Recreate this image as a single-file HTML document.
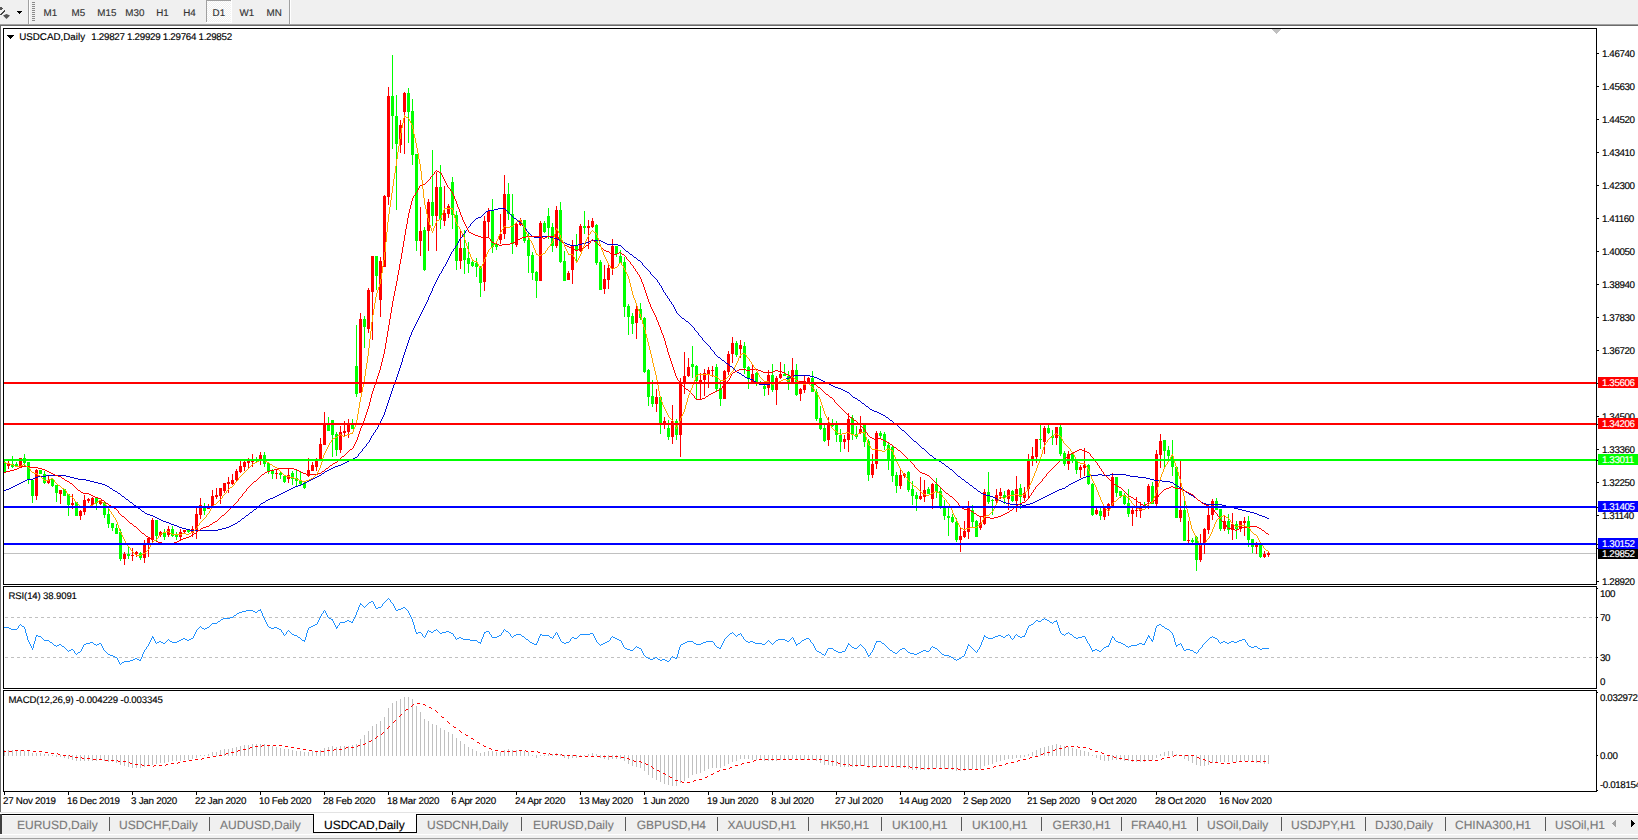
<!DOCTYPE html><html><head><meta charset="utf-8"><title>USDCAD,Daily</title><style>html,body{margin:0;padding:0;background:#fff;}body{width:1638px;height:840px;overflow:hidden;position:relative;}svg text{white-space:pre;}</style></head><body><svg width="1638" height="840" viewBox="0 0 1638 840" shape-rendering="crispEdges" text-rendering="geometricPrecision" font-family="Liberation Sans, Arial, sans-serif" style="position:absolute;left:0;top:0">
<rect x="0" y="0" width="1638" height="840" fill="#ffffff"/>
<rect x="0" y="0" width="1638" height="24" fill="#f0f0f0"/>
<rect x="0" y="24" width="1638" height="1" fill="#a0a0a0"/>
<rect x="0" y="25" width="1638" height="1" fill="#6b6b6b"/>
<path d="M0 7 L2 7 L3 9 L1 10 L0 10 Z" fill="#555"/>
<path d="M0 14 L4 10 L5 11 L1 15 L0 15 Z" fill="#444"/>
<path d="M3 15.5 L6.5 14 L10 15.5 L6.5 19 Z" fill="#555" shape-rendering="auto"/>
<rect x="17" y="11" width="5" height="1" fill="#000"/>
<rect x="18" y="12" width="3" height="1" fill="#000"/>
<rect x="19" y="13" width="1" height="1" fill="#000"/>
<rect x="28" y="0" width="1" height="24" fill="#a0a0a0"/>
<rect x="29" y="0" width="1" height="24" fill="#ffffff"/>
<rect x="32" y="2" width="3" height="1" fill="#8a8a8a"/>
<rect x="32" y="4" width="3" height="1" fill="#8a8a8a"/>
<rect x="32" y="6" width="3" height="1" fill="#8a8a8a"/>
<rect x="32" y="8" width="3" height="1" fill="#8a8a8a"/>
<rect x="32" y="10" width="3" height="1" fill="#8a8a8a"/>
<rect x="32" y="12" width="3" height="1" fill="#8a8a8a"/>
<rect x="32" y="14" width="3" height="1" fill="#8a8a8a"/>
<rect x="32" y="16" width="3" height="1" fill="#8a8a8a"/>
<rect x="32" y="18" width="3" height="1" fill="#8a8a8a"/>
<rect x="32" y="20" width="3" height="1" fill="#8a8a8a"/>
<rect x="289" y="0" width="1" height="24" fill="#a0a0a0"/>
<rect x="290" y="0" width="1" height="24" fill="#ffffff"/>
<defs><pattern id="chk" x="0" y="0" width="2" height="2" patternUnits="userSpaceOnUse"><rect width="2" height="2" fill="#f0f0f0"/><rect width="1" height="1" fill="#fff"/><rect x="1" y="1" width="1" height="1" fill="#fff"/></pattern></defs>
<rect x="206" y="0" width="25" height="22" fill="url(#chk)"/>
<rect x="206" y="0" width="25" height="1" fill="#a0a0a0"/>
<rect x="206" y="0" width="1" height="22" fill="#a0a0a0"/>
<rect x="231" y="0" width="1" height="23" fill="#ffffff"/>
<rect x="206" y="22" width="26" height="1" fill="#ffffff"/>
<text x="43.6" y="16" font-size="9.8" fill="#333333" stroke="#333333" stroke-width="0.15">M1</text>
<text x="71.6" y="16" font-size="9.8" fill="#333333" stroke="#333333" stroke-width="0.15">M5</text>
<text x="97.3" y="16" font-size="9.8" fill="#333333" stroke="#333333" stroke-width="0.15">M15</text>
<text x="125.3" y="16" font-size="9.8" fill="#333333" stroke="#333333" stroke-width="0.15">M30</text>
<text x="156.2" y="16" font-size="9.8" fill="#333333" stroke="#333333" stroke-width="0.15">H1</text>
<text x="183.2" y="16" font-size="9.8" fill="#333333" stroke="#333333" stroke-width="0.15">H4</text>
<text x="212.6" y="16" font-size="9.8" fill="#333333" stroke="#333333" stroke-width="0.15">D1</text>
<text x="239.6" y="16" font-size="9.8" fill="#333333" stroke="#333333" stroke-width="0.15">W1</text>
<text x="266.5" y="16" font-size="9.8" fill="#333333" stroke="#333333" stroke-width="0.15">MN</text>
<rect x="0" y="26" width="1" height="786" fill="#6d6d6d"/>
<defs><clipPath id="cm"><rect x="4" y="29" width="1592" height="555"/></clipPath><clipPath id="cr"><rect x="4" y="587" width="1592" height="101"/></clipPath><clipPath id="cd"><rect x="4" y="691" width="1592" height="100"/></clipPath></defs>
<g clip-path="url(#cm)">
<rect x="4" y="553" width="1592" height="1" fill="#c0c0c0"/>
<rect x="4" y="460" width="1" height="13" fill="#00ff00"/>
<rect x="3" y="462" width="3" height="10" fill="#00ff00"/>
<rect x="8" y="461" width="1" height="8" fill="#ff0000"/>
<rect x="7" y="464" width="3" height="2" fill="#ff0000"/>
<rect x="12" y="456" width="1" height="12" fill="#00ff00"/>
<rect x="11" y="464" width="3" height="3" fill="#00ff00"/>
<rect x="16" y="462" width="1" height="4" fill="#00ff00"/>
<rect x="15" y="464" width="3" height="2" fill="#00ff00"/>
<rect x="20" y="458" width="1" height="10" fill="#ff0000"/>
<rect x="19" y="458" width="3" height="9" fill="#ff0000"/>
<rect x="24" y="454" width="1" height="12" fill="#00ff00"/>
<rect x="23" y="458" width="3" height="5" fill="#00ff00"/>
<rect x="28" y="462" width="1" height="22" fill="#00ff00"/>
<rect x="27" y="462" width="3" height="17" fill="#00ff00"/>
<rect x="32" y="480" width="1" height="23" fill="#00ff00"/>
<rect x="31" y="480" width="3" height="16" fill="#00ff00"/>
<rect x="36" y="469" width="1" height="31" fill="#ff0000"/>
<rect x="35" y="470" width="3" height="26" fill="#ff0000"/>
<rect x="40" y="470" width="1" height="4" fill="#00ff00"/>
<rect x="39" y="470" width="3" height="4" fill="#00ff00"/>
<rect x="44" y="471" width="1" height="13" fill="#00ff00"/>
<rect x="43" y="474" width="3" height="9" fill="#00ff00"/>
<rect x="48" y="476" width="1" height="8" fill="#ff0000"/>
<rect x="47" y="480" width="3" height="3" fill="#ff0000"/>
<rect x="52" y="478" width="1" height="9" fill="#00ff00"/>
<rect x="51" y="479" width="3" height="7" fill="#00ff00"/>
<rect x="56" y="485" width="1" height="17" fill="#00ff00"/>
<rect x="55" y="485" width="3" height="8" fill="#00ff00"/>
<rect x="60" y="490" width="1" height="14" fill="#ff0000"/>
<rect x="59" y="490" width="3" height="4" fill="#ff0000"/>
<rect x="64" y="489" width="1" height="7" fill="#00ff00"/>
<rect x="63" y="489" width="3" height="7" fill="#00ff00"/>
<rect x="68" y="494" width="1" height="22" fill="#00ff00"/>
<rect x="67" y="494" width="3" height="11" fill="#00ff00"/>
<rect x="72" y="494" width="1" height="15" fill="#ff0000"/>
<rect x="71" y="503" width="3" height="2" fill="#ff0000"/>
<rect x="76" y="502" width="1" height="14" fill="#00ff00"/>
<rect x="75" y="502" width="3" height="14" fill="#00ff00"/>
<rect x="80" y="510" width="1" height="10" fill="#ff0000"/>
<rect x="79" y="511" width="3" height="5" fill="#ff0000"/>
<rect x="84" y="495" width="1" height="20" fill="#ff0000"/>
<rect x="83" y="500" width="3" height="12" fill="#ff0000"/>
<rect x="88" y="498" width="1" height="5" fill="#ff0000"/>
<rect x="87" y="499" width="3" height="2" fill="#ff0000"/>
<rect x="92" y="497" width="1" height="8" fill="#ff0000"/>
<rect x="91" y="498" width="3" height="7" fill="#ff0000"/>
<rect x="96" y="498" width="1" height="12" fill="#00ff00"/>
<rect x="95" y="498" width="3" height="5" fill="#00ff00"/>
<rect x="100" y="500" width="1" height="5" fill="#ff0000"/>
<rect x="99" y="500" width="3" height="4" fill="#ff0000"/>
<rect x="104" y="502" width="1" height="16" fill="#00ff00"/>
<rect x="103" y="502" width="3" height="13" fill="#00ff00"/>
<rect x="108" y="509" width="1" height="19" fill="#00ff00"/>
<rect x="107" y="514" width="3" height="10" fill="#00ff00"/>
<rect x="112" y="523" width="1" height="8" fill="#00ff00"/>
<rect x="111" y="523" width="3" height="5" fill="#00ff00"/>
<rect x="116" y="524" width="1" height="10" fill="#00ff00"/>
<rect x="115" y="528" width="3" height="6" fill="#00ff00"/>
<rect x="120" y="529" width="1" height="32" fill="#00ff00"/>
<rect x="119" y="532" width="3" height="27" fill="#00ff00"/>
<rect x="124" y="552" width="1" height="13" fill="#ff0000"/>
<rect x="123" y="554" width="3" height="5" fill="#ff0000"/>
<rect x="128" y="547" width="1" height="12" fill="#00ff00"/>
<rect x="127" y="554" width="3" height="2" fill="#00ff00"/>
<rect x="132" y="548" width="1" height="13" fill="#ff0000"/>
<rect x="131" y="555" width="3" height="1" fill="#ff0000"/>
<rect x="136" y="551" width="1" height="6" fill="#ff0000"/>
<rect x="135" y="552" width="3" height="2" fill="#ff0000"/>
<rect x="140" y="552" width="1" height="8" fill="#00ff00"/>
<rect x="139" y="553" width="3" height="5" fill="#00ff00"/>
<rect x="144" y="540" width="1" height="23" fill="#ff0000"/>
<rect x="143" y="545" width="3" height="13" fill="#ff0000"/>
<rect x="148" y="537" width="1" height="20" fill="#ff0000"/>
<rect x="147" y="538" width="3" height="7" fill="#ff0000"/>
<rect x="152" y="518" width="1" height="25" fill="#ff0000"/>
<rect x="151" y="520" width="3" height="20" fill="#ff0000"/>
<rect x="156" y="520" width="1" height="21" fill="#00ff00"/>
<rect x="155" y="520" width="3" height="16" fill="#00ff00"/>
<rect x="160" y="531" width="1" height="6" fill="#ff0000"/>
<rect x="159" y="532" width="3" height="3" fill="#ff0000"/>
<rect x="164" y="529" width="1" height="11" fill="#00ff00"/>
<rect x="163" y="533" width="3" height="4" fill="#00ff00"/>
<rect x="168" y="526" width="1" height="11" fill="#ff0000"/>
<rect x="167" y="529" width="3" height="6" fill="#ff0000"/>
<rect x="172" y="526" width="1" height="11" fill="#00ff00"/>
<rect x="171" y="529" width="3" height="7" fill="#00ff00"/>
<rect x="176" y="532" width="1" height="8" fill="#00ff00"/>
<rect x="175" y="535" width="3" height="2" fill="#00ff00"/>
<rect x="180" y="529" width="1" height="11" fill="#ff0000"/>
<rect x="179" y="532" width="3" height="5" fill="#ff0000"/>
<rect x="184" y="530" width="1" height="3" fill="#ff0000"/>
<rect x="183" y="530" width="3" height="2" fill="#ff0000"/>
<rect x="188" y="529" width="1" height="4" fill="#00ff00"/>
<rect x="187" y="530" width="3" height="2" fill="#00ff00"/>
<rect x="192" y="526" width="1" height="11" fill="#ff0000"/>
<rect x="191" y="529" width="3" height="4" fill="#ff0000"/>
<rect x="196" y="508" width="1" height="31" fill="#ff0000"/>
<rect x="195" y="514" width="3" height="16" fill="#ff0000"/>
<rect x="200" y="498" width="1" height="21" fill="#ff0000"/>
<rect x="199" y="505" width="3" height="10" fill="#ff0000"/>
<rect x="204" y="503" width="1" height="12" fill="#00ff00"/>
<rect x="203" y="506" width="3" height="5" fill="#00ff00"/>
<rect x="208" y="504" width="1" height="5" fill="#ff0000"/>
<rect x="207" y="506" width="3" height="3" fill="#ff0000"/>
<rect x="212" y="490" width="1" height="16" fill="#ff0000"/>
<rect x="211" y="496" width="3" height="10" fill="#ff0000"/>
<rect x="216" y="488" width="1" height="11" fill="#ff0000"/>
<rect x="215" y="495" width="3" height="2" fill="#ff0000"/>
<rect x="220" y="488" width="1" height="16" fill="#ff0000"/>
<rect x="219" y="488" width="3" height="8" fill="#ff0000"/>
<rect x="224" y="483" width="1" height="10" fill="#ff0000"/>
<rect x="223" y="483" width="3" height="8" fill="#ff0000"/>
<rect x="228" y="477" width="1" height="16" fill="#ff0000"/>
<rect x="227" y="482" width="3" height="2" fill="#ff0000"/>
<rect x="232" y="474" width="1" height="11" fill="#ff0000"/>
<rect x="231" y="480" width="3" height="4" fill="#ff0000"/>
<rect x="236" y="469" width="1" height="12" fill="#ff0000"/>
<rect x="235" y="471" width="3" height="9" fill="#ff0000"/>
<rect x="240" y="461" width="1" height="12" fill="#ff0000"/>
<rect x="239" y="466" width="3" height="6" fill="#ff0000"/>
<rect x="244" y="460" width="1" height="11" fill="#ff0000"/>
<rect x="243" y="462" width="3" height="5" fill="#ff0000"/>
<rect x="248" y="458" width="1" height="11" fill="#ff0000"/>
<rect x="247" y="461" width="3" height="2" fill="#ff0000"/>
<rect x="252" y="454" width="1" height="13" fill="#ff0000"/>
<rect x="251" y="460" width="3" height="2" fill="#ff0000"/>
<rect x="256" y="457" width="1" height="5" fill="#00ff00"/>
<rect x="255" y="460" width="3" height="1" fill="#00ff00"/>
<rect x="260" y="452" width="1" height="13" fill="#ff0000"/>
<rect x="259" y="455" width="3" height="4" fill="#ff0000"/>
<rect x="264" y="452" width="1" height="15" fill="#00ff00"/>
<rect x="263" y="455" width="3" height="9" fill="#00ff00"/>
<rect x="268" y="463" width="1" height="11" fill="#00ff00"/>
<rect x="267" y="463" width="3" height="8" fill="#00ff00"/>
<rect x="272" y="469" width="1" height="10" fill="#00ff00"/>
<rect x="271" y="471" width="3" height="3" fill="#00ff00"/>
<rect x="276" y="470" width="1" height="9" fill="#ff0000"/>
<rect x="275" y="473" width="3" height="1" fill="#ff0000"/>
<rect x="280" y="471" width="1" height="8" fill="#00ff00"/>
<rect x="279" y="473" width="3" height="2" fill="#00ff00"/>
<rect x="284" y="476" width="1" height="7" fill="#00ff00"/>
<rect x="283" y="476" width="3" height="6" fill="#00ff00"/>
<rect x="288" y="468" width="1" height="15" fill="#ff0000"/>
<rect x="287" y="475" width="3" height="4" fill="#ff0000"/>
<rect x="292" y="471" width="1" height="14" fill="#00ff00"/>
<rect x="291" y="473" width="3" height="6" fill="#00ff00"/>
<rect x="296" y="470" width="1" height="16" fill="#00ff00"/>
<rect x="295" y="478" width="3" height="3" fill="#00ff00"/>
<rect x="300" y="471" width="1" height="15" fill="#00ff00"/>
<rect x="299" y="481" width="3" height="3" fill="#00ff00"/>
<rect x="304" y="482" width="1" height="7" fill="#00ff00"/>
<rect x="303" y="483" width="3" height="5" fill="#00ff00"/>
<rect x="308" y="458" width="1" height="19" fill="#ff0000"/>
<rect x="307" y="470" width="3" height="6" fill="#ff0000"/>
<rect x="312" y="462" width="1" height="9" fill="#ff0000"/>
<rect x="311" y="465" width="3" height="6" fill="#ff0000"/>
<rect x="316" y="458" width="1" height="13" fill="#ff0000"/>
<rect x="315" y="461" width="3" height="6" fill="#ff0000"/>
<rect x="320" y="438" width="1" height="22" fill="#ff0000"/>
<rect x="319" y="444" width="3" height="15" fill="#ff0000"/>
<rect x="324" y="412" width="1" height="33" fill="#ff0000"/>
<rect x="323" y="423" width="3" height="22" fill="#ff0000"/>
<rect x="328" y="417" width="1" height="14" fill="#00ff00"/>
<rect x="327" y="425" width="3" height="6" fill="#00ff00"/>
<rect x="332" y="420" width="1" height="37" fill="#00ff00"/>
<rect x="331" y="420" width="3" height="15" fill="#00ff00"/>
<rect x="336" y="432" width="1" height="24" fill="#00ff00"/>
<rect x="335" y="434" width="3" height="16" fill="#00ff00"/>
<rect x="340" y="426" width="1" height="27" fill="#ff0000"/>
<rect x="339" y="432" width="3" height="18" fill="#ff0000"/>
<rect x="344" y="421" width="1" height="16" fill="#ff0000"/>
<rect x="343" y="431" width="3" height="2" fill="#ff0000"/>
<rect x="348" y="419" width="1" height="19" fill="#ff0000"/>
<rect x="347" y="425" width="3" height="7" fill="#ff0000"/>
<rect x="352" y="419" width="1" height="10" fill="#00ff00"/>
<rect x="351" y="424" width="3" height="5" fill="#00ff00"/>
<rect x="356" y="325" width="1" height="72" fill="#00ff00"/>
<rect x="355" y="366" width="3" height="28" fill="#00ff00"/>
<rect x="360" y="313" width="1" height="80" fill="#ff0000"/>
<rect x="359" y="319" width="3" height="74" fill="#ff0000"/>
<rect x="364" y="316" width="1" height="32" fill="#00ff00"/>
<rect x="363" y="319" width="3" height="8" fill="#00ff00"/>
<rect x="368" y="288" width="1" height="45" fill="#ff0000"/>
<rect x="367" y="290" width="3" height="39" fill="#ff0000"/>
<rect x="372" y="256" width="1" height="84" fill="#ff0000"/>
<rect x="371" y="256" width="3" height="36" fill="#ff0000"/>
<rect x="376" y="256" width="1" height="34" fill="#00ff00"/>
<rect x="375" y="256" width="3" height="20" fill="#00ff00"/>
<rect x="380" y="257" width="1" height="60" fill="#ff0000"/>
<rect x="379" y="261" width="3" height="39" fill="#ff0000"/>
<rect x="384" y="195" width="1" height="72" fill="#ff0000"/>
<rect x="383" y="196" width="3" height="71" fill="#ff0000"/>
<rect x="388" y="87" width="1" height="118" fill="#ff0000"/>
<rect x="387" y="96" width="3" height="101" fill="#ff0000"/>
<rect x="392" y="55" width="1" height="94" fill="#00ff00"/>
<rect x="391" y="96" width="3" height="20" fill="#00ff00"/>
<rect x="396" y="95" width="1" height="115" fill="#00ff00"/>
<rect x="395" y="116" width="3" height="28" fill="#00ff00"/>
<rect x="400" y="120" width="1" height="33" fill="#ff0000"/>
<rect x="399" y="125" width="3" height="20" fill="#ff0000"/>
<rect x="404" y="92" width="1" height="62" fill="#ff0000"/>
<rect x="403" y="93" width="3" height="19" fill="#ff0000"/>
<rect x="408" y="88" width="1" height="55" fill="#00ff00"/>
<rect x="407" y="93" width="3" height="19" fill="#00ff00"/>
<rect x="412" y="99" width="1" height="66" fill="#00ff00"/>
<rect x="411" y="111" width="3" height="44" fill="#00ff00"/>
<rect x="416" y="154" width="1" height="97" fill="#00ff00"/>
<rect x="415" y="154" width="3" height="87" fill="#00ff00"/>
<rect x="420" y="207" width="1" height="49" fill="#ff0000"/>
<rect x="419" y="231" width="3" height="10" fill="#ff0000"/>
<rect x="424" y="227" width="1" height="44" fill="#00ff00"/>
<rect x="423" y="230" width="3" height="40" fill="#00ff00"/>
<rect x="428" y="199" width="1" height="52" fill="#ff0000"/>
<rect x="427" y="202" width="3" height="29" fill="#ff0000"/>
<rect x="432" y="150" width="1" height="76" fill="#00ff00"/>
<rect x="431" y="202" width="3" height="14" fill="#00ff00"/>
<rect x="436" y="172" width="1" height="79" fill="#ff0000"/>
<rect x="435" y="187" width="3" height="29" fill="#ff0000"/>
<rect x="440" y="165" width="1" height="64" fill="#00ff00"/>
<rect x="439" y="187" width="3" height="33" fill="#00ff00"/>
<rect x="444" y="186" width="1" height="40" fill="#ff0000"/>
<rect x="443" y="213" width="3" height="8" fill="#ff0000"/>
<rect x="448" y="204" width="1" height="14" fill="#ff0000"/>
<rect x="447" y="206" width="3" height="8" fill="#ff0000"/>
<rect x="452" y="177" width="1" height="52" fill="#00ff00"/>
<rect x="451" y="182" width="3" height="33" fill="#00ff00"/>
<rect x="456" y="211" width="1" height="59" fill="#00ff00"/>
<rect x="455" y="215" width="3" height="46" fill="#00ff00"/>
<rect x="460" y="231" width="1" height="38" fill="#ff0000"/>
<rect x="459" y="248" width="3" height="13" fill="#ff0000"/>
<rect x="464" y="230" width="1" height="44" fill="#00ff00"/>
<rect x="463" y="248" width="3" height="12" fill="#00ff00"/>
<rect x="468" y="242" width="1" height="31" fill="#00ff00"/>
<rect x="467" y="258" width="3" height="6" fill="#00ff00"/>
<rect x="472" y="261" width="1" height="6" fill="#00ff00"/>
<rect x="471" y="262" width="3" height="4" fill="#00ff00"/>
<rect x="476" y="258" width="1" height="19" fill="#00ff00"/>
<rect x="475" y="263" width="3" height="4" fill="#00ff00"/>
<rect x="480" y="266" width="1" height="31" fill="#00ff00"/>
<rect x="479" y="267" width="3" height="16" fill="#00ff00"/>
<rect x="484" y="216" width="1" height="75" fill="#ff0000"/>
<rect x="483" y="221" width="3" height="61" fill="#ff0000"/>
<rect x="488" y="208" width="1" height="30" fill="#ff0000"/>
<rect x="487" y="211" width="3" height="11" fill="#ff0000"/>
<rect x="492" y="199" width="1" height="54" fill="#00ff00"/>
<rect x="491" y="211" width="3" height="36" fill="#00ff00"/>
<rect x="496" y="243" width="1" height="7" fill="#00ff00"/>
<rect x="495" y="244" width="3" height="3" fill="#00ff00"/>
<rect x="500" y="214" width="1" height="30" fill="#ff0000"/>
<rect x="499" y="234" width="3" height="6" fill="#ff0000"/>
<rect x="504" y="175" width="1" height="64" fill="#ff0000"/>
<rect x="503" y="194" width="3" height="40" fill="#ff0000"/>
<rect x="508" y="183" width="1" height="37" fill="#00ff00"/>
<rect x="507" y="194" width="3" height="20" fill="#00ff00"/>
<rect x="512" y="194" width="1" height="60" fill="#00ff00"/>
<rect x="511" y="214" width="3" height="30" fill="#00ff00"/>
<rect x="516" y="222" width="1" height="25" fill="#ff0000"/>
<rect x="515" y="224" width="3" height="21" fill="#ff0000"/>
<rect x="520" y="218" width="1" height="8" fill="#ff0000"/>
<rect x="519" y="220" width="3" height="5" fill="#ff0000"/>
<rect x="524" y="220" width="1" height="23" fill="#00ff00"/>
<rect x="523" y="220" width="3" height="21" fill="#00ff00"/>
<rect x="528" y="233" width="1" height="40" fill="#00ff00"/>
<rect x="527" y="240" width="3" height="16" fill="#00ff00"/>
<rect x="532" y="252" width="1" height="28" fill="#00ff00"/>
<rect x="531" y="255" width="3" height="18" fill="#00ff00"/>
<rect x="536" y="271" width="1" height="27" fill="#00ff00"/>
<rect x="535" y="272" width="3" height="9" fill="#00ff00"/>
<rect x="540" y="221" width="1" height="60" fill="#ff0000"/>
<rect x="539" y="223" width="3" height="58" fill="#ff0000"/>
<rect x="544" y="221" width="1" height="12" fill="#00ff00"/>
<rect x="543" y="223" width="3" height="9" fill="#00ff00"/>
<rect x="548" y="208" width="1" height="31" fill="#00ff00"/>
<rect x="547" y="216" width="3" height="12" fill="#00ff00"/>
<rect x="552" y="223" width="1" height="29" fill="#00ff00"/>
<rect x="551" y="227" width="3" height="19" fill="#00ff00"/>
<rect x="556" y="206" width="1" height="42" fill="#ff0000"/>
<rect x="555" y="210" width="3" height="36" fill="#ff0000"/>
<rect x="560" y="202" width="1" height="61" fill="#00ff00"/>
<rect x="559" y="210" width="3" height="52" fill="#00ff00"/>
<rect x="564" y="251" width="1" height="30" fill="#00ff00"/>
<rect x="563" y="261" width="3" height="20" fill="#00ff00"/>
<rect x="568" y="271" width="1" height="9" fill="#ff0000"/>
<rect x="567" y="273" width="3" height="7" fill="#ff0000"/>
<rect x="572" y="240" width="1" height="44" fill="#ff0000"/>
<rect x="571" y="246" width="3" height="24" fill="#ff0000"/>
<rect x="576" y="234" width="1" height="28" fill="#00ff00"/>
<rect x="575" y="246" width="3" height="4" fill="#00ff00"/>
<rect x="580" y="224" width="1" height="28" fill="#ff0000"/>
<rect x="579" y="226" width="3" height="25" fill="#ff0000"/>
<rect x="584" y="211" width="1" height="23" fill="#00ff00"/>
<rect x="583" y="226" width="3" height="2" fill="#00ff00"/>
<rect x="588" y="220" width="1" height="29" fill="#ff0000"/>
<rect x="587" y="226" width="3" height="2" fill="#ff0000"/>
<rect x="592" y="218" width="1" height="10" fill="#ff0000"/>
<rect x="591" y="221" width="3" height="6" fill="#ff0000"/>
<rect x="596" y="224" width="1" height="41" fill="#00ff00"/>
<rect x="595" y="225" width="3" height="38" fill="#00ff00"/>
<rect x="600" y="260" width="1" height="30" fill="#00ff00"/>
<rect x="599" y="262" width="3" height="28" fill="#00ff00"/>
<rect x="604" y="265" width="1" height="29" fill="#ff0000"/>
<rect x="603" y="279" width="3" height="10" fill="#ff0000"/>
<rect x="608" y="265" width="1" height="24" fill="#ff0000"/>
<rect x="607" y="268" width="3" height="12" fill="#ff0000"/>
<rect x="612" y="239" width="1" height="36" fill="#ff0000"/>
<rect x="611" y="246" width="3" height="23" fill="#ff0000"/>
<rect x="616" y="246" width="1" height="11" fill="#00ff00"/>
<rect x="615" y="246" width="3" height="8" fill="#00ff00"/>
<rect x="620" y="250" width="1" height="13" fill="#00ff00"/>
<rect x="619" y="256" width="3" height="7" fill="#00ff00"/>
<rect x="624" y="257" width="1" height="60" fill="#00ff00"/>
<rect x="623" y="262" width="3" height="45" fill="#00ff00"/>
<rect x="628" y="304" width="1" height="31" fill="#00ff00"/>
<rect x="627" y="306" width="3" height="11" fill="#00ff00"/>
<rect x="632" y="313" width="1" height="21" fill="#00ff00"/>
<rect x="631" y="316" width="3" height="8" fill="#00ff00"/>
<rect x="636" y="304" width="1" height="35" fill="#ff0000"/>
<rect x="635" y="309" width="3" height="14" fill="#ff0000"/>
<rect x="640" y="303" width="1" height="17" fill="#00ff00"/>
<rect x="639" y="309" width="3" height="9" fill="#00ff00"/>
<rect x="644" y="317" width="1" height="56" fill="#00ff00"/>
<rect x="643" y="318" width="3" height="54" fill="#00ff00"/>
<rect x="648" y="369" width="1" height="37" fill="#00ff00"/>
<rect x="647" y="370" width="3" height="27" fill="#00ff00"/>
<rect x="652" y="380" width="1" height="27" fill="#00ff00"/>
<rect x="651" y="396" width="3" height="8" fill="#00ff00"/>
<rect x="656" y="389" width="1" height="23" fill="#ff0000"/>
<rect x="655" y="397" width="3" height="7" fill="#ff0000"/>
<rect x="660" y="397" width="1" height="37" fill="#00ff00"/>
<rect x="659" y="397" width="3" height="26" fill="#00ff00"/>
<rect x="664" y="417" width="1" height="12" fill="#ff0000"/>
<rect x="663" y="421" width="3" height="3" fill="#ff0000"/>
<rect x="668" y="420" width="1" height="20" fill="#00ff00"/>
<rect x="667" y="428" width="3" height="9" fill="#00ff00"/>
<rect x="672" y="405" width="1" height="39" fill="#ff0000"/>
<rect x="671" y="421" width="3" height="16" fill="#ff0000"/>
<rect x="676" y="419" width="1" height="21" fill="#00ff00"/>
<rect x="675" y="421" width="3" height="14" fill="#00ff00"/>
<rect x="680" y="378" width="1" height="79" fill="#ff0000"/>
<rect x="679" y="383" width="3" height="52" fill="#ff0000"/>
<rect x="684" y="352" width="1" height="42" fill="#ff0000"/>
<rect x="683" y="376" width="3" height="7" fill="#ff0000"/>
<rect x="688" y="358" width="1" height="19" fill="#ff0000"/>
<rect x="687" y="367" width="3" height="9" fill="#ff0000"/>
<rect x="692" y="346" width="1" height="32" fill="#00ff00"/>
<rect x="691" y="364" width="3" height="3" fill="#00ff00"/>
<rect x="696" y="365" width="1" height="35" fill="#00ff00"/>
<rect x="695" y="366" width="3" height="15" fill="#00ff00"/>
<rect x="700" y="373" width="1" height="27" fill="#ff0000"/>
<rect x="699" y="380" width="3" height="2" fill="#ff0000"/>
<rect x="704" y="369" width="1" height="27" fill="#ff0000"/>
<rect x="703" y="373" width="3" height="7" fill="#ff0000"/>
<rect x="708" y="367" width="1" height="21" fill="#ff0000"/>
<rect x="707" y="370" width="3" height="4" fill="#ff0000"/>
<rect x="712" y="366" width="1" height="11" fill="#ff0000"/>
<rect x="711" y="370" width="3" height="1" fill="#ff0000"/>
<rect x="716" y="364" width="1" height="28" fill="#00ff00"/>
<rect x="715" y="367" width="3" height="22" fill="#00ff00"/>
<rect x="720" y="381" width="1" height="25" fill="#00ff00"/>
<rect x="719" y="388" width="3" height="11" fill="#00ff00"/>
<rect x="724" y="370" width="1" height="29" fill="#ff0000"/>
<rect x="723" y="371" width="3" height="28" fill="#ff0000"/>
<rect x="728" y="351" width="1" height="24" fill="#ff0000"/>
<rect x="727" y="354" width="3" height="18" fill="#ff0000"/>
<rect x="732" y="337" width="1" height="26" fill="#ff0000"/>
<rect x="731" y="343" width="3" height="11" fill="#ff0000"/>
<rect x="736" y="341" width="1" height="16" fill="#00ff00"/>
<rect x="735" y="343" width="3" height="12" fill="#00ff00"/>
<rect x="740" y="340" width="1" height="18" fill="#ff0000"/>
<rect x="739" y="345" width="3" height="4" fill="#ff0000"/>
<rect x="744" y="342" width="1" height="32" fill="#00ff00"/>
<rect x="743" y="346" width="3" height="22" fill="#00ff00"/>
<rect x="748" y="366" width="1" height="23" fill="#00ff00"/>
<rect x="747" y="367" width="3" height="11" fill="#00ff00"/>
<rect x="752" y="365" width="1" height="17" fill="#ff0000"/>
<rect x="751" y="374" width="3" height="8" fill="#ff0000"/>
<rect x="756" y="372" width="1" height="14" fill="#00ff00"/>
<rect x="755" y="373" width="3" height="10" fill="#00ff00"/>
<rect x="760" y="381" width="1" height="3" fill="#00ff00"/>
<rect x="759" y="382" width="3" height="1" fill="#00ff00"/>
<rect x="764" y="385" width="1" height="11" fill="#00ff00"/>
<rect x="763" y="386" width="3" height="3" fill="#00ff00"/>
<rect x="768" y="370" width="1" height="25" fill="#ff0000"/>
<rect x="767" y="375" width="3" height="13" fill="#ff0000"/>
<rect x="772" y="364" width="1" height="28" fill="#00ff00"/>
<rect x="771" y="375" width="3" height="15" fill="#00ff00"/>
<rect x="776" y="376" width="1" height="29" fill="#ff0000"/>
<rect x="775" y="378" width="3" height="12" fill="#ff0000"/>
<rect x="780" y="362" width="1" height="17" fill="#ff0000"/>
<rect x="779" y="374" width="3" height="4" fill="#ff0000"/>
<rect x="784" y="364" width="1" height="12" fill="#00ff00"/>
<rect x="783" y="374" width="3" height="2" fill="#00ff00"/>
<rect x="788" y="371" width="1" height="19" fill="#00ff00"/>
<rect x="787" y="376" width="3" height="6" fill="#00ff00"/>
<rect x="792" y="358" width="1" height="24" fill="#ff0000"/>
<rect x="791" y="370" width="3" height="12" fill="#ff0000"/>
<rect x="796" y="364" width="1" height="32" fill="#00ff00"/>
<rect x="795" y="370" width="3" height="25" fill="#00ff00"/>
<rect x="800" y="388" width="1" height="13" fill="#ff0000"/>
<rect x="799" y="389" width="3" height="5" fill="#ff0000"/>
<rect x="804" y="376" width="1" height="17" fill="#ff0000"/>
<rect x="803" y="381" width="3" height="9" fill="#ff0000"/>
<rect x="808" y="377" width="1" height="6" fill="#ff0000"/>
<rect x="807" y="378" width="3" height="5" fill="#ff0000"/>
<rect x="812" y="371" width="1" height="21" fill="#00ff00"/>
<rect x="811" y="378" width="3" height="14" fill="#00ff00"/>
<rect x="816" y="389" width="1" height="32" fill="#00ff00"/>
<rect x="815" y="392" width="3" height="27" fill="#00ff00"/>
<rect x="820" y="406" width="1" height="24" fill="#00ff00"/>
<rect x="819" y="418" width="3" height="11" fill="#00ff00"/>
<rect x="824" y="425" width="1" height="17" fill="#00ff00"/>
<rect x="823" y="428" width="3" height="13" fill="#00ff00"/>
<rect x="828" y="417" width="1" height="29" fill="#ff0000"/>
<rect x="827" y="423" width="3" height="17" fill="#ff0000"/>
<rect x="832" y="419" width="1" height="8" fill="#00ff00"/>
<rect x="831" y="424" width="3" height="2" fill="#00ff00"/>
<rect x="836" y="421" width="1" height="21" fill="#00ff00"/>
<rect x="835" y="425" width="3" height="10" fill="#00ff00"/>
<rect x="840" y="429" width="1" height="23" fill="#00ff00"/>
<rect x="839" y="435" width="3" height="7" fill="#00ff00"/>
<rect x="844" y="435" width="1" height="14" fill="#ff0000"/>
<rect x="843" y="439" width="3" height="3" fill="#ff0000"/>
<rect x="848" y="413" width="1" height="39" fill="#ff0000"/>
<rect x="847" y="419" width="3" height="21" fill="#ff0000"/>
<rect x="852" y="415" width="1" height="25" fill="#00ff00"/>
<rect x="851" y="418" width="3" height="17" fill="#00ff00"/>
<rect x="856" y="426" width="1" height="13" fill="#00ff00"/>
<rect x="855" y="434" width="3" height="3" fill="#00ff00"/>
<rect x="860" y="416" width="1" height="18" fill="#ff0000"/>
<rect x="859" y="429" width="3" height="4" fill="#ff0000"/>
<rect x="864" y="425" width="1" height="22" fill="#00ff00"/>
<rect x="863" y="425" width="3" height="17" fill="#00ff00"/>
<rect x="868" y="439" width="1" height="42" fill="#00ff00"/>
<rect x="867" y="441" width="3" height="34" fill="#00ff00"/>
<rect x="872" y="454" width="1" height="24" fill="#ff0000"/>
<rect x="871" y="464" width="3" height="11" fill="#ff0000"/>
<rect x="876" y="431" width="1" height="38" fill="#ff0000"/>
<rect x="875" y="433" width="3" height="31" fill="#ff0000"/>
<rect x="880" y="431" width="1" height="7" fill="#00ff00"/>
<rect x="879" y="433" width="3" height="3" fill="#00ff00"/>
<rect x="884" y="432" width="1" height="18" fill="#00ff00"/>
<rect x="883" y="434" width="3" height="12" fill="#00ff00"/>
<rect x="888" y="442" width="1" height="28" fill="#00ff00"/>
<rect x="887" y="445" width="3" height="16" fill="#00ff00"/>
<rect x="892" y="446" width="1" height="36" fill="#00ff00"/>
<rect x="891" y="447" width="3" height="29" fill="#00ff00"/>
<rect x="896" y="472" width="1" height="21" fill="#00ff00"/>
<rect x="895" y="475" width="3" height="11" fill="#00ff00"/>
<rect x="900" y="469" width="1" height="20" fill="#ff0000"/>
<rect x="899" y="475" width="3" height="11" fill="#ff0000"/>
<rect x="904" y="473" width="1" height="5" fill="#ff0000"/>
<rect x="903" y="474" width="3" height="2" fill="#ff0000"/>
<rect x="908" y="471" width="1" height="21" fill="#00ff00"/>
<rect x="907" y="472" width="3" height="18" fill="#00ff00"/>
<rect x="912" y="481" width="1" height="24" fill="#00ff00"/>
<rect x="911" y="489" width="3" height="7" fill="#00ff00"/>
<rect x="916" y="492" width="1" height="19" fill="#00ff00"/>
<rect x="915" y="495" width="3" height="4" fill="#00ff00"/>
<rect x="920" y="477" width="1" height="23" fill="#ff0000"/>
<rect x="919" y="496" width="3" height="3" fill="#ff0000"/>
<rect x="924" y="480" width="1" height="22" fill="#ff0000"/>
<rect x="923" y="490" width="3" height="7" fill="#ff0000"/>
<rect x="928" y="487" width="1" height="7" fill="#00ff00"/>
<rect x="927" y="489" width="3" height="5" fill="#00ff00"/>
<rect x="932" y="483" width="1" height="26" fill="#ff0000"/>
<rect x="931" y="484" width="3" height="15" fill="#ff0000"/>
<rect x="936" y="478" width="1" height="20" fill="#00ff00"/>
<rect x="935" y="484" width="3" height="8" fill="#00ff00"/>
<rect x="940" y="488" width="1" height="21" fill="#00ff00"/>
<rect x="939" y="491" width="3" height="15" fill="#00ff00"/>
<rect x="944" y="500" width="1" height="20" fill="#00ff00"/>
<rect x="943" y="506" width="3" height="10" fill="#00ff00"/>
<rect x="948" y="508" width="1" height="28" fill="#00ff00"/>
<rect x="947" y="516" width="3" height="2" fill="#00ff00"/>
<rect x="952" y="514" width="1" height="9" fill="#00ff00"/>
<rect x="951" y="517" width="3" height="5" fill="#00ff00"/>
<rect x="956" y="518" width="1" height="24" fill="#00ff00"/>
<rect x="955" y="522" width="3" height="18" fill="#00ff00"/>
<rect x="960" y="527" width="1" height="25" fill="#ff0000"/>
<rect x="959" y="536" width="3" height="4" fill="#ff0000"/>
<rect x="964" y="521" width="1" height="17" fill="#ff0000"/>
<rect x="963" y="531" width="3" height="6" fill="#ff0000"/>
<rect x="968" y="501" width="1" height="38" fill="#ff0000"/>
<rect x="967" y="508" width="3" height="24" fill="#ff0000"/>
<rect x="972" y="505" width="1" height="22" fill="#00ff00"/>
<rect x="971" y="510" width="3" height="12" fill="#00ff00"/>
<rect x="976" y="520" width="1" height="17" fill="#00ff00"/>
<rect x="975" y="521" width="3" height="16" fill="#00ff00"/>
<rect x="980" y="516" width="1" height="14" fill="#ff0000"/>
<rect x="979" y="523" width="3" height="5" fill="#ff0000"/>
<rect x="984" y="489" width="1" height="36" fill="#ff0000"/>
<rect x="983" y="492" width="3" height="32" fill="#ff0000"/>
<rect x="988" y="472" width="1" height="32" fill="#00ff00"/>
<rect x="987" y="492" width="3" height="10" fill="#00ff00"/>
<rect x="992" y="499" width="1" height="16" fill="#00ff00"/>
<rect x="991" y="500" width="3" height="1" fill="#00ff00"/>
<rect x="996" y="489" width="1" height="16" fill="#ff0000"/>
<rect x="995" y="495" width="3" height="6" fill="#ff0000"/>
<rect x="1000" y="488" width="1" height="11" fill="#ff0000"/>
<rect x="999" y="492" width="3" height="4" fill="#ff0000"/>
<rect x="1004" y="491" width="1" height="13" fill="#00ff00"/>
<rect x="1003" y="495" width="3" height="3" fill="#00ff00"/>
<rect x="1008" y="489" width="1" height="21" fill="#ff0000"/>
<rect x="1007" y="490" width="3" height="9" fill="#ff0000"/>
<rect x="1012" y="490" width="1" height="12" fill="#00ff00"/>
<rect x="1011" y="491" width="3" height="10" fill="#00ff00"/>
<rect x="1016" y="476" width="1" height="36" fill="#ff0000"/>
<rect x="1015" y="489" width="3" height="12" fill="#ff0000"/>
<rect x="1020" y="484" width="1" height="25" fill="#00ff00"/>
<rect x="1019" y="488" width="3" height="9" fill="#00ff00"/>
<rect x="1024" y="487" width="1" height="14" fill="#ff0000"/>
<rect x="1023" y="493" width="3" height="5" fill="#ff0000"/>
<rect x="1028" y="454" width="1" height="44" fill="#ff0000"/>
<rect x="1027" y="461" width="3" height="28" fill="#ff0000"/>
<rect x="1032" y="447" width="1" height="19" fill="#ff0000"/>
<rect x="1031" y="456" width="3" height="5" fill="#ff0000"/>
<rect x="1036" y="439" width="1" height="24" fill="#ff0000"/>
<rect x="1035" y="439" width="3" height="18" fill="#ff0000"/>
<rect x="1040" y="425" width="1" height="24" fill="#00ff00"/>
<rect x="1039" y="439" width="3" height="1" fill="#00ff00"/>
<rect x="1044" y="426" width="1" height="28" fill="#ff0000"/>
<rect x="1043" y="428" width="3" height="14" fill="#ff0000"/>
<rect x="1048" y="425" width="1" height="9" fill="#00ff00"/>
<rect x="1047" y="428" width="3" height="5" fill="#00ff00"/>
<rect x="1052" y="430" width="1" height="15" fill="#00ff00"/>
<rect x="1051" y="436" width="3" height="2" fill="#00ff00"/>
<rect x="1056" y="427" width="1" height="18" fill="#ff0000"/>
<rect x="1055" y="427" width="3" height="11" fill="#ff0000"/>
<rect x="1060" y="425" width="1" height="31" fill="#00ff00"/>
<rect x="1059" y="427" width="3" height="27" fill="#00ff00"/>
<rect x="1064" y="451" width="1" height="15" fill="#00ff00"/>
<rect x="1063" y="453" width="3" height="11" fill="#00ff00"/>
<rect x="1068" y="451" width="1" height="19" fill="#ff0000"/>
<rect x="1067" y="454" width="3" height="10" fill="#ff0000"/>
<rect x="1072" y="453" width="1" height="10" fill="#00ff00"/>
<rect x="1071" y="454" width="3" height="6" fill="#00ff00"/>
<rect x="1076" y="460" width="1" height="14" fill="#00ff00"/>
<rect x="1075" y="461" width="3" height="9" fill="#00ff00"/>
<rect x="1080" y="465" width="1" height="13" fill="#ff0000"/>
<rect x="1079" y="467" width="3" height="3" fill="#ff0000"/>
<rect x="1084" y="448" width="1" height="28" fill="#ff0000"/>
<rect x="1083" y="465" width="3" height="3" fill="#ff0000"/>
<rect x="1088" y="464" width="1" height="21" fill="#00ff00"/>
<rect x="1087" y="465" width="3" height="19" fill="#00ff00"/>
<rect x="1092" y="483" width="1" height="33" fill="#00ff00"/>
<rect x="1091" y="484" width="3" height="31" fill="#00ff00"/>
<rect x="1096" y="508" width="1" height="7" fill="#ff0000"/>
<rect x="1095" y="510" width="3" height="4" fill="#ff0000"/>
<rect x="1100" y="508" width="1" height="12" fill="#00ff00"/>
<rect x="1099" y="511" width="3" height="5" fill="#00ff00"/>
<rect x="1104" y="506" width="1" height="14" fill="#ff0000"/>
<rect x="1103" y="508" width="3" height="9" fill="#ff0000"/>
<rect x="1108" y="503" width="1" height="13" fill="#ff0000"/>
<rect x="1107" y="504" width="3" height="5" fill="#ff0000"/>
<rect x="1112" y="473" width="1" height="35" fill="#ff0000"/>
<rect x="1111" y="477" width="3" height="31" fill="#ff0000"/>
<rect x="1116" y="477" width="1" height="20" fill="#00ff00"/>
<rect x="1115" y="477" width="3" height="16" fill="#00ff00"/>
<rect x="1120" y="491" width="1" height="7" fill="#00ff00"/>
<rect x="1119" y="491" width="3" height="5" fill="#00ff00"/>
<rect x="1124" y="493" width="1" height="12" fill="#00ff00"/>
<rect x="1123" y="495" width="3" height="9" fill="#00ff00"/>
<rect x="1128" y="489" width="1" height="28" fill="#00ff00"/>
<rect x="1127" y="503" width="3" height="11" fill="#00ff00"/>
<rect x="1132" y="508" width="1" height="18" fill="#ff0000"/>
<rect x="1131" y="510" width="3" height="4" fill="#ff0000"/>
<rect x="1136" y="497" width="1" height="20" fill="#ff0000"/>
<rect x="1135" y="510" width="3" height="1" fill="#ff0000"/>
<rect x="1140" y="502" width="1" height="16" fill="#ff0000"/>
<rect x="1139" y="506" width="3" height="5" fill="#ff0000"/>
<rect x="1144" y="502" width="1" height="6" fill="#00ff00"/>
<rect x="1143" y="505" width="3" height="2" fill="#00ff00"/>
<rect x="1148" y="484" width="1" height="25" fill="#ff0000"/>
<rect x="1147" y="486" width="3" height="16" fill="#ff0000"/>
<rect x="1152" y="482" width="1" height="22" fill="#00ff00"/>
<rect x="1151" y="486" width="3" height="18" fill="#00ff00"/>
<rect x="1156" y="450" width="1" height="57" fill="#ff0000"/>
<rect x="1155" y="454" width="3" height="50" fill="#ff0000"/>
<rect x="1160" y="434" width="1" height="34" fill="#ff0000"/>
<rect x="1159" y="441" width="3" height="14" fill="#ff0000"/>
<rect x="1164" y="440" width="1" height="27" fill="#00ff00"/>
<rect x="1163" y="440" width="3" height="11" fill="#00ff00"/>
<rect x="1168" y="446" width="1" height="14" fill="#00ff00"/>
<rect x="1167" y="450" width="3" height="6" fill="#00ff00"/>
<rect x="1172" y="440" width="1" height="36" fill="#00ff00"/>
<rect x="1171" y="456" width="3" height="11" fill="#00ff00"/>
<rect x="1176" y="467" width="1" height="51" fill="#00ff00"/>
<rect x="1175" y="467" width="3" height="51" fill="#00ff00"/>
<rect x="1180" y="461" width="1" height="61" fill="#ff0000"/>
<rect x="1179" y="510" width="3" height="8" fill="#ff0000"/>
<rect x="1184" y="501" width="1" height="40" fill="#00ff00"/>
<rect x="1183" y="510" width="3" height="31" fill="#00ff00"/>
<rect x="1188" y="521" width="1" height="22" fill="#ff0000"/>
<rect x="1187" y="540" width="3" height="1" fill="#ff0000"/>
<rect x="1192" y="538" width="1" height="5" fill="#00ff00"/>
<rect x="1191" y="540" width="3" height="2" fill="#00ff00"/>
<rect x="1196" y="536" width="1" height="35" fill="#00ff00"/>
<rect x="1195" y="537" width="3" height="23" fill="#00ff00"/>
<rect x="1200" y="534" width="1" height="28" fill="#ff0000"/>
<rect x="1199" y="545" width="3" height="15" fill="#ff0000"/>
<rect x="1204" y="528" width="1" height="26" fill="#ff0000"/>
<rect x="1203" y="529" width="3" height="14" fill="#ff0000"/>
<rect x="1208" y="507" width="1" height="27" fill="#ff0000"/>
<rect x="1207" y="515" width="3" height="15" fill="#ff0000"/>
<rect x="1212" y="499" width="1" height="21" fill="#ff0000"/>
<rect x="1211" y="501" width="3" height="14" fill="#ff0000"/>
<rect x="1216" y="498" width="1" height="12" fill="#00ff00"/>
<rect x="1215" y="501" width="3" height="9" fill="#00ff00"/>
<rect x="1220" y="509" width="1" height="22" fill="#00ff00"/>
<rect x="1219" y="509" width="3" height="20" fill="#00ff00"/>
<rect x="1224" y="516" width="1" height="15" fill="#ff0000"/>
<rect x="1223" y="521" width="3" height="8" fill="#ff0000"/>
<rect x="1228" y="514" width="1" height="20" fill="#00ff00"/>
<rect x="1227" y="521" width="3" height="9" fill="#00ff00"/>
<rect x="1232" y="513" width="1" height="27" fill="#ff0000"/>
<rect x="1231" y="524" width="3" height="6" fill="#ff0000"/>
<rect x="1236" y="521" width="1" height="18" fill="#00ff00"/>
<rect x="1235" y="524" width="3" height="5" fill="#00ff00"/>
<rect x="1240" y="521" width="1" height="11" fill="#ff0000"/>
<rect x="1239" y="521" width="3" height="8" fill="#ff0000"/>
<rect x="1244" y="517" width="1" height="19" fill="#ff0000"/>
<rect x="1243" y="521" width="3" height="2" fill="#ff0000"/>
<rect x="1248" y="516" width="1" height="31" fill="#00ff00"/>
<rect x="1247" y="521" width="3" height="19" fill="#00ff00"/>
<rect x="1252" y="539" width="1" height="14" fill="#00ff00"/>
<rect x="1251" y="539" width="3" height="8" fill="#00ff00"/>
<rect x="1256" y="542" width="1" height="12" fill="#ff0000"/>
<rect x="1255" y="545" width="3" height="2" fill="#ff0000"/>
<rect x="1260" y="542" width="1" height="16" fill="#00ff00"/>
<rect x="1259" y="543" width="3" height="14" fill="#00ff00"/>
<rect x="1264" y="551" width="1" height="7" fill="#ff0000"/>
<rect x="1263" y="554" width="3" height="3" fill="#ff0000"/>
<rect x="1268" y="551" width="1" height="6" fill="#ff0000"/>
<rect x="1267" y="553" width="3" height="2" fill="#ff0000"/>
<path d="M498 208h7v1h-7zM494 209h4v1h-4zM505 209h1v1h-1zM488 210h6v1h-6zM506 210h1v1h-1zM486 211h2v1h-2zM507 211h1v1h-1zM485 212h1v1h-1zM508 212h1v1h-1zM484 213h1v1h-1zM509 213h1v1h-1zM483 214h1v1h-1zM510 214h1v1h-1zM482 215h1v1h-1zM511 215h1v1h-1zM481 216h1v1h-1zM512 216h1v1h-1zM478 217h3v1h-3zM513 217h1v1h-1zM476 218h2v1h-2zM514 218h2v1h-2zM475 219h1v1h-1zM516 219h1v1h-1zM474 220h1v1h-1zM517 220h1v1h-1zM473 221h1v1h-1zM518 221h2v1h-2zM472 222h1v1h-1zM520 222h1v1h-1zM471 223h1v1h-1zM521 223h1v1h-1zM470 224h1v1h-1zM522 224h1v1h-1zM470 225h1v1h-1zM522 225h1v1h-1zM469 226h1v1h-1zM523 226h1v1h-1zM468 227h1v1h-1zM524 227h1v1h-1zM467 228h1v1h-1zM525 228h1v1h-1zM467 229h1v1h-1zM526 229h1v1h-1zM466 230h1v1h-1zM526 230h1v1h-1zM465 231h1v1h-1zM527 231h1v1h-1zM465 232h1v1h-1zM528 232h1v1h-1zM464 233h1v1h-1zM529 233h1v1h-1zM463 234h1v1h-1zM530 234h1v1h-1zM462 235h1v1h-1zM531 235h1v1h-1zM462 236h1v1h-1zM532 236h2v1h-2zM542 236h8v1h-8zM461 237h1v1h-1zM534 237h8v1h-8zM550 237h4v1h-4zM460 238h1v1h-1zM554 238h3v1h-3zM459 239h1v1h-1zM557 239h2v1h-2zM459 240h1v1h-1zM559 240h2v1h-2zM591 240h10v1h-10zM458 241h1v1h-1zM561 241h2v1h-2zM589 241h2v1h-2zM601 241h2v1h-2zM458 242h1v1h-1zM563 242h2v1h-2zM586 242h3v1h-3zM603 242h2v1h-2zM457 243h1v1h-1zM565 243h2v1h-2zM582 243h4v1h-4zM605 243h2v1h-2zM457 244h1v1h-1zM567 244h3v1h-3zM578 244h4v1h-4zM607 244h11v1h-11zM456 245h1v1h-1zM570 245h8v1h-8zM618 245h3v1h-3zM455 246h1v1h-1zM621 246h1v1h-1zM455 247h1v1h-1zM622 247h1v1h-1zM454 248h1v1h-1zM623 248h1v1h-1zM453 249h1v1h-1zM624 249h1v1h-1zM453 250h1v1h-1zM625 250h1v1h-1zM452 251h1v1h-1zM626 251h2v1h-2zM451 252h1v1h-1zM628 252h1v1h-1zM451 253h1v1h-1zM629 253h1v1h-1zM450 254h1v1h-1zM630 254h2v1h-2zM450 255h1v1h-1zM632 255h1v1h-1zM449 256h1v1h-1zM633 256h1v1h-1zM449 257h1v1h-1zM634 257h2v1h-2zM448 258h1v1h-1zM636 258h1v1h-1zM448 259h1v1h-1zM637 259h1v1h-1zM447 260h1v1h-1zM638 260h2v1h-2zM447 261h1v1h-1zM640 261h1v1h-1zM446 262h1v1h-1zM641 262h1v1h-1zM446 263h1v1h-1zM642 263h1v1h-1zM445 264h1v1h-1zM642 264h1v1h-1zM445 265h1v1h-1zM643 265h1v1h-1zM444 266h1v1h-1zM644 266h1v1h-1zM443 267h1v1h-1zM645 267h1v1h-1zM443 268h1v1h-1zM646 268h1v1h-1zM442 269h1v1h-1zM647 269h1v1h-1zM442 270h1v1h-1zM648 270h1v1h-1zM441 271h1v1h-1zM649 271h1v1h-1zM441 272h1v1h-1zM650 272h1v1h-1zM440 273h1v1h-1zM650 273h1v1h-1zM439 274h1v1h-1zM651 274h1v1h-1zM439 275h1v1h-1zM652 275h1v1h-1zM438 276h1v1h-1zM653 276h1v1h-1zM438 277h1v1h-1zM654 277h1v1h-1zM437 278h1v1h-1zM655 278h1v1h-1zM437 279h1v1h-1zM656 279h1v1h-1zM436 280h1v1h-1zM657 280h1v1h-1zM436 281h1v1h-1zM657 281h1v1h-1zM435 282h1v1h-1zM658 282h1v1h-1zM435 283h1v1h-1zM659 283h1v1h-1zM434 284h1v1h-1zM659 284h1v1h-1zM434 285h1v1h-1zM660 285h1v1h-1zM433 286h1v1h-1zM661 286h1v1h-1zM433 287h1v1h-1zM661 287h1v1h-1zM432 288h1v1h-1zM662 288h1v1h-1zM432 289h1v1h-1zM662 289h1v1h-1zM432 290h1v1h-1zM663 290h1v1h-1zM431 291h1v1h-1zM663 291h1v1h-1zM431 292h1v1h-1zM664 292h1v1h-1zM430 293h1v1h-1zM665 293h1v1h-1zM430 294h1v1h-1zM665 294h1v1h-1zM429 295h1v1h-1zM666 295h1v1h-1zM429 296h1v1h-1zM667 296h1v1h-1zM428 297h1v1h-1zM667 297h1v1h-1zM428 298h1v1h-1zM668 298h1v1h-1zM428 299h1v1h-1zM669 299h1v1h-1zM427 300h1v1h-1zM669 300h1v1h-1zM427 301h1v1h-1zM670 301h1v1h-1zM426 302h1v1h-1zM671 302h1v1h-1zM426 303h1v1h-1zM671 303h1v1h-1zM425 304h1v1h-1zM672 304h1v1h-1zM425 305h1v1h-1zM673 305h1v1h-1zM424 306h1v1h-1zM673 306h1v1h-1zM424 307h1v1h-1zM674 307h1v1h-1zM423 308h1v1h-1zM674 308h1v1h-1zM423 309h1v1h-1zM675 309h1v1h-1zM422 310h1v1h-1zM675 310h1v1h-1zM422 311h1v1h-1zM676 311h1v1h-1zM421 312h1v1h-1zM676 312h1v1h-1zM421 313h1v1h-1zM677 313h1v1h-1zM420 314h1v1h-1zM678 314h1v1h-1zM420 315h1v1h-1zM679 315h1v1h-1zM419 316h1v1h-1zM680 316h1v1h-1zM419 317h1v1h-1zM681 317h1v1h-1zM418 318h1v1h-1zM682 318h2v1h-2zM418 319h1v1h-1zM684 319h1v1h-1zM417 320h1v1h-1zM685 320h1v1h-1zM417 321h1v1h-1zM686 321h2v1h-2zM416 322h1v1h-1zM688 322h1v1h-1zM416 323h1v1h-1zM689 323h1v1h-1zM415 324h1v1h-1zM690 324h1v1h-1zM415 325h1v1h-1zM691 325h1v1h-1zM414 326h1v1h-1zM692 326h1v1h-1zM414 327h1v1h-1zM693 327h1v1h-1zM413 328h1v1h-1zM694 328h1v1h-1zM413 329h1v1h-1zM694 329h1v1h-1zM412 330h1v1h-1zM695 330h1v1h-1zM412 331h1v1h-1zM696 331h1v1h-1zM411 332h1v1h-1zM697 332h1v1h-1zM411 333h1v1h-1zM698 333h1v1h-1zM411 334h1v1h-1zM698 334h1v1h-1zM410 335h1v1h-1zM699 335h1v1h-1zM410 336h1v1h-1zM700 336h1v1h-1zM409 337h1v1h-1zM701 337h1v1h-1zM409 338h1v1h-1zM702 338h1v1h-1zM409 339h1v1h-1zM702 339h1v1h-1zM408 340h1v1h-1zM703 340h1v1h-1zM408 341h1v1h-1zM704 341h1v1h-1zM408 342h1v1h-1zM705 342h1v1h-1zM407 343h1v1h-1zM706 343h1v1h-1zM407 344h1v1h-1zM707 344h1v1h-1zM407 345h1v1h-1zM708 345h1v1h-1zM406 346h1v1h-1zM709 346h1v1h-1zM406 347h1v1h-1zM710 347h1v1h-1zM406 348h1v1h-1zM710 348h1v1h-1zM405 349h1v1h-1zM711 349h1v1h-1zM405 350h1v1h-1zM712 350h1v1h-1zM405 351h1v1h-1zM713 351h1v1h-1zM404 352h1v1h-1zM714 352h1v1h-1zM404 353h1v1h-1zM714 353h1v1h-1zM404 354h1v1h-1zM715 354h1v1h-1zM403 355h1v1h-1zM716 355h1v1h-1zM403 356h1v1h-1zM717 356h1v1h-1zM403 357h1v1h-1zM718 357h2v1h-2zM402 358h1v1h-1zM720 358h1v1h-1zM402 359h1v1h-1zM721 359h1v1h-1zM402 360h1v1h-1zM722 360h2v1h-2zM402 361h1v1h-1zM724 361h1v1h-1zM401 362h1v1h-1zM725 362h1v1h-1zM401 363h1v1h-1zM726 363h2v1h-2zM401 364h1v1h-1zM728 364h1v1h-1zM400 365h1v1h-1zM729 365h1v1h-1zM400 366h1v1h-1zM730 366h2v1h-2zM400 367h1v1h-1zM732 367h1v1h-1zM399 368h1v1h-1zM733 368h1v1h-1zM399 369h1v1h-1zM734 369h1v1h-1zM399 370h1v1h-1zM735 370h1v1h-1zM398 371h1v1h-1zM736 371h1v1h-1zM398 372h1v1h-1zM737 372h2v1h-2zM398 373h1v1h-1zM739 373h2v1h-2zM397 374h1v1h-1zM741 374h1v1h-1zM397 375h1v1h-1zM742 375h2v1h-2zM794 375h16v1h-16zM397 376h1v1h-1zM744 376h1v1h-1zM791 376h3v1h-3zM810 376h4v1h-4zM396 377h1v1h-1zM745 377h2v1h-2zM789 377h2v1h-2zM814 377h3v1h-3zM396 378h1v1h-1zM747 378h3v1h-3zM786 378h3v1h-3zM817 378h2v1h-2zM396 379h1v1h-1zM750 379h3v1h-3zM783 379h3v1h-3zM819 379h2v1h-2zM395 380h1v1h-1zM753 380h1v1h-1zM781 380h2v1h-2zM821 380h2v1h-2zM395 381h1v1h-1zM754 381h2v1h-2zM779 381h2v1h-2zM823 381h2v1h-2zM395 382h1v1h-1zM756 382h1v1h-1zM777 382h2v1h-2zM825 382h2v1h-2zM394 383h1v1h-1zM757 383h2v1h-2zM770 383h7v1h-7zM827 383h2v1h-2zM394 384h1v1h-1zM759 384h11v1h-11zM829 384h2v1h-2zM393 385h1v1h-1zM831 385h2v1h-2zM393 386h1v1h-1zM833 386h2v1h-2zM393 387h1v1h-1zM835 387h3v1h-3zM392 388h1v1h-1zM838 388h3v1h-3zM392 389h1v1h-1zM841 389h2v1h-2zM392 390h1v1h-1zM843 390h2v1h-2zM391 391h1v1h-1zM845 391h2v1h-2zM391 392h1v1h-1zM847 392h2v1h-2zM391 393h1v1h-1zM849 393h1v1h-1zM390 394h1v1h-1zM850 394h1v1h-1zM390 395h1v1h-1zM851 395h1v1h-1zM390 396h1v1h-1zM852 396h1v1h-1zM389 397h1v1h-1zM853 397h2v1h-2zM389 398h1v1h-1zM855 398h2v1h-2zM389 399h1v1h-1zM857 399h1v1h-1zM388 400h1v1h-1zM858 400h2v1h-2zM388 401h1v1h-1zM860 401h1v1h-1zM388 402h1v1h-1zM861 402h1v1h-1zM387 403h1v1h-1zM862 403h2v1h-2zM387 404h1v1h-1zM864 404h1v1h-1zM387 405h1v1h-1zM865 405h1v1h-1zM386 406h1v1h-1zM866 406h2v1h-2zM386 407h1v1h-1zM868 407h1v1h-1zM386 408h1v1h-1zM869 408h1v1h-1zM385 409h1v1h-1zM870 409h2v1h-2zM385 410h1v1h-1zM872 410h2v1h-2zM385 411h1v1h-1zM874 411h3v1h-3zM384 412h1v1h-1zM877 412h2v1h-2zM384 413h1v1h-1zM879 413h2v1h-2zM384 414h1v1h-1zM881 414h2v1h-2zM383 415h1v1h-1zM883 415h2v1h-2zM383 416h1v1h-1zM885 416h1v1h-1zM382 417h1v1h-1zM886 417h2v1h-2zM382 418h1v1h-1zM888 418h1v1h-1zM381 419h1v1h-1zM889 419h1v1h-1zM381 420h1v1h-1zM890 420h2v1h-2zM380 421h1v1h-1zM892 421h1v1h-1zM380 422h1v1h-1zM893 422h1v1h-1zM379 423h1v1h-1zM894 423h2v1h-2zM379 424h1v1h-1zM896 424h1v1h-1zM378 425h1v1h-1zM897 425h1v1h-1zM378 426h1v1h-1zM898 426h1v1h-1zM377 427h1v1h-1zM899 427h1v1h-1zM377 428h1v1h-1zM900 428h1v1h-1zM376 429h1v1h-1zM901 429h1v1h-1zM375 430h1v1h-1zM902 430h2v1h-2zM375 431h1v1h-1zM904 431h1v1h-1zM374 432h1v1h-1zM905 432h1v1h-1zM373 433h1v1h-1zM906 433h1v1h-1zM373 434h1v1h-1zM907 434h1v1h-1zM372 435h1v1h-1zM908 435h1v1h-1zM371 436h1v1h-1zM909 436h1v1h-1zM371 437h1v1h-1zM910 437h1v1h-1zM370 438h1v1h-1zM911 438h1v1h-1zM370 439h1v1h-1zM912 439h1v1h-1zM369 440h1v1h-1zM913 440h1v1h-1zM369 441h1v1h-1zM914 441h2v1h-2zM368 442h1v1h-1zM916 442h1v1h-1zM367 443h1v1h-1zM917 443h1v1h-1zM366 444h1v1h-1zM918 444h1v1h-1zM366 445h1v1h-1zM919 445h1v1h-1zM365 446h1v1h-1zM920 446h1v1h-1zM364 447h1v1h-1zM921 447h1v1h-1zM363 448h1v1h-1zM922 448h2v1h-2zM362 449h1v1h-1zM924 449h1v1h-1zM362 450h1v1h-1zM925 450h1v1h-1zM361 451h1v1h-1zM926 451h1v1h-1zM360 452h1v1h-1zM927 452h1v1h-1zM359 453h1v1h-1zM928 453h1v1h-1zM358 454h1v1h-1zM929 454h1v1h-1zM358 455h1v1h-1zM930 455h2v1h-2zM357 456h1v1h-1zM932 456h1v1h-1zM355 457h2v1h-2zM933 457h1v1h-1zM353 458h2v1h-2zM934 458h2v1h-2zM351 459h2v1h-2zM936 459h1v1h-1zM349 460h2v1h-2zM937 460h2v1h-2zM347 461h2v1h-2zM939 461h2v1h-2zM345 462h2v1h-2zM941 462h1v1h-1zM343 463h2v1h-2zM942 463h2v1h-2zM341 464h2v1h-2zM944 464h1v1h-1zM338 465h3v1h-3zM945 465h1v1h-1zM335 466h3v1h-3zM946 466h2v1h-2zM333 467h2v1h-2zM948 467h1v1h-1zM331 468h2v1h-2zM949 468h1v1h-1zM329 469h2v1h-2zM950 469h2v1h-2zM327 470h2v1h-2zM952 470h1v1h-1zM325 471h2v1h-2zM953 471h1v1h-1zM324 472h1v1h-1zM954 472h1v1h-1zM322 473h2v1h-2zM955 473h1v1h-1zM321 474h1v1h-1zM956 474h1v1h-1zM1098 474h4v1h-4zM1110 474h16v1h-16zM46 475h20v1h-20zM319 475h2v1h-2zM957 475h1v1h-1zM1090 475h8v1h-8zM1102 475h8v1h-8zM1126 475h4v1h-4zM38 476h8v1h-8zM66 476h4v1h-4zM317 476h2v1h-2zM958 476h2v1h-2zM1086 476h4v1h-4zM1130 476h8v1h-8zM35 477h3v1h-3zM70 477h4v1h-4zM315 477h2v1h-2zM960 477h1v1h-1zM1083 477h3v1h-3zM1138 477h8v1h-8zM33 478h2v1h-2zM74 478h4v1h-4zM313 478h2v1h-2zM961 478h1v1h-1zM1081 478h2v1h-2zM1146 478h4v1h-4zM27 479h6v1h-6zM78 479h8v1h-8zM311 479h2v1h-2zM962 479h2v1h-2zM1079 479h2v1h-2zM1150 479h4v1h-4zM25 480h2v1h-2zM86 480h4v1h-4zM309 480h2v1h-2zM964 480h1v1h-1zM1077 480h2v1h-2zM1154 480h8v1h-8zM23 481h2v1h-2zM90 481h4v1h-4zM307 481h2v1h-2zM965 481h1v1h-1zM1075 481h2v1h-2zM1162 481h8v1h-8zM21 482h2v1h-2zM94 482h4v1h-4zM305 482h2v1h-2zM966 482h2v1h-2zM1073 482h2v1h-2zM1170 482h3v1h-3zM19 483h2v1h-2zM98 483h4v1h-4zM303 483h2v1h-2zM968 483h1v1h-1zM1071 483h2v1h-2zM1173 483h1v1h-1zM17 484h2v1h-2zM102 484h3v1h-3zM301 484h2v1h-2zM969 484h1v1h-1zM1069 484h2v1h-2zM1174 484h2v1h-2zM15 485h2v1h-2zM105 485h2v1h-2zM298 485h3v1h-3zM970 485h2v1h-2zM1068 485h1v1h-1zM1176 485h1v1h-1zM13 486h2v1h-2zM107 486h2v1h-2zM295 486h3v1h-3zM972 486h1v1h-1zM1066 486h2v1h-2zM1177 486h2v1h-2zM11 487h2v1h-2zM109 487h1v1h-1zM293 487h2v1h-2zM973 487h1v1h-1zM1065 487h1v1h-1zM1179 487h2v1h-2zM9 488h2v1h-2zM110 488h2v1h-2zM291 488h2v1h-2zM974 488h2v1h-2zM1062 488h3v1h-3zM1181 488h1v1h-1zM6 489h3v1h-3zM112 489h1v1h-1zM289 489h2v1h-2zM976 489h1v1h-1zM1059 489h3v1h-3zM1182 489h2v1h-2zM3 490h3v1h-3zM113 490h2v1h-2zM287 490h2v1h-2zM977 490h1v1h-1zM1057 490h2v1h-2zM1184 490h1v1h-1zM1 491h2v1h-2zM115 491h2v1h-2zM285 491h2v1h-2zM978 491h2v1h-2zM1055 491h2v1h-2zM1185 491h1v1h-1zM0 492h1v1h-1zM117 492h1v1h-1zM283 492h2v1h-2zM980 492h1v1h-1zM1053 492h2v1h-2zM1186 492h2v1h-2zM118 493h2v1h-2zM281 493h2v1h-2zM981 493h2v1h-2zM1051 493h2v1h-2zM1188 493h1v1h-1zM120 494h1v1h-1zM279 494h2v1h-2zM983 494h3v1h-3zM1049 494h2v1h-2zM1189 494h2v1h-2zM121 495h1v1h-1zM277 495h2v1h-2zM986 495h4v1h-4zM1047 495h2v1h-2zM1191 495h2v1h-2zM122 496h2v1h-2zM275 496h2v1h-2zM990 496h3v1h-3zM1045 496h2v1h-2zM1193 496h1v1h-1zM124 497h1v1h-1zM273 497h2v1h-2zM993 497h2v1h-2zM1043 497h2v1h-2zM1194 497h2v1h-2zM125 498h1v1h-1zM270 498h3v1h-3zM995 498h2v1h-2zM1041 498h2v1h-2zM1196 498h1v1h-1zM126 499h2v1h-2zM268 499h2v1h-2zM997 499h2v1h-2zM1039 499h2v1h-2zM1197 499h1v1h-1zM128 500h1v1h-1zM266 500h2v1h-2zM999 500h2v1h-2zM1037 500h2v1h-2zM1198 500h2v1h-2zM129 501h1v1h-1zM265 501h1v1h-1zM1001 501h2v1h-2zM1035 501h2v1h-2zM1200 501h1v1h-1zM130 502h2v1h-2zM263 502h2v1h-2zM1003 502h3v1h-3zM1033 502h2v1h-2zM1201 502h2v1h-2zM132 503h1v1h-1zM261 503h2v1h-2zM1006 503h4v1h-4zM1030 503h3v1h-3zM1203 503h3v1h-3zM133 504h1v1h-1zM260 504h1v1h-1zM1010 504h12v1h-12zM1026 504h4v1h-4zM1206 504h16v1h-16zM134 505h2v1h-2zM259 505h1v1h-1zM1022 505h4v1h-4zM1222 505h4v1h-4zM136 506h1v1h-1zM258 506h1v1h-1zM1226 506h4v1h-4zM137 507h1v1h-1zM257 507h1v1h-1zM1230 507h4v1h-4zM138 508h2v1h-2zM256 508h1v1h-1zM1234 508h4v1h-4zM140 509h1v1h-1zM254 509h2v1h-2zM1238 509h4v1h-4zM141 510h1v1h-1zM253 510h1v1h-1zM1242 510h4v1h-4zM142 511h2v1h-2zM252 511h1v1h-1zM1246 511h4v1h-4zM144 512h1v1h-1zM250 512h2v1h-2zM1250 512h4v1h-4zM145 513h2v1h-2zM249 513h1v1h-1zM1254 513h3v1h-3zM147 514h3v1h-3zM248 514h1v1h-1zM1257 514h2v1h-2zM150 515h3v1h-3zM246 515h2v1h-2zM1259 515h3v1h-3zM153 516h2v1h-2zM245 516h1v1h-1zM1262 516h3v1h-3zM155 517h2v1h-2zM244 517h1v1h-1zM1265 517h2v1h-2zM157 518h2v1h-2zM242 518h2v1h-2zM1267 518h2v1h-2zM159 519h2v1h-2zM241 519h1v1h-1zM161 520h2v1h-2zM240 520h1v1h-1zM163 521h3v1h-3zM238 521h2v1h-2zM166 522h3v1h-3zM237 522h1v1h-1zM169 523h2v1h-2zM235 523h2v1h-2zM171 524h3v1h-3zM233 524h2v1h-2zM174 525h3v1h-3zM231 525h2v1h-2zM177 526h2v1h-2zM229 526h2v1h-2zM179 527h3v1h-3zM226 527h3v1h-3zM182 528h4v1h-4zM222 528h4v1h-4zM186 529h4v1h-4zM218 529h4v1h-4zM190 530h28v1h-28z" fill="#0000cd"/>
<path d="M436 170h1v1h-1zM435 171h1v1h-1zM437 171h2v1h-2zM434 172h1v1h-1zM439 172h2v1h-2zM434 173h1v1h-1zM441 173h1v1h-1zM433 174h1v1h-1zM441 174h1v1h-1zM432 175h1v1h-1zM442 175h1v1h-1zM431 176h1v1h-1zM442 176h1v1h-1zM430 177h1v1h-1zM443 177h1v1h-1zM430 178h1v1h-1zM443 178h1v1h-1zM429 179h1v1h-1zM444 179h1v1h-1zM428 180h1v1h-1zM444 180h1v1h-1zM427 181h1v1h-1zM445 181h1v1h-1zM426 182h1v1h-1zM445 182h1v1h-1zM425 183h1v1h-1zM446 183h1v1h-1zM422 184h3v1h-3zM446 184h1v1h-1zM420 185h2v1h-2zM447 185h1v1h-1zM419 186h1v1h-1zM447 186h1v1h-1zM419 187h1v1h-1zM448 187h1v1h-1zM418 188h1v1h-1zM449 188h1v1h-1zM418 189h1v1h-1zM450 189h1v1h-1zM417 190h1v1h-1zM450 190h1v1h-1zM417 191h1v1h-1zM451 191h1v1h-1zM416 192h1v1h-1zM452 192h1v1h-1zM415 193h1v1h-1zM452 193h1v1h-1zM415 194h1v1h-1zM453 194h1v1h-1zM414 195h1v1h-1zM453 195h1v1h-1zM413 196h1v1h-1zM454 196h1v1h-1zM413 197h1v1h-1zM454 197h1v1h-1zM412 198h1v1h-1zM454 198h1v1h-1zM412 199h1v1h-1zM455 199h1v1h-1zM412 200h1v1h-1zM455 200h1v1h-1zM411 201h1v1h-1zM456 201h1v1h-1zM411 202h1v1h-1zM456 202h1v1h-1zM411 203h1v1h-1zM456 203h1v1h-1zM411 204h1v1h-1zM457 204h1v1h-1zM410 205h1v1h-1zM457 205h1v1h-1zM410 206h1v1h-1zM457 206h1v1h-1zM410 207h1v1h-1zM458 207h1v1h-1zM410 208h1v1h-1zM458 208h1v1h-1zM409 209h1v1h-1zM459 209h1v1h-1zM409 210h1v1h-1zM459 210h1v1h-1zM409 211h1v1h-1zM459 211h1v1h-1zM409 212h1v1h-1zM460 212h1v1h-1zM408 213h1v1h-1zM460 213h1v1h-1zM408 214h1v1h-1zM460 214h1v1h-1zM408 215h1v1h-1zM461 215h1v1h-1zM408 216h1v1h-1zM461 216h1v1h-1zM408 217h1v1h-1zM462 217h1v1h-1zM407 218h1v1h-1zM462 218h1v1h-1zM407 219h1v1h-1zM462 219h1v1h-1zM407 220h1v1h-1zM463 220h1v1h-1zM407 221h1v1h-1zM463 221h1v1h-1zM407 222h1v1h-1zM464 222h1v1h-1zM407 223h1v1h-1zM464 223h1v1h-1zM406 224h1v1h-1zM465 224h1v1h-1zM406 225h1v1h-1zM465 225h1v1h-1zM406 226h1v1h-1zM466 226h1v1h-1zM406 227h1v1h-1zM466 227h1v1h-1zM406 228h1v1h-1zM467 228h1v1h-1zM405 229h1v1h-1zM467 229h1v1h-1zM405 230h1v1h-1zM468 230h1v1h-1zM405 231h1v1h-1zM468 231h1v1h-1zM405 232h1v1h-1zM469 232h2v1h-2zM405 233h1v1h-1zM471 233h2v1h-2zM405 234h1v1h-1zM473 234h2v1h-2zM404 235h1v1h-1zM475 235h3v1h-3zM554 235h3v1h-3zM404 236h1v1h-1zM478 236h3v1h-3zM526 236h15v1h-15zM547 236h7v1h-7zM557 236h1v1h-1zM404 237h1v1h-1zM481 237h2v1h-2zM486 237h3v1h-3zM522 237h4v1h-4zM541 237h2v1h-2zM545 237h2v1h-2zM558 237h1v1h-1zM404 238h1v1h-1zM483 238h3v1h-3zM489 238h1v1h-1zM520 238h2v1h-2zM543 238h2v1h-2zM558 238h1v1h-1zM404 239h1v1h-1zM490 239h1v1h-1zM518 239h2v1h-2zM559 239h1v1h-1zM592 239h1v1h-1zM404 240h1v1h-1zM490 240h1v1h-1zM517 240h1v1h-1zM560 240h1v1h-1zM591 240h1v1h-1zM593 240h1v1h-1zM403 241h1v1h-1zM491 241h1v1h-1zM515 241h2v1h-2zM561 241h1v1h-1zM590 241h1v1h-1zM594 241h2v1h-2zM403 242h1v1h-1zM492 242h2v1h-2zM513 242h2v1h-2zM562 242h1v1h-1zM590 242h1v1h-1zM596 242h1v1h-1zM403 243h1v1h-1zM494 243h3v1h-3zM510 243h3v1h-3zM563 243h1v1h-1zM589 243h1v1h-1zM597 243h1v1h-1zM403 244h1v1h-1zM497 244h2v1h-2zM502 244h8v1h-8zM564 244h1v1h-1zM588 244h1v1h-1zM598 244h1v1h-1zM403 245h1v1h-1zM499 245h3v1h-3zM565 245h2v1h-2zM586 245h2v1h-2zM599 245h1v1h-1zM403 246h1v1h-1zM567 246h2v1h-2zM585 246h1v1h-1zM600 246h1v1h-1zM402 247h1v1h-1zM569 247h2v1h-2zM583 247h2v1h-2zM601 247h1v1h-1zM402 248h1v1h-1zM571 248h2v1h-2zM581 248h2v1h-2zM602 248h1v1h-1zM402 249h1v1h-1zM573 249h2v1h-2zM578 249h3v1h-3zM603 249h1v1h-1zM402 250h1v1h-1zM575 250h3v1h-3zM604 250h2v1h-2zM402 251h1v1h-1zM606 251h3v1h-3zM402 252h1v1h-1zM609 252h1v1h-1zM619 252h2v1h-2zM401 253h1v1h-1zM610 253h2v1h-2zM617 253h2v1h-2zM621 253h1v1h-1zM401 254h1v1h-1zM612 254h5v1h-5zM622 254h2v1h-2zM401 255h1v1h-1zM624 255h1v1h-1zM401 256h1v1h-1zM625 256h1v1h-1zM401 257h1v1h-1zM626 257h1v1h-1zM401 258h1v1h-1zM626 258h1v1h-1zM400 259h1v1h-1zM627 259h1v1h-1zM400 260h1v1h-1zM628 260h1v1h-1zM400 261h1v1h-1zM629 261h1v1h-1zM400 262h1v1h-1zM630 262h1v1h-1zM400 263h1v1h-1zM630 263h1v1h-1zM399 264h1v1h-1zM631 264h1v1h-1zM399 265h1v1h-1zM632 265h1v1h-1zM399 266h1v1h-1zM633 266h1v1h-1zM399 267h1v1h-1zM633 267h1v1h-1zM399 268h1v1h-1zM634 268h1v1h-1zM399 269h1v1h-1zM635 269h1v1h-1zM398 270h1v1h-1zM635 270h1v1h-1zM398 271h1v1h-1zM636 271h1v1h-1zM398 272h1v1h-1zM637 272h1v1h-1zM398 273h1v1h-1zM637 273h1v1h-1zM398 274h1v1h-1zM638 274h1v1h-1zM397 275h1v1h-1zM639 275h1v1h-1zM397 276h1v1h-1zM639 276h1v1h-1zM397 277h1v1h-1zM640 277h1v1h-1zM397 278h1v1h-1zM640 278h1v1h-1zM397 279h1v1h-1zM641 279h1v1h-1zM397 280h1v1h-1zM641 280h1v1h-1zM396 281h1v1h-1zM641 281h1v1h-1zM396 282h1v1h-1zM642 282h1v1h-1zM396 283h1v1h-1zM642 283h1v1h-1zM396 284h1v1h-1zM643 284h1v1h-1zM396 285h1v1h-1zM643 285h1v1h-1zM395 286h1v1h-1zM643 286h1v1h-1zM395 287h1v1h-1zM644 287h1v1h-1zM395 288h1v1h-1zM644 288h1v1h-1zM395 289h1v1h-1zM644 289h1v1h-1zM395 290h1v1h-1zM645 290h1v1h-1zM394 291h1v1h-1zM645 291h1v1h-1zM394 292h1v1h-1zM645 292h1v1h-1zM394 293h1v1h-1zM646 293h1v1h-1zM394 294h1v1h-1zM646 294h1v1h-1zM394 295h1v1h-1zM646 295h1v1h-1zM393 296h1v1h-1zM647 296h1v1h-1zM393 297h1v1h-1zM647 297h1v1h-1zM393 298h1v1h-1zM647 298h1v1h-1zM393 299h1v1h-1zM648 299h1v1h-1zM393 300h1v1h-1zM648 300h1v1h-1zM392 301h1v1h-1zM648 301h1v1h-1zM392 302h1v1h-1zM649 302h1v1h-1zM392 303h1v1h-1zM649 303h1v1h-1zM392 304h1v1h-1zM650 304h1v1h-1zM392 305h1v1h-1zM650 305h1v1h-1zM392 306h1v1h-1zM650 306h1v1h-1zM391 307h1v1h-1zM651 307h1v1h-1zM391 308h1v1h-1zM651 308h1v1h-1zM391 309h1v1h-1zM652 309h1v1h-1zM391 310h1v1h-1zM652 310h1v1h-1zM391 311h1v1h-1zM653 311h1v1h-1zM391 312h1v1h-1zM653 312h1v1h-1zM390 313h1v1h-1zM654 313h1v1h-1zM390 314h1v1h-1zM654 314h1v1h-1zM390 315h1v1h-1zM655 315h1v1h-1zM390 316h1v1h-1zM655 316h1v1h-1zM390 317h1v1h-1zM656 317h1v1h-1zM390 318h1v1h-1zM656 318h1v1h-1zM389 319h1v1h-1zM656 319h1v1h-1zM389 320h1v1h-1zM657 320h1v1h-1zM389 321h1v1h-1zM657 321h1v1h-1zM389 322h1v1h-1zM658 322h1v1h-1zM389 323h1v1h-1zM658 323h1v1h-1zM389 324h1v1h-1zM658 324h1v1h-1zM388 325h1v1h-1zM659 325h1v1h-1zM388 326h1v1h-1zM659 326h1v1h-1zM388 327h1v1h-1zM660 327h1v1h-1zM388 328h1v1h-1zM660 328h1v1h-1zM388 329h1v1h-1zM660 329h1v1h-1zM388 330h1v1h-1zM661 330h1v1h-1zM387 331h1v1h-1zM661 331h1v1h-1zM387 332h1v1h-1zM661 332h1v1h-1zM387 333h1v1h-1zM662 333h1v1h-1zM387 334h1v1h-1zM662 334h1v1h-1zM387 335h1v1h-1zM663 335h1v1h-1zM387 336h1v1h-1zM663 336h1v1h-1zM386 337h1v1h-1zM663 337h1v1h-1zM386 338h1v1h-1zM664 338h1v1h-1zM386 339h1v1h-1zM664 339h1v1h-1zM386 340h1v1h-1zM664 340h1v1h-1zM386 341h1v1h-1zM665 341h1v1h-1zM386 342h1v1h-1zM665 342h1v1h-1zM385 343h1v1h-1zM665 343h1v1h-1zM385 344h1v1h-1zM665 344h1v1h-1zM385 345h1v1h-1zM666 345h1v1h-1zM385 346h1v1h-1zM666 346h1v1h-1zM385 347h1v1h-1zM666 347h1v1h-1zM385 348h1v1h-1zM667 348h1v1h-1zM384 349h1v1h-1zM667 349h1v1h-1zM384 350h1v1h-1zM667 350h1v1h-1zM384 351h1v1h-1zM667 351h1v1h-1zM384 352h1v1h-1zM668 352h1v1h-1zM384 353h1v1h-1zM668 353h1v1h-1zM383 354h1v1h-1zM668 354h1v1h-1zM383 355h1v1h-1zM669 355h1v1h-1zM383 356h1v1h-1zM669 356h1v1h-1zM383 357h1v1h-1zM669 357h1v1h-1zM382 358h1v1h-1zM670 358h1v1h-1zM382 359h1v1h-1zM670 359h1v1h-1zM382 360h1v1h-1zM670 360h1v1h-1zM382 361h1v1h-1zM671 361h1v1h-1zM381 362h1v1h-1zM671 362h1v1h-1zM381 363h1v1h-1zM671 363h1v1h-1zM381 364h1v1h-1zM672 364h1v1h-1zM381 365h1v1h-1zM672 365h1v1h-1zM380 366h1v1h-1zM672 366h1v1h-1zM380 367h1v1h-1zM673 367h1v1h-1zM380 368h1v1h-1zM673 368h1v1h-1zM380 369h1v1h-1zM673 369h1v1h-1zM739 369h7v1h-7zM750 369h8v1h-8zM379 370h1v1h-1zM674 370h1v1h-1zM737 370h2v1h-2zM746 370h4v1h-4zM758 370h3v1h-3zM775 370h3v1h-3zM379 371h1v1h-1zM674 371h1v1h-1zM735 371h2v1h-2zM761 371h2v1h-2zM773 371h2v1h-2zM778 371h4v1h-4zM379 372h1v1h-1zM674 372h1v1h-1zM733 372h2v1h-2zM763 372h10v1h-10zM782 372h3v1h-3zM378 373h1v1h-1zM675 373h1v1h-1zM732 373h1v1h-1zM785 373h1v1h-1zM378 374h1v1h-1zM675 374h1v1h-1zM731 374h1v1h-1zM786 374h2v1h-2zM378 375h1v1h-1zM675 375h1v1h-1zM731 375h1v1h-1zM788 375h2v1h-2zM377 376h1v1h-1zM676 376h1v1h-1zM730 376h1v1h-1zM790 376h3v1h-3zM377 377h1v1h-1zM676 377h1v1h-1zM730 377h1v1h-1zM793 377h1v1h-1zM377 378h1v1h-1zM677 378h1v1h-1zM729 378h1v1h-1zM794 378h1v1h-1zM376 379h1v1h-1zM677 379h1v1h-1zM729 379h1v1h-1zM795 379h1v1h-1zM376 380h1v1h-1zM678 380h1v1h-1zM728 380h1v1h-1zM796 380h2v1h-2zM376 381h1v1h-1zM679 381h1v1h-1zM727 381h1v1h-1zM798 381h8v1h-8zM375 382h1v1h-1zM679 382h1v1h-1zM726 382h1v1h-1zM806 382h7v1h-7zM375 383h1v1h-1zM680 383h1v1h-1zM725 383h1v1h-1zM813 383h1v1h-1zM375 384h1v1h-1zM681 384h1v1h-1zM724 384h1v1h-1zM814 384h2v1h-2zM374 385h1v1h-1zM682 385h1v1h-1zM723 385h1v1h-1zM816 385h1v1h-1zM374 386h1v1h-1zM683 386h1v1h-1zM722 386h1v1h-1zM817 386h1v1h-1zM374 387h1v1h-1zM684 387h1v1h-1zM722 387h1v1h-1zM818 387h2v1h-2zM373 388h1v1h-1zM685 388h1v1h-1zM721 388h1v1h-1zM820 388h1v1h-1zM373 389h1v1h-1zM686 389h2v1h-2zM719 389h2v1h-2zM821 389h1v1h-1zM373 390h1v1h-1zM688 390h1v1h-1zM717 390h2v1h-2zM822 390h1v1h-1zM372 391h1v1h-1zM689 391h1v1h-1zM715 391h2v1h-2zM823 391h1v1h-1zM372 392h1v1h-1zM690 392h1v1h-1zM713 392h2v1h-2zM824 392h1v1h-1zM372 393h1v1h-1zM691 393h1v1h-1zM711 393h2v1h-2zM825 393h1v1h-1zM371 394h1v1h-1zM692 394h1v1h-1zM709 394h2v1h-2zM826 394h2v1h-2zM371 395h1v1h-1zM693 395h1v1h-1zM708 395h1v1h-1zM828 395h1v1h-1zM371 396h1v1h-1zM694 396h1v1h-1zM706 396h2v1h-2zM829 396h1v1h-1zM371 397h1v1h-1zM694 397h1v1h-1zM705 397h1v1h-1zM830 397h2v1h-2zM370 398h1v1h-1zM695 398h1v1h-1zM702 398h3v1h-3zM832 398h1v1h-1zM370 399h1v1h-1zM696 399h6v1h-6zM833 399h1v1h-1zM370 400h1v1h-1zM834 400h1v1h-1zM370 401h1v1h-1zM834 401h1v1h-1zM369 402h1v1h-1zM835 402h1v1h-1zM369 403h1v1h-1zM836 403h1v1h-1zM369 404h1v1h-1zM837 404h1v1h-1zM369 405h1v1h-1zM838 405h1v1h-1zM368 406h1v1h-1zM839 406h1v1h-1zM368 407h1v1h-1zM840 407h1v1h-1zM368 408h1v1h-1zM841 408h1v1h-1zM367 409h1v1h-1zM842 409h1v1h-1zM367 410h1v1h-1zM843 410h1v1h-1zM367 411h1v1h-1zM844 411h1v1h-1zM366 412h1v1h-1zM845 412h1v1h-1zM366 413h1v1h-1zM846 413h1v1h-1zM366 414h1v1h-1zM847 414h1v1h-1zM365 415h1v1h-1zM848 415h1v1h-1zM365 416h1v1h-1zM849 416h1v1h-1zM365 417h1v1h-1zM850 417h2v1h-2zM364 418h1v1h-1zM852 418h1v1h-1zM364 419h1v1h-1zM853 419h1v1h-1zM364 420h1v1h-1zM854 420h2v1h-2zM363 421h1v1h-1zM856 421h1v1h-1zM363 422h1v1h-1zM857 422h1v1h-1zM362 423h1v1h-1zM858 423h1v1h-1zM362 424h1v1h-1zM859 424h1v1h-1zM362 425h1v1h-1zM860 425h1v1h-1zM361 426h1v1h-1zM861 426h1v1h-1zM361 427h1v1h-1zM862 427h1v1h-1zM360 428h1v1h-1zM863 428h1v1h-1zM360 429h1v1h-1zM864 429h1v1h-1zM360 430h1v1h-1zM865 430h1v1h-1zM359 431h1v1h-1zM865 431h1v1h-1zM359 432h1v1h-1zM866 432h1v1h-1zM359 433h1v1h-1zM867 433h1v1h-1zM358 434h1v1h-1zM867 434h1v1h-1zM358 435h1v1h-1zM868 435h1v1h-1zM358 436h1v1h-1zM869 436h1v1h-1zM357 437h1v1h-1zM870 437h2v1h-2zM357 438h1v1h-1zM872 438h2v1h-2zM878 438h3v1h-3zM357 439h1v1h-1zM874 439h4v1h-4zM881 439h2v1h-2zM356 440h1v1h-1zM883 440h2v1h-2zM356 441h1v1h-1zM885 441h2v1h-2zM355 442h1v1h-1zM887 442h2v1h-2zM355 443h1v1h-1zM889 443h1v1h-1zM354 444h1v1h-1zM890 444h2v1h-2zM354 445h1v1h-1zM892 445h1v1h-1zM353 446h1v1h-1zM893 446h1v1h-1zM353 447h1v1h-1zM894 447h2v1h-2zM352 448h1v1h-1zM896 448h1v1h-1zM350 449h2v1h-2zM897 449h1v1h-1zM1079 449h3v1h-3zM349 450h1v1h-1zM898 450h2v1h-2zM1077 450h2v1h-2zM1082 450h3v1h-3zM348 451h1v1h-1zM900 451h1v1h-1zM1075 451h2v1h-2zM1085 451h2v1h-2zM347 452h1v1h-1zM901 452h1v1h-1zM1073 452h2v1h-2zM1087 452h2v1h-2zM346 453h1v1h-1zM902 453h1v1h-1zM1071 453h2v1h-2zM1089 453h1v1h-1zM345 454h1v1h-1zM903 454h1v1h-1zM1069 454h2v1h-2zM1090 454h1v1h-1zM344 455h1v1h-1zM904 455h1v1h-1zM1068 455h1v1h-1zM1090 455h1v1h-1zM342 456h2v1h-2zM905 456h1v1h-1zM1067 456h1v1h-1zM1091 456h1v1h-1zM341 457h1v1h-1zM906 457h1v1h-1zM1066 457h1v1h-1zM1092 457h1v1h-1zM340 458h1v1h-1zM907 458h1v1h-1zM1065 458h1v1h-1zM1093 458h1v1h-1zM339 459h1v1h-1zM908 459h1v1h-1zM1062 459h3v1h-3zM1094 459h1v1h-1zM338 460h1v1h-1zM909 460h1v1h-1zM1060 460h2v1h-2zM1094 460h1v1h-1zM337 461h1v1h-1zM910 461h1v1h-1zM1059 461h1v1h-1zM1095 461h1v1h-1zM335 462h2v1h-2zM911 462h1v1h-1zM1058 462h1v1h-1zM1096 462h1v1h-1zM333 463h2v1h-2zM912 463h1v1h-1zM1057 463h1v1h-1zM1097 463h1v1h-1zM332 464h1v1h-1zM913 464h1v1h-1zM1056 464h1v1h-1zM1097 464h1v1h-1zM330 465h2v1h-2zM914 465h1v1h-1zM1055 465h1v1h-1zM1098 465h1v1h-1zM22 466h8v1h-8zM329 466h1v1h-1zM914 466h1v1h-1zM1054 466h1v1h-1zM1099 466h1v1h-1zM19 467h3v1h-3zM30 467h8v1h-8zM328 467h1v1h-1zM915 467h1v1h-1zM1053 467h1v1h-1zM1099 467h1v1h-1zM17 468h2v1h-2zM38 468h4v1h-4zM278 468h16v1h-16zM326 468h2v1h-2zM916 468h1v1h-1zM1052 468h1v1h-1zM1100 468h1v1h-1zM14 469h3v1h-3zM42 469h3v1h-3zM274 469h4v1h-4zM294 469h3v1h-3zM325 469h1v1h-1zM917 469h1v1h-1zM1051 469h1v1h-1zM1101 469h1v1h-1zM10 470h4v1h-4zM45 470h2v1h-2zM270 470h4v1h-4zM297 470h2v1h-2zM324 470h1v1h-1zM918 470h1v1h-1zM1050 470h1v1h-1zM1101 470h1v1h-1zM6 471h4v1h-4zM47 471h2v1h-2zM267 471h3v1h-3zM299 471h2v1h-2zM322 471h2v1h-2zM919 471h1v1h-1zM1049 471h1v1h-1zM1102 471h1v1h-1zM2 472h4v1h-4zM49 472h2v1h-2zM265 472h2v1h-2zM301 472h2v1h-2zM321 472h1v1h-1zM920 472h2v1h-2zM1048 472h1v1h-1zM1103 472h1v1h-1zM0 473h2v1h-2zM51 473h2v1h-2zM264 473h1v1h-1zM303 473h3v1h-3zM318 473h3v1h-3zM922 473h3v1h-3zM1047 473h1v1h-1zM1103 473h1v1h-1zM53 474h2v1h-2zM262 474h2v1h-2zM306 474h12v1h-12zM925 474h2v1h-2zM1046 474h1v1h-1zM1104 474h1v1h-1zM55 475h3v1h-3zM261 475h1v1h-1zM927 475h2v1h-2zM1046 475h1v1h-1zM1105 475h1v1h-1zM58 476h3v1h-3zM260 476h1v1h-1zM929 476h1v1h-1zM1045 476h1v1h-1zM1106 476h1v1h-1zM61 477h1v1h-1zM259 477h1v1h-1zM930 477h1v1h-1zM1044 477h1v1h-1zM1107 477h1v1h-1zM62 478h2v1h-2zM258 478h1v1h-1zM931 478h1v1h-1zM1043 478h1v1h-1zM1108 478h1v1h-1zM64 479h1v1h-1zM257 479h1v1h-1zM932 479h1v1h-1zM1042 479h1v1h-1zM1109 479h1v1h-1zM65 480h2v1h-2zM256 480h1v1h-1zM933 480h1v1h-1zM1042 480h1v1h-1zM1110 480h1v1h-1zM67 481h2v1h-2zM254 481h2v1h-2zM934 481h1v1h-1zM1041 481h1v1h-1zM1111 481h1v1h-1zM69 482h1v1h-1zM253 482h1v1h-1zM935 482h1v1h-1zM1040 482h1v1h-1zM1112 482h1v1h-1zM70 483h2v1h-2zM252 483h1v1h-1zM936 483h1v1h-1zM1039 483h1v1h-1zM1113 483h1v1h-1zM72 484h1v1h-1zM251 484h1v1h-1zM937 484h1v1h-1zM1038 484h1v1h-1zM1114 484h2v1h-2zM73 485h1v1h-1zM250 485h1v1h-1zM938 485h1v1h-1zM1037 485h1v1h-1zM1116 485h1v1h-1zM74 486h1v1h-1zM249 486h1v1h-1zM939 486h1v1h-1zM1036 486h1v1h-1zM1117 486h2v1h-2zM1171 486h2v1h-2zM75 487h1v1h-1zM248 487h1v1h-1zM940 487h1v1h-1zM1035 487h1v1h-1zM1119 487h2v1h-2zM1169 487h2v1h-2zM1173 487h2v1h-2zM76 488h1v1h-1zM247 488h1v1h-1zM941 488h1v1h-1zM1035 488h1v1h-1zM1121 488h1v1h-1zM1166 488h3v1h-3zM1175 488h6v1h-6zM77 489h1v1h-1zM246 489h1v1h-1zM942 489h1v1h-1zM1034 489h1v1h-1zM1122 489h1v1h-1zM1164 489h2v1h-2zM1181 489h2v1h-2zM78 490h2v1h-2zM246 490h1v1h-1zM943 490h1v1h-1zM1033 490h1v1h-1zM1123 490h1v1h-1zM1163 490h1v1h-1zM1183 490h2v1h-2zM80 491h1v1h-1zM245 491h1v1h-1zM944 491h1v1h-1zM1033 491h1v1h-1zM1124 491h1v1h-1zM1162 491h1v1h-1zM1185 491h2v1h-2zM81 492h2v1h-2zM244 492h1v1h-1zM945 492h1v1h-1zM1032 492h1v1h-1zM1125 492h1v1h-1zM1161 492h1v1h-1zM1187 492h2v1h-2zM83 493h6v1h-6zM243 493h1v1h-1zM946 493h2v1h-2zM1031 493h1v1h-1zM1126 493h1v1h-1zM1160 493h1v1h-1zM1189 493h2v1h-2zM89 494h2v1h-2zM242 494h1v1h-1zM948 494h1v1h-1zM1031 494h1v1h-1zM1127 494h1v1h-1zM1159 494h1v1h-1zM1191 494h2v1h-2zM91 495h2v1h-2zM242 495h1v1h-1zM949 495h1v1h-1zM1030 495h1v1h-1zM1128 495h1v1h-1zM1158 495h1v1h-1zM1193 495h1v1h-1zM93 496h2v1h-2zM241 496h1v1h-1zM950 496h2v1h-2zM1029 496h1v1h-1zM1129 496h2v1h-2zM1158 496h1v1h-1zM1194 496h1v1h-1zM95 497h3v1h-3zM240 497h1v1h-1zM952 497h1v1h-1zM1029 497h1v1h-1zM1131 497h2v1h-2zM1157 497h1v1h-1zM1195 497h1v1h-1zM98 498h3v1h-3zM239 498h1v1h-1zM953 498h1v1h-1zM1028 498h1v1h-1zM1133 498h1v1h-1zM1156 498h1v1h-1zM1196 498h1v1h-1zM101 499h1v1h-1zM238 499h1v1h-1zM954 499h1v1h-1zM1027 499h1v1h-1zM1134 499h2v1h-2zM1155 499h1v1h-1zM1197 499h1v1h-1zM102 500h2v1h-2zM238 500h1v1h-1zM955 500h1v1h-1zM1026 500h1v1h-1zM1136 500h1v1h-1zM1154 500h1v1h-1zM1198 500h2v1h-2zM104 501h1v1h-1zM237 501h1v1h-1zM956 501h1v1h-1zM1025 501h1v1h-1zM1137 501h1v1h-1zM1153 501h1v1h-1zM1200 501h1v1h-1zM105 502h1v1h-1zM236 502h1v1h-1zM957 502h1v1h-1zM1022 502h3v1h-3zM1138 502h2v1h-2zM1150 502h3v1h-3zM1201 502h1v1h-1zM106 503h2v1h-2zM235 503h1v1h-1zM958 503h1v1h-1zM1020 503h2v1h-2zM1140 503h1v1h-1zM1147 503h3v1h-3zM1202 503h2v1h-2zM108 504h1v1h-1zM234 504h1v1h-1zM958 504h1v1h-1zM1018 504h2v1h-2zM1141 504h2v1h-2zM1145 504h2v1h-2zM1204 504h2v1h-2zM109 505h2v1h-2zM233 505h1v1h-1zM959 505h1v1h-1zM1017 505h1v1h-1zM1143 505h2v1h-2zM1206 505h3v1h-3zM111 506h2v1h-2zM232 506h1v1h-1zM960 506h1v1h-1zM1016 506h1v1h-1zM1209 506h1v1h-1zM113 507h1v1h-1zM231 507h1v1h-1zM961 507h1v1h-1zM1014 507h2v1h-2zM1210 507h2v1h-2zM114 508h2v1h-2zM230 508h1v1h-1zM962 508h2v1h-2zM1013 508h1v1h-1zM1212 508h1v1h-1zM116 509h1v1h-1zM229 509h1v1h-1zM964 509h5v1h-5zM1012 509h1v1h-1zM1213 509h1v1h-1zM117 510h1v1h-1zM228 510h1v1h-1zM969 510h2v1h-2zM1010 510h2v1h-2zM1214 510h1v1h-1zM118 511h1v1h-1zM227 511h1v1h-1zM971 511h2v1h-2zM1009 511h1v1h-1zM1214 511h1v1h-1zM118 512h1v1h-1zM226 512h1v1h-1zM973 512h1v1h-1zM1007 512h2v1h-2zM1215 512h1v1h-1zM119 513h1v1h-1zM225 513h1v1h-1zM974 513h2v1h-2zM1005 513h2v1h-2zM1216 513h1v1h-1zM120 514h1v1h-1zM224 514h1v1h-1zM976 514h1v1h-1zM1003 514h2v1h-2zM1217 514h1v1h-1zM121 515h1v1h-1zM222 515h2v1h-2zM977 515h2v1h-2zM1001 515h2v1h-2zM1217 515h1v1h-1zM122 516h2v1h-2zM221 516h1v1h-1zM979 516h7v1h-7zM998 516h3v1h-3zM1218 516h1v1h-1zM124 517h1v1h-1zM220 517h1v1h-1zM986 517h4v1h-4zM994 517h4v1h-4zM1219 517h1v1h-1zM125 518h1v1h-1zM219 518h1v1h-1zM990 518h4v1h-4zM1219 518h1v1h-1zM126 519h1v1h-1zM218 519h1v1h-1zM1220 519h1v1h-1zM127 520h1v1h-1zM217 520h1v1h-1zM1221 520h1v1h-1zM128 521h1v1h-1zM215 521h2v1h-2zM1222 521h1v1h-1zM129 522h1v1h-1zM213 522h2v1h-2zM1223 522h1v1h-1zM130 523h2v1h-2zM212 523h1v1h-1zM1224 523h1v1h-1zM132 524h1v1h-1zM210 524h2v1h-2zM1225 524h1v1h-1zM133 525h1v1h-1zM209 525h1v1h-1zM1226 525h1v1h-1zM134 526h2v1h-2zM206 526h3v1h-3zM1226 526h1v1h-1zM1250 526h7v1h-7zM136 527h1v1h-1zM203 527h3v1h-3zM1227 527h1v1h-1zM1242 527h8v1h-8zM1257 527h2v1h-2zM137 528h1v1h-1zM201 528h2v1h-2zM1228 528h5v1h-5zM1239 528h3v1h-3zM1259 528h2v1h-2zM138 529h1v1h-1zM200 529h1v1h-1zM1233 529h2v1h-2zM1237 529h2v1h-2zM1261 529h1v1h-1zM139 530h1v1h-1zM198 530h2v1h-2zM1235 530h2v1h-2zM1262 530h2v1h-2zM140 531h1v1h-1zM197 531h1v1h-1zM1264 531h1v1h-1zM141 532h1v1h-1zM196 532h1v1h-1zM1265 532h1v1h-1zM142 533h2v1h-2zM194 533h2v1h-2zM1266 533h2v1h-2zM144 534h1v1h-1zM193 534h1v1h-1zM1268 534h1v1h-1zM145 535h1v1h-1zM191 535h2v1h-2zM146 536h2v1h-2zM189 536h2v1h-2zM148 537h2v1h-2zM186 537h3v1h-3zM150 538h3v1h-3zM183 538h3v1h-3zM153 539h1v1h-1zM181 539h2v1h-2zM154 540h2v1h-2zM179 540h2v1h-2zM156 541h2v1h-2zM177 541h2v1h-2zM158 542h4v1h-4zM174 542h3v1h-3zM162 543h12v1h-12z" fill="#ff0000"/>
<path d="M404 115h1v1h-1zM404 116h2v1h-2zM404 117h1v1h-1zM406 117h2v1h-2zM403 118h1v1h-1zM408 118h1v1h-1zM403 119h1v1h-1zM409 119h1v1h-1zM403 120h1v1h-1zM409 120h1v1h-1zM403 121h1v1h-1zM410 121h1v1h-1zM403 122h1v1h-1zM410 122h1v1h-1zM402 123h1v1h-1zM411 123h1v1h-1zM402 124h1v1h-1zM411 124h1v1h-1zM402 125h1v1h-1zM412 125h1v1h-1zM402 126h1v1h-1zM412 126h1v1h-1zM402 127h1v1h-1zM412 127h1v1h-1zM401 128h1v1h-1zM412 128h1v1h-1zM401 129h1v1h-1zM413 129h1v1h-1zM401 130h1v1h-1zM413 130h1v1h-1zM401 131h1v1h-1zM413 131h1v1h-1zM401 132h1v1h-1zM413 132h1v1h-1zM400 133h1v1h-1zM413 133h1v1h-1zM400 134h1v1h-1zM414 134h1v1h-1zM400 135h1v1h-1zM414 135h1v1h-1zM400 136h1v1h-1zM414 136h1v1h-1zM400 137h1v1h-1zM414 137h1v1h-1zM400 138h1v1h-1zM415 138h1v1h-1zM399 139h1v1h-1zM415 139h1v1h-1zM399 140h1v1h-1zM415 140h1v1h-1zM399 141h1v1h-1zM415 141h1v1h-1zM399 142h1v1h-1zM415 142h1v1h-1zM399 143h1v1h-1zM416 143h1v1h-1zM399 144h1v1h-1zM416 144h1v1h-1zM399 145h1v1h-1zM416 145h1v1h-1zM398 146h1v1h-1zM416 146h1v1h-1zM398 147h1v1h-1zM416 147h1v1h-1zM398 148h1v1h-1zM417 148h1v1h-1zM398 149h1v1h-1zM417 149h1v1h-1zM398 150h1v1h-1zM417 150h1v1h-1zM398 151h1v1h-1zM417 151h1v1h-1zM397 152h1v1h-1zM417 152h1v1h-1zM397 153h1v1h-1zM418 153h1v1h-1zM397 154h1v1h-1zM418 154h1v1h-1zM397 155h1v1h-1zM418 155h1v1h-1zM397 156h1v1h-1zM418 156h1v1h-1zM397 157h1v1h-1zM418 157h1v1h-1zM397 158h1v1h-1zM418 158h1v1h-1zM396 159h1v1h-1zM419 159h1v1h-1zM396 160h1v1h-1zM419 160h1v1h-1zM396 161h1v1h-1zM419 161h1v1h-1zM396 162h1v1h-1zM419 162h1v1h-1zM396 163h1v1h-1zM419 163h1v1h-1zM396 164h1v1h-1zM420 164h1v1h-1zM396 165h1v1h-1zM420 165h1v1h-1zM395 166h1v1h-1zM420 166h1v1h-1zM395 167h1v1h-1zM420 167h1v1h-1zM395 168h1v1h-1zM420 168h1v1h-1zM395 169h1v1h-1zM420 169h1v1h-1zM395 170h1v1h-1zM420 170h1v1h-1zM395 171h1v1h-1zM421 171h1v1h-1zM395 172h1v1h-1zM421 172h1v1h-1zM394 173h1v1h-1zM421 173h1v1h-1zM394 174h1v1h-1zM421 174h1v1h-1zM394 175h1v1h-1zM421 175h1v1h-1zM394 176h1v1h-1zM421 176h1v1h-1zM394 177h1v1h-1zM421 177h1v1h-1zM394 178h1v1h-1zM421 178h1v1h-1zM393 179h1v1h-1zM421 179h1v1h-1zM393 180h1v1h-1zM422 180h1v1h-1zM393 181h1v1h-1zM422 181h1v1h-1zM393 182h1v1h-1zM422 182h1v1h-1zM393 183h1v1h-1zM422 183h1v1h-1zM393 184h1v1h-1zM422 184h1v1h-1zM393 185h1v1h-1zM422 185h1v1h-1zM392 186h1v1h-1zM422 186h1v1h-1zM392 187h1v1h-1zM422 187h1v1h-1zM392 188h1v1h-1zM422 188h1v1h-1zM392 189h1v1h-1zM423 189h1v1h-1zM392 190h1v1h-1zM423 190h1v1h-1zM392 191h1v1h-1zM423 191h1v1h-1zM392 192h1v1h-1zM423 192h1v1h-1zM391 193h1v1h-1zM423 193h1v1h-1zM391 194h1v1h-1zM423 194h1v1h-1zM391 195h1v1h-1zM423 195h1v1h-1zM391 196h1v1h-1zM423 196h1v1h-1zM391 197h1v1h-1zM423 197h1v1h-1zM391 198h1v1h-1zM424 198h1v1h-1zM391 199h1v1h-1zM424 199h1v1h-1zM390 200h1v1h-1zM424 200h1v1h-1zM390 201h1v1h-1zM424 201h1v1h-1zM390 202h1v1h-1zM424 202h1v1h-1zM390 203h1v1h-1zM424 203h1v1h-1zM390 204h1v1h-1zM424 204h1v1h-1zM390 205h1v1h-1zM425 205h1v1h-1zM390 206h1v1h-1zM425 206h1v1h-1zM389 207h1v1h-1zM425 207h1v1h-1zM389 208h1v1h-1zM425 208h1v1h-1zM444 208h9v1h-9zM389 209h1v1h-1zM426 209h1v1h-1zM444 209h1v1h-1zM452 209h1v1h-1zM389 210h1v1h-1zM426 210h1v1h-1zM443 210h1v1h-1zM453 210h1v1h-1zM389 211h1v1h-1zM426 211h1v1h-1zM443 211h1v1h-1zM453 211h1v1h-1zM389 212h1v1h-1zM426 212h1v1h-1zM443 212h1v1h-1zM453 212h1v1h-1zM389 213h1v1h-1zM426 213h1v1h-1zM442 213h1v1h-1zM453 213h1v1h-1zM388 214h1v1h-1zM427 214h1v1h-1zM442 214h1v1h-1zM454 214h1v1h-1zM388 215h1v1h-1zM427 215h1v1h-1zM441 215h1v1h-1zM454 215h1v1h-1zM388 216h1v1h-1zM427 216h1v1h-1zM441 216h1v1h-1zM454 216h1v1h-1zM388 217h1v1h-1zM427 217h1v1h-1zM441 217h1v1h-1zM454 217h1v1h-1zM388 218h1v1h-1zM428 218h1v1h-1zM440 218h1v1h-1zM455 218h1v1h-1zM388 219h1v1h-1zM428 219h1v1h-1zM439 219h2v1h-2zM455 219h1v1h-1zM520 219h1v1h-1zM388 220h1v1h-1zM428 220h1v1h-1zM437 220h2v1h-2zM455 220h1v1h-1zM518 220h3v1h-3zM388 221h1v1h-1zM428 221h1v1h-1zM436 221h1v1h-1zM455 221h1v1h-1zM517 221h1v1h-1zM521 221h1v1h-1zM387 222h1v1h-1zM429 222h1v1h-1zM436 222h1v1h-1zM456 222h1v1h-1zM516 222h1v1h-1zM521 222h1v1h-1zM387 223h1v1h-1zM429 223h1v1h-1zM435 223h1v1h-1zM456 223h1v1h-1zM515 223h1v1h-1zM522 223h1v1h-1zM387 224h1v1h-1zM429 224h1v1h-1zM435 224h1v1h-1zM457 224h1v1h-1zM514 224h1v1h-1zM522 224h1v1h-1zM387 225h1v1h-1zM430 225h1v1h-1zM435 225h1v1h-1zM457 225h1v1h-1zM513 225h1v1h-1zM523 225h1v1h-1zM387 226h1v1h-1zM430 226h1v1h-1zM434 226h1v1h-1zM458 226h1v1h-1zM504 226h2v1h-2zM510 226h3v1h-3zM523 226h1v1h-1zM387 227h1v1h-1zM430 227h1v1h-1zM434 227h1v1h-1zM459 227h1v1h-1zM503 227h1v1h-1zM506 227h4v1h-4zM524 227h1v1h-1zM387 228h1v1h-1zM431 228h1v1h-1zM433 228h1v1h-1zM459 228h1v1h-1zM503 228h1v1h-1zM524 228h1v1h-1zM556 228h1v1h-1zM387 229h1v1h-1zM431 229h1v1h-1zM433 229h1v1h-1zM460 229h1v1h-1zM502 229h1v1h-1zM524 229h1v1h-1zM556 229h2v1h-2zM387 230h1v1h-1zM431 230h1v1h-1zM433 230h1v1h-1zM460 230h1v1h-1zM501 230h1v1h-1zM525 230h1v1h-1zM555 230h1v1h-1zM557 230h1v1h-1zM592 230h1v1h-1zM387 231h1v1h-1zM432 231h1v1h-1zM461 231h1v1h-1zM501 231h1v1h-1zM525 231h1v1h-1zM555 231h1v1h-1zM558 231h1v1h-1zM591 231h1v1h-1zM593 231h1v1h-1zM386 232h1v1h-1zM432 232h1v1h-1zM461 232h1v1h-1zM500 232h1v1h-1zM526 232h1v1h-1zM555 232h1v1h-1zM558 232h1v1h-1zM590 232h1v1h-1zM594 232h2v1h-2zM386 233h1v1h-1zM462 233h1v1h-1zM500 233h1v1h-1zM526 233h1v1h-1zM555 233h1v1h-1zM559 233h1v1h-1zM590 233h1v1h-1zM596 233h1v1h-1zM386 234h1v1h-1zM462 234h1v1h-1zM499 234h1v1h-1zM527 234h1v1h-1zM554 234h1v1h-1zM559 234h1v1h-1zM589 234h1v1h-1zM596 234h1v1h-1zM386 235h1v1h-1zM463 235h1v1h-1zM499 235h1v1h-1zM527 235h1v1h-1zM554 235h1v1h-1zM560 235h1v1h-1zM588 235h1v1h-1zM597 235h1v1h-1zM386 236h1v1h-1zM463 236h1v1h-1zM498 236h1v1h-1zM528 236h1v1h-1zM554 236h1v1h-1zM560 236h1v1h-1zM588 236h1v1h-1zM597 236h1v1h-1zM386 237h1v1h-1zM464 237h1v1h-1zM498 237h1v1h-1zM528 237h1v1h-1zM553 237h1v1h-1zM560 237h1v1h-1zM587 237h1v1h-1zM597 237h1v1h-1zM386 238h1v1h-1zM464 238h1v1h-1zM498 238h1v1h-1zM529 238h1v1h-1zM553 238h1v1h-1zM561 238h1v1h-1zM587 238h1v1h-1zM598 238h1v1h-1zM386 239h1v1h-1zM464 239h1v1h-1zM497 239h1v1h-1zM529 239h1v1h-1zM553 239h1v1h-1zM561 239h1v1h-1zM586 239h1v1h-1zM598 239h1v1h-1zM386 240h1v1h-1zM465 240h1v1h-1zM497 240h1v1h-1zM530 240h1v1h-1zM553 240h1v1h-1zM562 240h1v1h-1zM586 240h1v1h-1zM598 240h1v1h-1zM386 241h1v1h-1zM465 241h1v1h-1zM496 241h1v1h-1zM531 241h1v1h-1zM552 241h1v1h-1zM562 241h1v1h-1zM585 241h1v1h-1zM599 241h1v1h-1zM385 242h1v1h-1zM465 242h1v1h-1zM496 242h1v1h-1zM531 242h1v1h-1zM552 242h1v1h-1zM563 242h1v1h-1zM585 242h1v1h-1zM599 242h1v1h-1zM385 243h1v1h-1zM466 243h1v1h-1zM495 243h1v1h-1zM532 243h1v1h-1zM551 243h1v1h-1zM563 243h1v1h-1zM584 243h1v1h-1zM599 243h1v1h-1zM385 244h1v1h-1zM466 244h1v1h-1zM494 244h1v1h-1zM532 244h1v1h-1zM550 244h1v1h-1zM564 244h1v1h-1zM584 244h1v1h-1zM600 244h1v1h-1zM385 245h1v1h-1zM466 245h1v1h-1zM493 245h1v1h-1zM533 245h1v1h-1zM550 245h1v1h-1zM564 245h1v1h-1zM584 245h1v1h-1zM600 245h1v1h-1zM385 246h1v1h-1zM467 246h1v1h-1zM492 246h1v1h-1zM533 246h1v1h-1zM549 246h1v1h-1zM564 246h1v1h-1zM583 246h1v1h-1zM600 246h1v1h-1zM385 247h1v1h-1zM467 247h1v1h-1zM491 247h1v1h-1zM533 247h1v1h-1zM548 247h1v1h-1zM565 247h1v1h-1zM583 247h1v1h-1zM601 247h1v1h-1zM385 248h1v1h-1zM467 248h1v1h-1zM490 248h1v1h-1zM534 248h1v1h-1zM547 248h1v1h-1zM565 248h1v1h-1zM583 248h1v1h-1zM601 248h1v1h-1zM385 249h1v1h-1zM468 249h1v1h-1zM489 249h1v1h-1zM534 249h1v1h-1zM547 249h1v1h-1zM566 249h1v1h-1zM582 249h1v1h-1zM601 249h1v1h-1zM385 250h1v1h-1zM468 250h1v1h-1zM488 250h1v1h-1zM535 250h1v1h-1zM546 250h1v1h-1zM566 250h1v1h-1zM582 250h1v1h-1zM602 250h1v1h-1zM385 251h1v1h-1zM468 251h1v1h-1zM488 251h1v1h-1zM535 251h1v1h-1zM545 251h1v1h-1zM567 251h1v1h-1zM581 251h1v1h-1zM602 251h1v1h-1zM384 252h1v1h-1zM469 252h1v1h-1zM487 252h1v1h-1zM535 252h1v1h-1zM545 252h1v1h-1zM567 252h1v1h-1zM581 252h1v1h-1zM603 252h1v1h-1zM384 253h1v1h-1zM469 253h1v1h-1zM487 253h1v1h-1zM536 253h1v1h-1zM543 253h2v1h-2zM568 253h1v1h-1zM581 253h1v1h-1zM603 253h1v1h-1zM384 254h1v1h-1zM470 254h1v1h-1zM486 254h1v1h-1zM536 254h2v1h-2zM541 254h2v1h-2zM568 254h5v1h-5zM580 254h1v1h-1zM603 254h1v1h-1zM384 255h1v1h-1zM470 255h1v1h-1zM486 255h1v1h-1zM538 255h3v1h-3zM573 255h1v1h-1zM580 255h1v1h-1zM604 255h1v1h-1zM384 256h1v1h-1zM470 256h1v1h-1zM486 256h1v1h-1zM573 256h1v1h-1zM579 256h1v1h-1zM604 256h1v1h-1zM384 257h1v1h-1zM471 257h1v1h-1zM485 257h1v1h-1zM574 257h1v1h-1zM579 257h1v1h-1zM605 257h1v1h-1zM384 258h1v1h-1zM471 258h1v1h-1zM485 258h1v1h-1zM574 258h1v1h-1zM578 258h1v1h-1zM605 258h1v1h-1zM384 259h1v1h-1zM472 259h1v1h-1zM484 259h1v1h-1zM575 259h1v1h-1zM578 259h1v1h-1zM606 259h1v1h-1zM383 260h1v1h-1zM472 260h2v1h-2zM484 260h1v1h-1zM575 260h1v1h-1zM577 260h1v1h-1zM606 260h1v1h-1zM383 261h1v1h-1zM474 261h3v1h-3zM484 261h1v1h-1zM576 261h2v1h-2zM607 261h1v1h-1zM383 262h1v1h-1zM477 262h1v1h-1zM483 262h1v1h-1zM576 262h1v1h-1zM607 262h1v1h-1zM620 262h1v1h-1zM383 263h1v1h-1zM477 263h1v1h-1zM483 263h1v1h-1zM608 263h1v1h-1zM619 263h1v1h-1zM621 263h1v1h-1zM383 264h1v1h-1zM478 264h1v1h-1zM482 264h1v1h-1zM608 264h1v1h-1zM618 264h1v1h-1zM621 264h1v1h-1zM383 265h1v1h-1zM478 265h1v1h-1zM482 265h1v1h-1zM609 265h1v1h-1zM618 265h1v1h-1zM622 265h1v1h-1zM382 266h1v1h-1zM479 266h1v1h-1zM481 266h1v1h-1zM610 266h1v1h-1zM617 266h1v1h-1zM623 266h1v1h-1zM382 267h1v1h-1zM479 267h1v1h-1zM481 267h1v1h-1zM610 267h1v1h-1zM615 267h2v1h-2zM623 267h1v1h-1zM382 268h1v1h-1zM480 268h1v1h-1zM611 268h1v1h-1zM613 268h2v1h-2zM624 268h1v1h-1zM382 269h1v1h-1zM612 269h1v1h-1zM624 269h1v1h-1zM382 270h1v1h-1zM625 270h1v1h-1zM382 271h1v1h-1zM625 271h1v1h-1zM382 272h1v1h-1zM626 272h1v1h-1zM381 273h1v1h-1zM626 273h1v1h-1zM381 274h1v1h-1zM627 274h1v1h-1zM381 275h1v1h-1zM627 275h1v1h-1zM381 276h1v1h-1zM628 276h1v1h-1zM381 277h1v1h-1zM628 277h1v1h-1zM381 278h1v1h-1zM628 278h1v1h-1zM380 279h1v1h-1zM629 279h1v1h-1zM380 280h1v1h-1zM629 280h1v1h-1zM380 281h1v1h-1zM629 281h1v1h-1zM380 282h1v1h-1zM629 282h1v1h-1zM380 283h1v1h-1zM630 283h1v1h-1zM379 284h1v1h-1zM630 284h1v1h-1zM379 285h1v1h-1zM630 285h1v1h-1zM379 286h1v1h-1zM630 286h1v1h-1zM378 287h1v1h-1zM631 287h1v1h-1zM378 288h1v1h-1zM631 288h1v1h-1zM378 289h1v1h-1zM631 289h1v1h-1zM377 290h1v1h-1zM631 290h1v1h-1zM377 291h1v1h-1zM632 291h1v1h-1zM377 292h1v1h-1zM632 292h1v1h-1zM376 293h1v1h-1zM632 293h1v1h-1zM376 294h1v1h-1zM632 294h1v1h-1zM376 295h1v1h-1zM633 295h1v1h-1zM376 296h1v1h-1zM633 296h1v1h-1zM375 297h1v1h-1zM633 297h1v1h-1zM375 298h1v1h-1zM634 298h1v1h-1zM375 299h1v1h-1zM634 299h1v1h-1zM375 300h1v1h-1zM635 300h1v1h-1zM375 301h1v1h-1zM635 301h1v1h-1zM375 302h1v1h-1zM635 302h1v1h-1zM374 303h1v1h-1zM636 303h1v1h-1zM374 304h1v1h-1zM636 304h1v1h-1zM374 305h1v1h-1zM636 305h1v1h-1zM374 306h1v1h-1zM637 306h1v1h-1zM374 307h1v1h-1zM637 307h1v1h-1zM374 308h1v1h-1zM637 308h1v1h-1zM373 309h1v1h-1zM638 309h1v1h-1zM373 310h1v1h-1zM638 310h1v1h-1zM373 311h1v1h-1zM639 311h1v1h-1zM373 312h1v1h-1zM639 312h1v1h-1zM373 313h1v1h-1zM639 313h1v1h-1zM373 314h1v1h-1zM640 314h1v1h-1zM372 315h1v1h-1zM640 315h1v1h-1zM372 316h1v1h-1zM640 316h1v1h-1zM372 317h1v1h-1zM641 317h1v1h-1zM372 318h1v1h-1zM641 318h1v1h-1zM372 319h1v1h-1zM641 319h1v1h-1zM372 320h1v1h-1zM642 320h1v1h-1zM372 321h1v1h-1zM642 321h1v1h-1zM371 322h1v1h-1zM642 322h1v1h-1zM371 323h1v1h-1zM642 323h1v1h-1zM371 324h1v1h-1zM643 324h1v1h-1zM371 325h1v1h-1zM643 325h1v1h-1zM371 326h1v1h-1zM643 326h1v1h-1zM371 327h1v1h-1zM644 327h1v1h-1zM371 328h1v1h-1zM644 328h1v1h-1zM371 329h1v1h-1zM644 329h1v1h-1zM371 330h1v1h-1zM645 330h1v1h-1zM370 331h1v1h-1zM645 331h1v1h-1zM370 332h1v1h-1zM645 332h1v1h-1zM370 333h1v1h-1zM645 333h1v1h-1zM370 334h1v1h-1zM646 334h1v1h-1zM370 335h1v1h-1zM646 335h1v1h-1zM370 336h1v1h-1zM646 336h1v1h-1zM370 337h1v1h-1zM646 337h1v1h-1zM370 338h1v1h-1zM647 338h1v1h-1zM369 339h1v1h-1zM647 339h1v1h-1zM369 340h1v1h-1zM647 340h1v1h-1zM369 341h1v1h-1zM647 341h1v1h-1zM369 342h1v1h-1zM648 342h1v1h-1zM369 343h1v1h-1zM648 343h1v1h-1zM369 344h1v1h-1zM648 344h1v1h-1zM369 345h1v1h-1zM648 345h1v1h-1zM369 346h1v1h-1zM649 346h1v1h-1zM369 347h1v1h-1zM649 347h1v1h-1zM368 348h1v1h-1zM649 348h1v1h-1zM368 349h1v1h-1zM649 349h1v1h-1zM368 350h1v1h-1zM650 350h1v1h-1zM368 351h1v1h-1zM650 351h1v1h-1zM368 352h1v1h-1zM650 352h1v1h-1zM368 353h1v1h-1zM650 353h1v1h-1zM742 353h3v1h-3zM368 354h1v1h-1zM651 354h1v1h-1zM740 354h2v1h-2zM745 354h1v1h-1zM368 355h1v1h-1zM651 355h1v1h-1zM740 355h1v1h-1zM746 355h1v1h-1zM367 356h1v1h-1zM651 356h1v1h-1zM739 356h1v1h-1zM746 356h1v1h-1zM367 357h1v1h-1zM651 357h1v1h-1zM739 357h1v1h-1zM747 357h1v1h-1zM367 358h1v1h-1zM652 358h1v1h-1zM738 358h1v1h-1zM748 358h1v1h-1zM367 359h1v1h-1zM652 359h1v1h-1zM738 359h1v1h-1zM749 359h1v1h-1zM367 360h1v1h-1zM652 360h1v1h-1zM738 360h1v1h-1zM749 360h1v1h-1zM367 361h1v1h-1zM652 361h1v1h-1zM737 361h1v1h-1zM750 361h1v1h-1zM367 362h1v1h-1zM652 362h1v1h-1zM737 362h1v1h-1zM751 362h1v1h-1zM366 363h1v1h-1zM653 363h1v1h-1zM736 363h1v1h-1zM751 363h1v1h-1zM366 364h1v1h-1zM653 364h1v1h-1zM736 364h1v1h-1zM752 364h1v1h-1zM366 365h1v1h-1zM653 365h1v1h-1zM735 365h1v1h-1zM753 365h1v1h-1zM366 366h1v1h-1zM653 366h1v1h-1zM735 366h1v1h-1zM753 366h1v1h-1zM366 367h1v1h-1zM654 367h1v1h-1zM734 367h1v1h-1zM754 367h1v1h-1zM366 368h1v1h-1zM654 368h1v1h-1zM734 368h1v1h-1zM755 368h1v1h-1zM365 369h1v1h-1zM654 369h1v1h-1zM733 369h1v1h-1zM755 369h1v1h-1zM365 370h1v1h-1zM654 370h1v1h-1zM733 370h1v1h-1zM756 370h1v1h-1zM365 371h1v1h-1zM655 371h1v1h-1zM732 371h1v1h-1zM757 371h1v1h-1zM365 372h1v1h-1zM655 372h1v1h-1zM731 372h1v1h-1zM757 372h1v1h-1zM365 373h1v1h-1zM655 373h1v1h-1zM730 373h1v1h-1zM758 373h1v1h-1zM365 374h1v1h-1zM655 374h1v1h-1zM698 374h12v1h-12zM730 374h1v1h-1zM758 374h1v1h-1zM365 375h1v1h-1zM656 375h1v1h-1zM696 375h2v1h-2zM710 375h4v1h-4zM729 375h1v1h-1zM759 375h1v1h-1zM364 376h1v1h-1zM656 376h1v1h-1zM696 376h1v1h-1zM714 376h3v1h-3zM728 376h1v1h-1zM759 376h1v1h-1zM792 376h1v1h-1zM364 377h1v1h-1zM656 377h1v1h-1zM695 377h1v1h-1zM717 377h1v1h-1zM727 377h1v1h-1zM760 377h1v1h-1zM791 377h1v1h-1zM793 377h1v1h-1zM364 378h1v1h-1zM656 378h1v1h-1zM695 378h1v1h-1zM718 378h1v1h-1zM726 378h1v1h-1zM761 378h1v1h-1zM790 378h1v1h-1zM794 378h1v1h-1zM364 379h1v1h-1zM656 379h1v1h-1zM695 379h1v1h-1zM719 379h1v1h-1zM725 379h1v1h-1zM762 379h1v1h-1zM783 379h3v1h-3zM789 379h1v1h-1zM795 379h1v1h-1zM364 380h1v1h-1zM657 380h1v1h-1zM694 380h1v1h-1zM720 380h5v1h-5zM763 380h1v1h-1zM781 380h2v1h-2zM786 380h3v1h-3zM796 380h1v1h-1zM364 381h1v1h-1zM657 381h1v1h-1zM694 381h1v1h-1zM764 381h5v1h-5zM779 381h2v1h-2zM797 381h2v1h-2zM363 382h1v1h-1zM657 382h1v1h-1zM693 382h1v1h-1zM769 382h1v1h-1zM777 382h2v1h-2zM799 382h2v1h-2zM363 383h1v1h-1zM657 383h1v1h-1zM693 383h1v1h-1zM770 383h2v1h-2zM774 383h3v1h-3zM801 383h2v1h-2zM806 383h3v1h-3zM363 384h1v1h-1zM657 384h1v1h-1zM693 384h1v1h-1zM772 384h2v1h-2zM803 384h3v1h-3zM809 384h1v1h-1zM363 385h1v1h-1zM658 385h1v1h-1zM692 385h1v1h-1zM810 385h1v1h-1zM363 386h1v1h-1zM658 386h1v1h-1zM692 386h1v1h-1zM811 386h1v1h-1zM362 387h1v1h-1zM658 387h1v1h-1zM692 387h1v1h-1zM812 387h1v1h-1zM362 388h1v1h-1zM658 388h1v1h-1zM691 388h1v1h-1zM813 388h1v1h-1zM362 389h1v1h-1zM658 389h1v1h-1zM691 389h1v1h-1zM814 389h1v1h-1zM362 390h1v1h-1zM658 390h1v1h-1zM690 390h1v1h-1zM814 390h1v1h-1zM362 391h1v1h-1zM659 391h1v1h-1zM690 391h1v1h-1zM815 391h1v1h-1zM361 392h1v1h-1zM659 392h1v1h-1zM690 392h1v1h-1zM816 392h1v1h-1zM361 393h1v1h-1zM659 393h1v1h-1zM689 393h1v1h-1zM817 393h1v1h-1zM361 394h1v1h-1zM659 394h1v1h-1zM689 394h1v1h-1zM817 394h1v1h-1zM361 395h1v1h-1zM659 395h1v1h-1zM688 395h1v1h-1zM818 395h1v1h-1zM361 396h1v1h-1zM660 396h1v1h-1zM688 396h1v1h-1zM818 396h1v1h-1zM360 397h1v1h-1zM660 397h1v1h-1zM688 397h1v1h-1zM819 397h1v1h-1zM360 398h1v1h-1zM660 398h1v1h-1zM687 398h1v1h-1zM819 398h1v1h-1zM360 399h1v1h-1zM660 399h1v1h-1zM687 399h1v1h-1zM820 399h1v1h-1zM360 400h1v1h-1zM661 400h1v1h-1zM687 400h1v1h-1zM820 400h1v1h-1zM360 401h1v1h-1zM661 401h1v1h-1zM687 401h1v1h-1zM820 401h1v1h-1zM359 402h1v1h-1zM662 402h1v1h-1zM686 402h1v1h-1zM821 402h1v1h-1zM359 403h1v1h-1zM662 403h1v1h-1zM686 403h1v1h-1zM821 403h1v1h-1zM359 404h1v1h-1zM662 404h1v1h-1zM686 404h1v1h-1zM821 404h1v1h-1zM359 405h1v1h-1zM663 405h1v1h-1zM685 405h1v1h-1zM822 405h1v1h-1zM359 406h1v1h-1zM663 406h1v1h-1zM685 406h1v1h-1zM822 406h1v1h-1zM359 407h1v1h-1zM664 407h1v1h-1zM685 407h1v1h-1zM822 407h1v1h-1zM358 408h1v1h-1zM664 408h1v1h-1zM685 408h1v1h-1zM823 408h1v1h-1zM358 409h1v1h-1zM665 409h1v1h-1zM684 409h1v1h-1zM823 409h1v1h-1zM358 410h1v1h-1zM665 410h1v1h-1zM684 410h1v1h-1zM823 410h1v1h-1zM358 411h1v1h-1zM666 411h1v1h-1zM684 411h1v1h-1zM824 411h1v1h-1zM358 412h1v1h-1zM666 412h1v1h-1zM683 412h1v1h-1zM824 412h1v1h-1zM358 413h1v1h-1zM667 413h1v1h-1zM683 413h1v1h-1zM824 413h1v1h-1zM357 414h1v1h-1zM667 414h1v1h-1zM682 414h1v1h-1zM825 414h1v1h-1zM357 415h1v1h-1zM668 415h1v1h-1zM682 415h1v1h-1zM825 415h1v1h-1zM357 416h1v1h-1zM668 416h1v1h-1zM681 416h1v1h-1zM826 416h1v1h-1zM357 417h1v1h-1zM669 417h1v1h-1zM681 417h1v1h-1zM826 417h1v1h-1zM357 418h1v1h-1zM670 418h1v1h-1zM680 418h1v1h-1zM827 418h1v1h-1zM357 419h1v1h-1zM671 419h1v1h-1zM680 419h1v1h-1zM827 419h1v1h-1zM356 420h1v1h-1zM672 420h1v1h-1zM680 420h1v1h-1zM828 420h1v1h-1zM356 421h1v1h-1zM673 421h1v1h-1zM679 421h1v1h-1zM828 421h1v1h-1zM356 422h1v1h-1zM673 422h1v1h-1zM679 422h1v1h-1zM829 422h1v1h-1zM356 423h1v1h-1zM674 423h1v1h-1zM678 423h1v1h-1zM829 423h1v1h-1zM355 424h1v1h-1zM674 424h1v1h-1zM678 424h1v1h-1zM830 424h1v1h-1zM355 425h1v1h-1zM675 425h1v1h-1zM677 425h1v1h-1zM830 425h1v1h-1zM355 426h1v1h-1zM675 426h1v1h-1zM677 426h1v1h-1zM831 426h1v1h-1zM354 427h1v1h-1zM676 427h1v1h-1zM831 427h1v1h-1zM354 428h1v1h-1zM676 428h1v1h-1zM832 428h1v1h-1zM353 429h1v1h-1zM833 429h1v1h-1zM353 430h1v1h-1zM834 430h2v1h-2zM353 431h1v1h-1zM836 431h1v1h-1zM352 432h1v1h-1zM837 432h1v1h-1zM846 432h3v1h-3zM860 432h5v1h-5zM350 433h3v1h-3zM838 433h2v1h-2zM842 433h4v1h-4zM849 433h2v1h-2zM858 433h2v1h-2zM864 433h1v1h-1zM1056 433h1v1h-1zM340 434h1v1h-1zM347 434h3v1h-3zM840 434h2v1h-2zM851 434h3v1h-3zM857 434h1v1h-1zM865 434h1v1h-1zM1054 434h2v1h-2zM1057 434h1v1h-1zM338 435h2v1h-2zM341 435h2v1h-2zM345 435h2v1h-2zM854 435h3v1h-3zM865 435h1v1h-1zM1053 435h1v1h-1zM1058 435h2v1h-2zM337 436h1v1h-1zM343 436h2v1h-2zM865 436h1v1h-1zM1052 436h1v1h-1zM1060 436h1v1h-1zM335 437h2v1h-2zM866 437h1v1h-1zM1050 437h2v1h-2zM1061 437h1v1h-1zM333 438h2v1h-2zM866 438h1v1h-1zM1049 438h1v1h-1zM1061 438h1v1h-1zM332 439h1v1h-1zM866 439h1v1h-1zM1048 439h1v1h-1zM1062 439h1v1h-1zM331 440h1v1h-1zM867 440h1v1h-1zM1047 440h1v1h-1zM1062 440h1v1h-1zM331 441h1v1h-1zM867 441h1v1h-1zM1047 441h1v1h-1zM1063 441h1v1h-1zM330 442h1v1h-1zM867 442h1v1h-1zM1046 442h1v1h-1zM1063 442h1v1h-1zM329 443h1v1h-1zM868 443h1v1h-1zM1045 443h1v1h-1zM1064 443h1v1h-1zM329 444h1v1h-1zM868 444h1v1h-1zM1045 444h1v1h-1zM1065 444h1v1h-1zM328 445h1v1h-1zM869 445h1v1h-1zM1044 445h1v1h-1zM1066 445h1v1h-1zM328 446h1v1h-1zM870 446h1v1h-1zM1044 446h1v1h-1zM1067 446h1v1h-1zM327 447h1v1h-1zM870 447h1v1h-1zM1043 447h1v1h-1zM1068 447h1v1h-1zM327 448h1v1h-1zM871 448h1v1h-1zM888 448h1v1h-1zM1043 448h1v1h-1zM1069 448h1v1h-1zM326 449h1v1h-1zM872 449h6v1h-6zM886 449h2v1h-2zM889 449h2v1h-2zM1043 449h1v1h-1zM1070 449h1v1h-1zM326 450h1v1h-1zM878 450h4v1h-4zM885 450h1v1h-1zM891 450h2v1h-2zM1042 450h1v1h-1zM1070 450h1v1h-1zM325 451h1v1h-1zM882 451h3v1h-3zM892 451h1v1h-1zM1042 451h1v1h-1zM1071 451h1v1h-1zM325 452h1v1h-1zM893 452h1v1h-1zM1042 452h1v1h-1zM1072 452h1v1h-1zM324 453h1v1h-1zM893 453h1v1h-1zM1042 453h1v1h-1zM1073 453h1v1h-1zM324 454h1v1h-1zM893 454h1v1h-1zM1041 454h1v1h-1zM1073 454h1v1h-1zM1172 454h1v1h-1zM323 455h1v1h-1zM894 455h1v1h-1zM1041 455h1v1h-1zM1074 455h1v1h-1zM1171 455h2v1h-2zM323 456h1v1h-1zM894 456h1v1h-1zM1041 456h1v1h-1zM1074 456h1v1h-1zM1171 456h1v1h-1zM1173 456h1v1h-1zM323 457h1v1h-1zM895 457h1v1h-1zM1040 457h1v1h-1zM1075 457h1v1h-1zM1170 457h1v1h-1zM1173 457h1v1h-1zM322 458h1v1h-1zM895 458h1v1h-1zM1040 458h1v1h-1zM1075 458h1v1h-1zM1170 458h1v1h-1zM1173 458h1v1h-1zM322 459h1v1h-1zM895 459h1v1h-1zM1040 459h1v1h-1zM1076 459h1v1h-1zM1169 459h1v1h-1zM1174 459h1v1h-1zM259 460h6v1h-6zM322 460h1v1h-1zM896 460h1v1h-1zM1039 460h1v1h-1zM1076 460h1v1h-1zM1169 460h1v1h-1zM1174 460h1v1h-1zM0 461h2v1h-2zM257 461h2v1h-2zM265 461h2v1h-2zM322 461h1v1h-1zM896 461h1v1h-1zM1039 461h1v1h-1zM1077 461h1v1h-1zM1168 461h1v1h-1zM1174 461h1v1h-1zM2 462h4v1h-4zM255 462h2v1h-2zM267 462h2v1h-2zM321 462h1v1h-1zM897 462h1v1h-1zM1039 462h1v1h-1zM1078 462h2v1h-2zM1167 462h1v1h-1zM1174 462h1v1h-1zM6 463h4v1h-4zM253 463h2v1h-2zM269 463h1v1h-1zM321 463h1v1h-1zM897 463h1v1h-1zM1038 463h1v1h-1zM1080 463h5v1h-5zM1167 463h1v1h-1zM1175 463h1v1h-1zM10 464h3v1h-3zM23 464h2v1h-2zM252 464h1v1h-1zM270 464h2v1h-2zM321 464h1v1h-1zM898 464h1v1h-1zM1038 464h1v1h-1zM1085 464h1v1h-1zM1166 464h1v1h-1zM1175 464h1v1h-1zM13 465h2v1h-2zM21 465h2v1h-2zM25 465h1v1h-1zM251 465h1v1h-1zM272 465h1v1h-1zM320 465h1v1h-1zM898 465h1v1h-1zM1037 465h1v1h-1zM1085 465h1v1h-1zM1165 465h1v1h-1zM1175 465h1v1h-1zM15 466h6v1h-6zM26 466h2v1h-2zM250 466h1v1h-1zM273 466h2v1h-2zM320 466h1v1h-1zM899 466h1v1h-1zM1037 466h1v1h-1zM1086 466h1v1h-1zM1165 466h1v1h-1zM1176 466h1v1h-1zM28 467h1v1h-1zM249 467h1v1h-1zM275 467h2v1h-2zM320 467h1v1h-1zM899 467h1v1h-1zM1037 467h1v1h-1zM1087 467h1v1h-1zM1164 467h1v1h-1zM1176 467h1v1h-1zM29 468h1v1h-1zM248 468h1v1h-1zM277 468h1v1h-1zM319 468h1v1h-1zM900 468h1v1h-1zM1036 468h1v1h-1zM1087 468h1v1h-1zM1164 468h1v1h-1zM1176 468h1v1h-1zM30 469h1v1h-1zM247 469h1v1h-1zM278 469h1v1h-1zM319 469h1v1h-1zM900 469h1v1h-1zM1036 469h1v1h-1zM1088 469h1v1h-1zM1163 469h1v1h-1zM1177 469h1v1h-1zM30 470h1v1h-1zM246 470h1v1h-1zM279 470h1v1h-1zM318 470h1v1h-1zM901 470h1v1h-1zM1036 470h1v1h-1zM1088 470h1v1h-1zM1163 470h1v1h-1zM1177 470h1v1h-1zM31 471h1v1h-1zM245 471h1v1h-1zM280 471h1v1h-1zM318 471h1v1h-1zM902 471h1v1h-1zM1035 471h1v1h-1zM1089 471h1v1h-1zM1163 471h1v1h-1zM1177 471h1v1h-1zM32 472h2v1h-2zM244 472h1v1h-1zM281 472h1v1h-1zM317 472h1v1h-1zM902 472h1v1h-1zM1035 472h1v1h-1zM1089 472h1v1h-1zM1162 472h1v1h-1zM1178 472h1v1h-1zM34 473h3v1h-3zM243 473h1v1h-1zM282 473h1v1h-1zM317 473h1v1h-1zM903 473h1v1h-1zM1034 473h1v1h-1zM1089 473h1v1h-1zM1162 473h1v1h-1zM1178 473h1v1h-1zM37 474h1v1h-1zM242 474h1v1h-1zM283 474h1v1h-1zM316 474h1v1h-1zM904 474h1v1h-1zM1034 474h1v1h-1zM1090 474h1v1h-1zM1161 474h1v1h-1zM1178 474h1v1h-1zM38 475h2v1h-2zM241 475h1v1h-1zM284 475h2v1h-2zM315 475h1v1h-1zM905 475h1v1h-1zM1034 475h1v1h-1zM1090 475h1v1h-1zM1161 475h1v1h-1zM1178 475h1v1h-1zM40 476h1v1h-1zM240 476h1v1h-1zM286 476h4v1h-4zM314 476h1v1h-1zM905 476h1v1h-1zM1033 476h1v1h-1zM1091 476h1v1h-1zM1161 476h1v1h-1zM1179 476h1v1h-1zM41 477h1v1h-1zM239 477h1v1h-1zM290 477h4v1h-4zM313 477h1v1h-1zM906 477h1v1h-1zM1033 477h1v1h-1zM1091 477h1v1h-1zM1160 477h1v1h-1zM1179 477h1v1h-1zM42 478h1v1h-1zM51 478h2v1h-2zM238 478h1v1h-1zM294 478h3v1h-3zM311 478h2v1h-2zM907 478h1v1h-1zM1032 478h1v1h-1zM1091 478h1v1h-1zM1160 478h1v1h-1zM1179 478h1v1h-1zM43 479h1v1h-1zM49 479h2v1h-2zM53 479h1v1h-1zM238 479h1v1h-1zM297 479h2v1h-2zM309 479h2v1h-2zM907 479h1v1h-1zM1032 479h1v1h-1zM1092 479h1v1h-1zM1160 479h1v1h-1zM1180 479h1v1h-1zM44 480h5v1h-5zM54 480h1v1h-1zM237 480h1v1h-1zM299 480h3v1h-3zM306 480h3v1h-3zM908 480h1v1h-1zM1032 480h1v1h-1zM1092 480h1v1h-1zM1159 480h1v1h-1zM1180 480h1v1h-1zM54 481h1v1h-1zM236 481h1v1h-1zM302 481h4v1h-4zM909 481h1v1h-1zM1031 481h1v1h-1zM1093 481h1v1h-1zM1159 481h1v1h-1zM1180 481h1v1h-1zM55 482h1v1h-1zM235 482h1v1h-1zM910 482h1v1h-1zM1031 482h1v1h-1zM1093 482h1v1h-1zM1159 482h1v1h-1zM1180 482h1v1h-1zM56 483h1v1h-1zM234 483h1v1h-1zM911 483h1v1h-1zM1030 483h1v1h-1zM1094 483h1v1h-1zM1158 483h1v1h-1zM1181 483h1v1h-1zM57 484h1v1h-1zM234 484h1v1h-1zM912 484h1v1h-1zM1030 484h1v1h-1zM1094 484h1v1h-1zM1158 484h1v1h-1zM1181 484h1v1h-1zM58 485h2v1h-2zM233 485h1v1h-1zM913 485h1v1h-1zM1029 485h1v1h-1zM1095 485h1v1h-1zM1158 485h1v1h-1zM1181 485h1v1h-1zM60 486h1v1h-1zM232 486h1v1h-1zM914 486h2v1h-2zM1029 486h1v1h-1zM1095 486h1v1h-1zM1158 486h1v1h-1zM1181 486h1v1h-1zM61 487h1v1h-1zM230 487h2v1h-2zM916 487h1v1h-1zM1028 487h1v1h-1zM1096 487h1v1h-1zM1157 487h1v1h-1zM1182 487h1v1h-1zM62 488h2v1h-2zM229 488h1v1h-1zM917 488h1v1h-1zM1028 488h1v1h-1zM1096 488h1v1h-1zM1157 488h1v1h-1zM1182 488h1v1h-1zM64 489h1v1h-1zM228 489h1v1h-1zM918 489h1v1h-1zM1027 489h1v1h-1zM1096 489h1v1h-1zM1157 489h1v1h-1zM1182 489h1v1h-1zM65 490h1v1h-1zM227 490h1v1h-1zM919 490h1v1h-1zM1027 490h1v1h-1zM1097 490h1v1h-1zM1156 490h1v1h-1zM1182 490h1v1h-1zM66 491h1v1h-1zM226 491h1v1h-1zM920 491h1v1h-1zM935 491h2v1h-2zM1026 491h1v1h-1zM1097 491h1v1h-1zM1156 491h1v1h-1zM1182 491h1v1h-1zM66 492h1v1h-1zM226 492h1v1h-1zM921 492h1v1h-1zM933 492h2v1h-2zM937 492h2v1h-2zM1025 492h1v1h-1zM1098 492h1v1h-1zM1156 492h1v1h-1zM1183 492h1v1h-1zM67 493h1v1h-1zM225 493h1v1h-1zM922 493h2v1h-2zM931 493h2v1h-2zM939 493h2v1h-2zM1025 493h1v1h-1zM1098 493h1v1h-1zM1155 493h1v1h-1zM1183 493h1v1h-1zM68 494h1v1h-1zM224 494h1v1h-1zM924 494h2v1h-2zM929 494h2v1h-2zM941 494h1v1h-1zM1014 494h4v1h-4zM1022 494h3v1h-3zM1098 494h1v1h-1zM1155 494h1v1h-1zM1183 494h1v1h-1zM69 495h1v1h-1zM223 495h1v1h-1zM926 495h3v1h-3zM942 495h1v1h-1zM1008 495h6v1h-6zM1018 495h4v1h-4zM1099 495h1v1h-1zM1122 495h3v1h-3zM1155 495h1v1h-1zM1183 495h1v1h-1zM70 496h2v1h-2zM222 496h1v1h-1zM942 496h1v1h-1zM1000 496h1v1h-1zM1006 496h2v1h-2zM1099 496h1v1h-1zM1120 496h2v1h-2zM1125 496h2v1h-2zM1154 496h1v1h-1zM1184 496h1v1h-1zM72 497h1v1h-1zM222 497h1v1h-1zM943 497h1v1h-1zM999 497h1v1h-1zM1001 497h2v1h-2zM1005 497h1v1h-1zM1100 497h1v1h-1zM1119 497h1v1h-1zM1127 497h2v1h-2zM1154 497h1v1h-1zM1184 497h1v1h-1zM73 498h1v1h-1zM221 498h1v1h-1zM944 498h1v1h-1zM999 498h1v1h-1zM1003 498h2v1h-2zM1100 498h1v1h-1zM1118 498h1v1h-1zM1129 498h1v1h-1zM1153 498h1v1h-1zM1184 498h1v1h-1zM74 499h1v1h-1zM220 499h1v1h-1zM945 499h1v1h-1zM998 499h1v1h-1zM1100 499h1v1h-1zM1117 499h1v1h-1zM1129 499h1v1h-1zM1153 499h1v1h-1zM1184 499h1v1h-1zM74 500h1v1h-1zM99 500h2v1h-2zM219 500h1v1h-1zM946 500h1v1h-1zM998 500h1v1h-1zM1101 500h1v1h-1zM1116 500h1v1h-1zM1130 500h1v1h-1zM1153 500h1v1h-1zM1184 500h1v1h-1zM75 501h1v1h-1zM97 501h2v1h-2zM101 501h1v1h-1zM218 501h1v1h-1zM946 501h1v1h-1zM997 501h1v1h-1zM1101 501h1v1h-1zM1114 501h2v1h-2zM1131 501h1v1h-1zM1152 501h1v1h-1zM1185 501h1v1h-1zM76 502h1v1h-1zM96 502h1v1h-1zM102 502h2v1h-2zM217 502h1v1h-1zM947 502h1v1h-1zM997 502h1v1h-1zM1102 502h1v1h-1zM1113 502h1v1h-1zM1131 502h1v1h-1zM1151 502h2v1h-2zM1185 502h1v1h-1zM77 503h1v1h-1zM94 503h2v1h-2zM104 503h1v1h-1zM216 503h1v1h-1zM948 503h1v1h-1zM996 503h1v1h-1zM1102 503h1v1h-1zM1112 503h1v1h-1zM1132 503h1v1h-1zM1149 503h2v1h-2zM1185 503h1v1h-1zM78 504h1v1h-1zM93 504h1v1h-1zM105 504h1v1h-1zM214 504h2v1h-2zM949 504h1v1h-1zM996 504h1v1h-1zM1103 504h1v1h-1zM1112 504h1v1h-1zM1133 504h1v1h-1zM1148 504h1v1h-1zM1185 504h1v1h-1zM79 505h1v1h-1zM90 505h3v1h-3zM106 505h1v1h-1zM213 505h1v1h-1zM949 505h1v1h-1zM995 505h1v1h-1zM1103 505h1v1h-1zM1111 505h1v1h-1zM1134 505h1v1h-1zM1147 505h1v1h-1zM1186 505h1v1h-1zM80 506h2v1h-2zM86 506h4v1h-4zM106 506h1v1h-1zM212 506h1v1h-1zM950 506h1v1h-1zM995 506h1v1h-1zM1104 506h1v1h-1zM1111 506h1v1h-1zM1135 506h1v1h-1zM1146 506h1v1h-1zM1186 506h1v1h-1zM82 507h4v1h-4zM107 507h1v1h-1zM211 507h1v1h-1zM950 507h1v1h-1zM994 507h1v1h-1zM1104 507h1v1h-1zM1110 507h1v1h-1zM1136 507h1v1h-1zM1146 507h1v1h-1zM1186 507h1v1h-1zM108 508h1v1h-1zM211 508h1v1h-1zM951 508h1v1h-1zM994 508h1v1h-1zM1105 508h1v1h-1zM1110 508h1v1h-1zM1137 508h2v1h-2zM1145 508h1v1h-1zM1186 508h1v1h-1zM109 509h1v1h-1zM210 509h1v1h-1zM951 509h1v1h-1zM993 509h1v1h-1zM1106 509h1v1h-1zM1109 509h1v1h-1zM1139 509h6v1h-6zM1187 509h1v1h-1zM109 510h1v1h-1zM210 510h1v1h-1zM952 510h1v1h-1zM993 510h1v1h-1zM1107 510h1v1h-1zM1109 510h1v1h-1zM1187 510h1v1h-1zM110 511h1v1h-1zM209 511h1v1h-1zM952 511h1v1h-1zM992 511h1v1h-1zM1108 511h1v1h-1zM1187 511h1v1h-1zM111 512h1v1h-1zM209 512h1v1h-1zM952 512h1v1h-1zM991 512h1v1h-1zM1187 512h1v1h-1zM111 513h1v1h-1zM208 513h1v1h-1zM953 513h1v1h-1zM990 513h1v1h-1zM1188 513h1v1h-1zM112 514h1v1h-1zM207 514h1v1h-1zM953 514h1v1h-1zM989 514h1v1h-1zM1188 514h1v1h-1zM113 515h1v1h-1zM206 515h1v1h-1zM954 515h1v1h-1zM986 515h3v1h-3zM1188 515h1v1h-1zM1223 515h2v1h-2zM113 516h1v1h-1zM206 516h1v1h-1zM954 516h1v1h-1zM984 516h2v1h-2zM1188 516h1v1h-1zM1221 516h2v1h-2zM1225 516h1v1h-1zM114 517h1v1h-1zM205 517h1v1h-1zM955 517h1v1h-1zM984 517h1v1h-1zM1189 517h1v1h-1zM1220 517h1v1h-1zM1226 517h2v1h-2zM115 518h1v1h-1zM204 518h1v1h-1zM955 518h1v1h-1zM983 518h1v1h-1zM1189 518h1v1h-1zM1218 518h2v1h-2zM1228 518h1v1h-1zM115 519h1v1h-1zM203 519h1v1h-1zM956 519h1v1h-1zM983 519h1v1h-1zM1189 519h1v1h-1zM1217 519h1v1h-1zM1229 519h1v1h-1zM116 520h1v1h-1zM202 520h1v1h-1zM956 520h1v1h-1zM982 520h1v1h-1zM1189 520h1v1h-1zM1216 520h1v1h-1zM1230 520h1v1h-1zM116 521h1v1h-1zM201 521h1v1h-1zM957 521h1v1h-1zM982 521h1v1h-1zM1190 521h1v1h-1zM1216 521h1v1h-1zM1230 521h1v1h-1zM117 522h1v1h-1zM200 522h1v1h-1zM957 522h1v1h-1zM981 522h1v1h-1zM1190 522h1v1h-1zM1215 522h1v1h-1zM1231 522h1v1h-1zM117 523h1v1h-1zM199 523h1v1h-1zM958 523h1v1h-1zM981 523h1v1h-1zM1190 523h1v1h-1zM1215 523h1v1h-1zM1232 523h1v1h-1zM117 524h1v1h-1zM199 524h1v1h-1zM958 524h1v1h-1zM980 524h1v1h-1zM1190 524h1v1h-1zM1214 524h1v1h-1zM1233 524h1v1h-1zM118 525h1v1h-1zM198 525h1v1h-1zM959 525h1v1h-1zM978 525h2v1h-2zM1191 525h1v1h-1zM1214 525h1v1h-1zM1234 525h1v1h-1zM1239 525h6v1h-6zM118 526h1v1h-1zM197 526h1v1h-1zM959 526h1v1h-1zM977 526h1v1h-1zM1191 526h1v1h-1zM1214 526h1v1h-1zM1235 526h1v1h-1zM1237 526h2v1h-2zM1245 526h2v1h-2zM118 527h1v1h-1zM197 527h1v1h-1zM960 527h1v1h-1zM970 527h7v1h-7zM1191 527h1v1h-1zM1213 527h1v1h-1zM1236 527h1v1h-1zM1247 527h2v1h-2zM119 528h1v1h-1zM196 528h1v1h-1zM961 528h2v1h-2zM966 528h4v1h-4zM1191 528h1v1h-1zM1213 528h1v1h-1zM1249 528h1v1h-1zM119 529h1v1h-1zM195 529h1v1h-1zM963 529h3v1h-3zM1192 529h1v1h-1zM1212 529h1v1h-1zM1250 529h1v1h-1zM119 530h1v1h-1zM194 530h1v1h-1zM1192 530h1v1h-1zM1212 530h1v1h-1zM1250 530h1v1h-1zM120 531h1v1h-1zM166 531h3v1h-3zM193 531h1v1h-1zM1193 531h1v1h-1zM1212 531h1v1h-1zM1251 531h1v1h-1zM120 532h1v1h-1zM163 532h3v1h-3zM169 532h1v1h-1zM191 532h2v1h-2zM1193 532h1v1h-1zM1211 532h1v1h-1zM1252 532h1v1h-1zM121 533h1v1h-1zM161 533h2v1h-2zM170 533h2v1h-2zM182 533h4v1h-4zM189 533h2v1h-2zM1194 533h1v1h-1zM1211 533h1v1h-1zM1253 533h1v1h-1zM121 534h1v1h-1zM160 534h1v1h-1zM172 534h10v1h-10zM186 534h3v1h-3zM1194 534h1v1h-1zM1210 534h1v1h-1zM1254 534h2v1h-2zM122 535h1v1h-1zM159 535h1v1h-1zM1195 535h1v1h-1zM1210 535h1v1h-1zM1256 535h1v1h-1zM122 536h1v1h-1zM158 536h1v1h-1zM1195 536h1v1h-1zM1209 536h1v1h-1zM1257 536h1v1h-1zM123 537h1v1h-1zM158 537h1v1h-1zM1196 537h1v1h-1zM1209 537h1v1h-1zM1257 537h1v1h-1zM123 538h1v1h-1zM157 538h1v1h-1zM1196 538h1v1h-1zM1208 538h1v1h-1zM1258 538h1v1h-1zM124 539h1v1h-1zM156 539h1v1h-1zM1197 539h1v1h-1zM1207 539h1v1h-1zM1258 539h1v1h-1zM124 540h1v1h-1zM154 540h2v1h-2zM1197 540h1v1h-1zM1206 540h1v1h-1zM1259 540h1v1h-1zM125 541h1v1h-1zM153 541h1v1h-1zM1198 541h1v1h-1zM1206 541h1v1h-1zM1259 541h1v1h-1zM125 542h1v1h-1zM152 542h1v1h-1zM1198 542h1v1h-1zM1205 542h1v1h-1zM1260 542h1v1h-1zM126 543h1v1h-1zM151 543h1v1h-1zM1199 543h1v1h-1zM1203 543h2v1h-2zM1261 543h1v1h-1zM127 544h1v1h-1zM151 544h1v1h-1zM1199 544h1v1h-1zM1201 544h2v1h-2zM1261 544h1v1h-1zM127 545h1v1h-1zM150 545h1v1h-1zM1200 545h1v1h-1zM1262 545h1v1h-1zM128 546h1v1h-1zM150 546h1v1h-1zM1263 546h1v1h-1zM129 547h1v1h-1zM149 547h1v1h-1zM1263 547h1v1h-1zM130 548h1v1h-1zM149 548h1v1h-1zM1264 548h1v1h-1zM130 549h1v1h-1zM148 549h1v1h-1zM1265 549h1v1h-1zM131 550h1v1h-1zM147 550h1v1h-1zM1266 550h2v1h-2zM132 551h1v1h-1zM146 551h1v1h-1zM1268 551h1v1h-1zM133 552h1v1h-1zM145 552h1v1h-1zM134 553h1v1h-1zM143 553h2v1h-2zM135 554h1v1h-1zM141 554h2v1h-2zM136 555h5v1h-5z" fill="#ffa500"/>
<rect x="4" y="382" width="1592" height="2" fill="#ff0000"/>
<rect x="4" y="423" width="1592" height="2" fill="#ff0000"/>
<rect x="4" y="459" width="1592" height="2" fill="#00ff00"/>
<rect x="4" y="506" width="1592" height="2" fill="#0000ff"/>
<rect x="4" y="543" width="1592" height="2" fill="#0000ff"/>
<rect x="1272" y="29" width="9" height="1" fill="#c0c0c0"/>
<rect x="1273" y="30" width="7" height="1" fill="#c0c0c0"/>
<rect x="1274" y="31" width="5" height="1" fill="#c0c0c0"/>
<rect x="1275" y="32" width="3" height="1" fill="#c0c0c0"/>
<rect x="1276" y="33" width="1" height="1" fill="#c0c0c0"/>
</g>
<g clip-path="url(#cr)">
<line x1="5" y1="617.5" x2="1596" y2="617.5" stroke="#c0c0c0" stroke-dasharray="3,3"/>
<line x1="5" y1="657.5" x2="1596" y2="657.5" stroke="#c0c0c0" stroke-dasharray="3,3"/>
<path d="M388 598h1v1h-1zM387 599h1v1h-1zM389 599h1v1h-1zM386 600h1v1h-1zM390 600h1v1h-1zM371 601h2v1h-2zM385 601h1v1h-1zM390 601h1v1h-1zM369 602h2v1h-2zM373 602h1v1h-1zM384 602h1v1h-1zM391 602h1v1h-1zM360 603h1v1h-1zM368 603h1v1h-1zM373 603h1v1h-1zM383 603h1v1h-1zM392 603h1v1h-1zM360 604h2v1h-2zM367 604h1v1h-1zM374 604h1v1h-1zM382 604h1v1h-1zM393 604h1v1h-1zM359 605h1v1h-1zM362 605h1v1h-1zM366 605h1v1h-1zM374 605h1v1h-1zM382 605h1v1h-1zM393 605h1v1h-1zM359 606h1v1h-1zM363 606h1v1h-1zM365 606h1v1h-1zM375 606h1v1h-1zM381 606h1v1h-1zM394 606h1v1h-1zM358 607h1v1h-1zM364 607h1v1h-1zM375 607h1v1h-1zM378 607h3v1h-3zM394 607h1v1h-1zM403 607h2v1h-2zM358 608h1v1h-1zM376 608h2v1h-2zM395 608h1v1h-1zM401 608h2v1h-2zM405 608h1v1h-1zM260 609h1v1h-1zM358 609h1v1h-1zM395 609h1v1h-1zM398 609h3v1h-3zM406 609h1v1h-1zM246 610h7v1h-7zM258 610h3v1h-3zM324 610h1v1h-1zM357 610h1v1h-1zM396 610h2v1h-2zM407 610h1v1h-1zM242 611h4v1h-4zM253 611h2v1h-2zM257 611h1v1h-1zM261 611h1v1h-1zM323 611h1v1h-1zM325 611h1v1h-1zM357 611h1v1h-1zM408 611h1v1h-1zM239 612h3v1h-3zM255 612h2v1h-2zM261 612h1v1h-1zM323 612h1v1h-1zM325 612h1v1h-1zM356 612h1v1h-1zM408 612h1v1h-1zM237 613h2v1h-2zM262 613h1v1h-1zM322 613h1v1h-1zM326 613h1v1h-1zM356 613h1v1h-1zM409 613h1v1h-1zM236 614h1v1h-1zM262 614h1v1h-1zM321 614h1v1h-1zM326 614h1v1h-1zM356 614h1v1h-1zM409 614h1v1h-1zM234 615h2v1h-2zM262 615h1v1h-1zM321 615h1v1h-1zM327 615h1v1h-1zM355 615h1v1h-1zM410 615h1v1h-1zM233 616h1v1h-1zM263 616h1v1h-1zM320 616h1v1h-1zM327 616h1v1h-1zM355 616h1v1h-1zM410 616h1v1h-1zM230 617h3v1h-3zM263 617h1v1h-1zM320 617h1v1h-1zM328 617h1v1h-1zM354 617h1v1h-1zM411 617h1v1h-1zM223 618h7v1h-7zM264 618h1v1h-1zM319 618h1v1h-1zM329 618h2v1h-2zM354 618h1v1h-1zM411 618h1v1h-1zM1044 618h1v1h-1zM221 619h2v1h-2zM264 619h1v1h-1zM319 619h1v1h-1zM331 619h2v1h-2zM353 619h1v1h-1zM412 619h1v1h-1zM1042 619h2v1h-2zM1045 619h2v1h-2zM220 620h1v1h-1zM265 620h1v1h-1zM318 620h1v1h-1zM332 620h1v1h-1zM347 620h2v1h-2zM353 620h1v1h-1zM412 620h1v1h-1zM1036 620h2v1h-2zM1041 620h1v1h-1zM1047 620h2v1h-2zM1056 620h1v1h-1zM218 621h2v1h-2zM265 621h1v1h-1zM318 621h1v1h-1zM333 621h1v1h-1zM345 621h2v1h-2zM349 621h2v1h-2zM352 621h1v1h-1zM412 621h1v1h-1zM1035 621h1v1h-1zM1038 621h3v1h-3zM1049 621h1v1h-1zM1054 621h3v1h-3zM217 622h1v1h-1zM266 622h1v1h-1zM317 622h1v1h-1zM333 622h1v1h-1zM340 622h5v1h-5zM351 622h2v1h-2zM413 622h1v1h-1zM1034 622h1v1h-1zM1050 622h2v1h-2zM1053 622h1v1h-1zM1057 622h1v1h-1zM212 623h5v1h-5zM266 623h1v1h-1zM317 623h1v1h-1zM334 623h1v1h-1zM339 623h1v1h-1zM413 623h1v1h-1zM1033 623h1v1h-1zM1052 623h1v1h-1zM1057 623h1v1h-1zM20 624h1v1h-1zM211 624h1v1h-1zM267 624h1v1h-1zM315 624h2v1h-2zM334 624h1v1h-1zM339 624h1v1h-1zM413 624h1v1h-1zM1031 624h2v1h-2zM1057 624h1v1h-1zM1159 624h2v1h-2zM19 625h1v1h-1zM21 625h1v1h-1zM210 625h1v1h-1zM267 625h1v1h-1zM313 625h2v1h-2zM335 625h1v1h-1zM338 625h1v1h-1zM414 625h1v1h-1zM1029 625h2v1h-2zM1058 625h1v1h-1zM1157 625h2v1h-2zM1161 625h1v1h-1zM18 626h1v1h-1zM22 626h2v1h-2zM200 626h1v1h-1zM209 626h1v1h-1zM268 626h1v1h-1zM311 626h2v1h-2zM335 626h1v1h-1zM337 626h1v1h-1zM414 626h1v1h-1zM1028 626h1v1h-1zM1058 626h1v1h-1zM1156 626h1v1h-1zM1162 626h2v1h-2zM0 627h9v1h-9zM18 627h1v1h-1zM24 627h1v1h-1zM199 627h1v1h-1zM201 627h1v1h-1zM207 627h2v1h-2zM269 627h2v1h-2zM274 627h3v1h-3zM309 627h2v1h-2zM336 627h2v1h-2zM414 627h1v1h-1zM1028 627h1v1h-1zM1058 627h1v1h-1zM1156 627h1v1h-1zM1164 627h1v1h-1zM9 628h2v1h-2zM17 628h1v1h-1zM24 628h1v1h-1zM198 628h1v1h-1zM202 628h2v1h-2zM205 628h2v1h-2zM271 628h3v1h-3zM277 628h2v1h-2zM308 628h1v1h-1zM336 628h1v1h-1zM414 628h1v1h-1zM1027 628h1v1h-1zM1059 628h1v1h-1zM1155 628h1v1h-1zM1165 628h2v1h-2zM11 629h6v1h-6zM25 629h1v1h-1zM197 629h1v1h-1zM204 629h1v1h-1zM279 629h2v1h-2zM308 629h1v1h-1zM415 629h1v1h-1zM436 629h1v1h-1zM504 629h1v1h-1zM1027 629h1v1h-1zM1059 629h1v1h-1zM1155 629h1v1h-1zM1167 629h2v1h-2zM25 630h1v1h-1zM196 630h1v1h-1zM281 630h1v1h-1zM288 630h1v1h-1zM307 630h1v1h-1zM415 630h1v1h-1zM428 630h1v1h-1zM434 630h2v1h-2zM437 630h1v1h-1zM503 630h1v1h-1zM505 630h1v1h-1zM1026 630h1v1h-1zM1059 630h1v1h-1zM1155 630h1v1h-1zM1169 630h1v1h-1zM25 631h1v1h-1zM196 631h1v1h-1zM281 631h1v1h-1zM287 631h1v1h-1zM289 631h1v1h-1zM307 631h1v1h-1zM415 631h1v1h-1zM427 631h1v1h-1zM429 631h2v1h-2zM433 631h1v1h-1zM438 631h1v1h-1zM446 631h3v1h-3zM486 631h3v1h-3zM503 631h1v1h-1zM506 631h2v1h-2zM1026 631h1v1h-1zM1060 631h1v1h-1zM1155 631h1v1h-1zM1170 631h1v1h-1zM25 632h1v1h-1zM195 632h1v1h-1zM282 632h1v1h-1zM286 632h1v1h-1zM290 632h1v1h-1zM307 632h1v1h-1zM416 632h1v1h-1zM418 632h3v1h-3zM427 632h1v1h-1zM431 632h2v1h-2zM439 632h1v1h-1zM442 632h4v1h-4zM449 632h2v1h-2zM484 632h2v1h-2zM489 632h1v1h-1zM502 632h1v1h-1zM508 632h1v1h-1zM556 632h1v1h-1zM732 632h1v1h-1zM1026 632h1v1h-1zM1060 632h1v1h-1zM1068 632h1v1h-1zM1154 632h1v1h-1zM1171 632h1v1h-1zM26 633h1v1h-1zM195 633h1v1h-1zM283 633h1v1h-1zM286 633h1v1h-1zM291 633h1v1h-1zM306 633h1v1h-1zM416 633h2v1h-2zM421 633h1v1h-1zM426 633h1v1h-1zM440 633h2v1h-2zM451 633h2v1h-2zM484 633h1v1h-1zM489 633h1v1h-1zM501 633h1v1h-1zM509 633h1v1h-1zM555 633h1v1h-1zM557 633h1v1h-1zM590 633h3v1h-3zM730 633h2v1h-2zM733 633h1v1h-1zM740 633h1v1h-1zM1025 633h1v1h-1zM1061 633h1v1h-1zM1066 633h2v1h-2zM1069 633h1v1h-1zM1154 633h1v1h-1zM1172 633h1v1h-1zM26 634h1v1h-1zM194 634h1v1h-1zM283 634h1v1h-1zM285 634h1v1h-1zM292 634h2v1h-2zM306 634h1v1h-1zM422 634h1v1h-1zM426 634h1v1h-1zM453 634h1v1h-1zM483 634h1v1h-1zM490 634h1v1h-1zM501 634h1v1h-1zM510 634h1v1h-1zM516 634h5v1h-5zM540 634h2v1h-2zM555 634h1v1h-1zM557 634h1v1h-1zM580 634h10v1h-10zM593 634h1v1h-1zM729 634h1v1h-1zM734 634h1v1h-1zM738 634h2v1h-2zM741 634h1v1h-1zM1008 634h1v1h-1zM1016 634h1v1h-1zM1025 634h1v1h-1zM1062 634h2v1h-2zM1065 634h1v1h-1zM1070 634h2v1h-2zM1154 634h1v1h-1zM1172 634h1v1h-1zM26 635h1v1h-1zM36 635h2v1h-2zM194 635h1v1h-1zM284 635h1v1h-1zM294 635h3v1h-3zM306 635h1v1h-1zM422 635h1v1h-1zM425 635h1v1h-1zM453 635h1v1h-1zM483 635h1v1h-1zM491 635h1v1h-1zM499 635h2v1h-2zM510 635h1v1h-1zM514 635h2v1h-2zM521 635h1v1h-1zM540 635h1v1h-1zM542 635h7v1h-7zM554 635h1v1h-1zM558 635h1v1h-1zM579 635h1v1h-1zM593 635h1v1h-1zM728 635h1v1h-1zM735 635h1v1h-1zM737 635h1v1h-1zM741 635h1v1h-1zM984 635h1v1h-1zM998 635h3v1h-3zM1006 635h2v1h-2zM1009 635h1v1h-1zM1015 635h1v1h-1zM1017 635h1v1h-1zM1024 635h1v1h-1zM1064 635h1v1h-1zM1072 635h1v1h-1zM1148 635h1v1h-1zM1154 635h1v1h-1zM1173 635h1v1h-1zM27 636h1v1h-1zM36 636h1v1h-1zM38 636h3v1h-3zM152 636h1v1h-1zM193 636h1v1h-1zM297 636h1v1h-1zM306 636h1v1h-1zM423 636h1v1h-1zM425 636h1v1h-1zM454 636h1v1h-1zM483 636h1v1h-1zM491 636h1v1h-1zM497 636h2v1h-2zM511 636h1v1h-1zM513 636h1v1h-1zM522 636h2v1h-2zM539 636h1v1h-1zM549 636h1v1h-1zM553 636h1v1h-1zM558 636h1v1h-1zM578 636h1v1h-1zM594 636h1v1h-1zM612 636h1v1h-1zM727 636h1v1h-1zM736 636h1v1h-1zM742 636h1v1h-1zM984 636h2v1h-2zM995 636h3v1h-3zM1001 636h2v1h-2zM1005 636h1v1h-1zM1010 636h1v1h-1zM1014 636h1v1h-1zM1018 636h2v1h-2zM1022 636h3v1h-3zM1073 636h1v1h-1zM1082 636h3v1h-3zM1112 636h1v1h-1zM1148 636h2v1h-2zM1153 636h1v1h-1zM1173 636h1v1h-1zM1212 636h1v1h-1zM27 637h1v1h-1zM35 637h1v1h-1zM41 637h1v1h-1zM152 637h2v1h-2zM193 637h1v1h-1zM298 637h2v1h-2zM305 637h1v1h-1zM424 637h1v1h-1zM455 637h1v1h-1zM459 637h2v1h-2zM482 637h1v1h-1zM492 637h5v1h-5zM512 637h1v1h-1zM524 637h1v1h-1zM539 637h1v1h-1zM550 637h2v1h-2zM553 637h1v1h-1zM559 637h1v1h-1zM572 637h2v1h-2zM577 637h1v1h-1zM594 637h1v1h-1zM611 637h1v1h-1zM613 637h2v1h-2zM726 637h1v1h-1zM743 637h1v1h-1zM792 637h1v1h-1zM983 637h1v1h-1zM986 637h2v1h-2zM993 637h2v1h-2zM1003 637h2v1h-2zM1010 637h1v1h-1zM1014 637h1v1h-1zM1020 637h2v1h-2zM1074 637h2v1h-2zM1078 637h4v1h-4zM1085 637h1v1h-1zM1112 637h2v1h-2zM1147 637h1v1h-1zM1149 637h1v1h-1zM1153 637h1v1h-1zM1173 637h1v1h-1zM1210 637h2v1h-2zM1213 637h2v1h-2zM27 638h1v1h-1zM35 638h1v1h-1zM42 638h1v1h-1zM151 638h1v1h-1zM153 638h1v1h-1zM183 638h2v1h-2zM191 638h2v1h-2zM300 638h1v1h-1zM305 638h1v1h-1zM455 638h1v1h-1zM457 638h2v1h-2zM461 638h2v1h-2zM482 638h1v1h-1zM525 638h1v1h-1zM538 638h1v1h-1zM552 638h1v1h-1zM559 638h1v1h-1zM571 638h1v1h-1zM574 638h3v1h-3zM595 638h1v1h-1zM610 638h1v1h-1zM615 638h2v1h-2zM725 638h1v1h-1zM743 638h1v1h-1zM791 638h1v1h-1zM793 638h1v1h-1zM806 638h3v1h-3zM983 638h1v1h-1zM988 638h5v1h-5zM1011 638h1v1h-1zM1013 638h1v1h-1zM1076 638h2v1h-2zM1085 638h1v1h-1zM1111 638h1v1h-1zM1114 638h1v1h-1zM1147 638h1v1h-1zM1150 638h1v1h-1zM1153 638h1v1h-1zM1174 638h1v1h-1zM1209 638h1v1h-1zM1215 638h2v1h-2zM27 639h1v1h-1zM35 639h1v1h-1zM43 639h1v1h-1zM151 639h1v1h-1zM154 639h1v1h-1zM168 639h1v1h-1zM181 639h2v1h-2zM185 639h2v1h-2zM189 639h2v1h-2zM301 639h1v1h-1zM305 639h1v1h-1zM456 639h1v1h-1zM463 639h7v1h-7zM481 639h1v1h-1zM526 639h2v1h-2zM538 639h1v1h-1zM560 639h1v1h-1zM570 639h1v1h-1zM595 639h1v1h-1zM610 639h1v1h-1zM617 639h2v1h-2zM724 639h1v1h-1zM744 639h1v1h-1zM778 639h7v1h-7zM790 639h1v1h-1zM793 639h1v1h-1zM804 639h2v1h-2zM809 639h1v1h-1zM983 639h1v1h-1zM1012 639h1v1h-1zM1086 639h1v1h-1zM1111 639h1v1h-1zM1114 639h1v1h-1zM1146 639h1v1h-1zM1151 639h1v1h-1zM1153 639h1v1h-1zM1174 639h1v1h-1zM1208 639h1v1h-1zM1217 639h1v1h-1zM1242 639h3v1h-3zM28 640h1v1h-1zM35 640h1v1h-1zM44 640h5v1h-5zM150 640h1v1h-1zM154 640h1v1h-1zM167 640h1v1h-1zM169 640h1v1h-1zM179 640h2v1h-2zM187 640h2v1h-2zM302 640h3v1h-3zM470 640h7v1h-7zM481 640h1v1h-1zM528 640h1v1h-1zM538 640h1v1h-1zM560 640h1v1h-1zM570 640h1v1h-1zM596 640h1v1h-1zM609 640h1v1h-1zM619 640h2v1h-2zM724 640h1v1h-1zM745 640h1v1h-1zM768 640h1v1h-1zM776 640h2v1h-2zM785 640h2v1h-2zM789 640h1v1h-1zM794 640h1v1h-1zM802 640h2v1h-2zM810 640h1v1h-1zM982 640h1v1h-1zM1086 640h1v1h-1zM1110 640h1v1h-1zM1115 640h1v1h-1zM1146 640h1v1h-1zM1151 640h2v1h-2zM1174 640h1v1h-1zM1207 640h1v1h-1zM1218 640h1v1h-1zM1239 640h3v1h-3zM1245 640h1v1h-1zM28 641h1v1h-1zM34 641h1v1h-1zM49 641h1v1h-1zM150 641h1v1h-1zM155 641h1v1h-1zM159 641h2v1h-2zM166 641h1v1h-1zM170 641h2v1h-2zM177 641h2v1h-2zM304 641h1v1h-1zM477 641h1v1h-1zM481 641h1v1h-1zM529 641h1v1h-1zM537 641h1v1h-1zM561 641h1v1h-1zM569 641h1v1h-1zM596 641h1v1h-1zM607 641h2v1h-2zM621 641h1v1h-1zM687 641h6v1h-6zM706 641h7v1h-7zM723 641h1v1h-1zM746 641h2v1h-2zM750 641h3v1h-3zM767 641h1v1h-1zM769 641h1v1h-1zM775 641h1v1h-1zM787 641h2v1h-2zM794 641h1v1h-1zM801 641h1v1h-1zM810 641h1v1h-1zM876 641h5v1h-5zM982 641h1v1h-1zM1087 641h1v1h-1zM1110 641h1v1h-1zM1116 641h2v1h-2zM1145 641h1v1h-1zM1152 641h1v1h-1zM1174 641h1v1h-1zM1206 641h1v1h-1zM1218 641h1v1h-1zM1223 641h2v1h-2zM1231 641h3v1h-3zM1237 641h2v1h-2zM1245 641h1v1h-1zM29 642h1v1h-1zM34 642h1v1h-1zM50 642h2v1h-2zM90 642h3v1h-3zM149 642h1v1h-1zM155 642h1v1h-1zM157 642h2v1h-2zM161 642h2v1h-2zM165 642h1v1h-1zM172 642h5v1h-5zM478 642h3v1h-3zM530 642h2v1h-2zM537 642h1v1h-1zM562 642h2v1h-2zM566 642h3v1h-3zM597 642h1v1h-1zM605 642h2v1h-2zM621 642h1v1h-1zM685 642h2v1h-2zM693 642h1v1h-1zM703 642h3v1h-3zM713 642h1v1h-1zM723 642h1v1h-1zM748 642h2v1h-2zM753 642h2v1h-2zM766 642h1v1h-1zM770 642h1v1h-1zM774 642h1v1h-1zM795 642h1v1h-1zM800 642h1v1h-1zM811 642h1v1h-1zM876 642h1v1h-1zM881 642h1v1h-1zM981 642h1v1h-1zM1087 642h1v1h-1zM1110 642h1v1h-1zM1118 642h3v1h-3zM1145 642h1v1h-1zM1175 642h1v1h-1zM1205 642h1v1h-1zM1219 642h1v1h-1zM1221 642h2v1h-2zM1225 642h2v1h-2zM1229 642h2v1h-2zM1234 642h3v1h-3zM1246 642h1v1h-1zM29 643h1v1h-1zM34 643h1v1h-1zM52 643h1v1h-1zM86 643h4v1h-4zM93 643h1v1h-1zM99 643h2v1h-2zM149 643h1v1h-1zM156 643h1v1h-1zM163 643h2v1h-2zM480 643h1v1h-1zM532 643h2v1h-2zM536 643h1v1h-1zM564 643h2v1h-2zM598 643h1v1h-1zM603 643h2v1h-2zM622 643h1v1h-1zM683 643h2v1h-2zM694 643h2v1h-2zM701 643h2v1h-2zM714 643h1v1h-1zM722 643h1v1h-1zM755 643h7v1h-7zM765 643h1v1h-1zM771 643h1v1h-1zM773 643h1v1h-1zM795 643h1v1h-1zM798 643h2v1h-2zM812 643h1v1h-1zM848 643h1v1h-1zM875 643h1v1h-1zM882 643h2v1h-2zM981 643h1v1h-1zM1088 643h1v1h-1zM1109 643h1v1h-1zM1121 643h2v1h-2zM1139 643h3v1h-3zM1144 643h1v1h-1zM1175 643h1v1h-1zM1180 643h1v1h-1zM1204 643h1v1h-1zM1220 643h1v1h-1zM1227 643h2v1h-2zM1247 643h1v1h-1zM30 644h1v1h-1zM33 644h1v1h-1zM53 644h1v1h-1zM59 644h2v1h-2zM84 644h2v1h-2zM94 644h2v1h-2zM97 644h2v1h-2zM101 644h1v1h-1zM148 644h1v1h-1zM534 644h3v1h-3zM599 644h1v1h-1zM601 644h2v1h-2zM622 644h1v1h-1zM681 644h2v1h-2zM696 644h5v1h-5zM714 644h1v1h-1zM722 644h1v1h-1zM762 644h3v1h-3zM772 644h1v1h-1zM796 644h2v1h-2zM813 644h1v1h-1zM848 644h2v1h-2zM860 644h1v1h-1zM875 644h1v1h-1zM884 644h1v1h-1zM968 644h1v1h-1zM981 644h1v1h-1zM1089 644h1v1h-1zM1109 644h1v1h-1zM1123 644h2v1h-2zM1137 644h2v1h-2zM1142 644h3v1h-3zM1175 644h1v1h-1zM1178 644h2v1h-2zM1181 644h1v1h-1zM1203 644h1v1h-1zM1247 644h1v1h-1zM30 645h1v1h-1zM33 645h1v1h-1zM54 645h2v1h-2zM57 645h2v1h-2zM61 645h1v1h-1zM83 645h1v1h-1zM96 645h1v1h-1zM101 645h1v1h-1zM148 645h1v1h-1zM600 645h1v1h-1zM623 645h1v1h-1zM680 645h1v1h-1zM715 645h1v1h-1zM721 645h1v1h-1zM796 645h1v1h-1zM813 645h1v1h-1zM847 645h1v1h-1zM850 645h1v1h-1zM859 645h1v1h-1zM861 645h1v1h-1zM874 645h1v1h-1zM885 645h1v1h-1zM968 645h2v1h-2zM980 645h1v1h-1zM1089 645h1v1h-1zM1108 645h1v1h-1zM1125 645h1v1h-1zM1131 645h6v1h-6zM1176 645h2v1h-2zM1181 645h1v1h-1zM1202 645h1v1h-1zM1248 645h1v1h-1zM31 646h1v1h-1zM33 646h1v1h-1zM56 646h1v1h-1zM62 646h2v1h-2zM83 646h1v1h-1zM102 646h1v1h-1zM147 646h1v1h-1zM623 646h1v1h-1zM636 646h1v1h-1zM680 646h1v1h-1zM716 646h1v1h-1zM721 646h1v1h-1zM814 646h1v1h-1zM847 646h1v1h-1zM851 646h1v1h-1zM858 646h1v1h-1zM862 646h1v1h-1zM874 646h1v1h-1zM886 646h1v1h-1zM932 646h1v1h-1zM967 646h1v1h-1zM970 646h1v1h-1zM980 646h1v1h-1zM1090 646h1v1h-1zM1106 646h3v1h-3zM1126 646h2v1h-2zM1129 646h2v1h-2zM1176 646h1v1h-1zM1182 646h1v1h-1zM1202 646h1v1h-1zM1249 646h2v1h-2zM1254 646h3v1h-3zM31 647h1v1h-1zM33 647h1v1h-1zM64 647h1v1h-1zM82 647h1v1h-1zM102 647h1v1h-1zM146 647h1v1h-1zM624 647h1v1h-1zM635 647h1v1h-1zM637 647h2v1h-2zM679 647h1v1h-1zM717 647h2v1h-2zM720 647h1v1h-1zM814 647h1v1h-1zM846 647h1v1h-1zM852 647h2v1h-2zM857 647h1v1h-1zM863 647h1v1h-1zM874 647h1v1h-1zM887 647h1v1h-1zM931 647h1v1h-1zM933 647h2v1h-2zM967 647h1v1h-1zM971 647h1v1h-1zM979 647h1v1h-1zM1090 647h1v1h-1zM1104 647h2v1h-2zM1128 647h1v1h-1zM1182 647h1v1h-1zM1201 647h1v1h-1zM1251 647h3v1h-3zM1257 647h1v1h-1zM32 648h1v1h-1zM65 648h1v1h-1zM82 648h1v1h-1zM103 648h1v1h-1zM146 648h1v1h-1zM625 648h2v1h-2zM634 648h1v1h-1zM639 648h2v1h-2zM679 648h1v1h-1zM719 648h2v1h-2zM815 648h1v1h-1zM828 648h5v1h-5zM846 648h1v1h-1zM854 648h3v1h-3zM864 648h1v1h-1zM873 648h1v1h-1zM888 648h1v1h-1zM902 648h3v1h-3zM930 648h1v1h-1zM935 648h2v1h-2zM967 648h1v1h-1zM972 648h1v1h-1zM979 648h1v1h-1zM1091 648h1v1h-1zM1103 648h1v1h-1zM1183 648h1v1h-1zM1200 648h1v1h-1zM1258 648h2v1h-2zM1262 648h7v1h-7zM32 649h1v1h-1zM66 649h1v1h-1zM71 649h2v1h-2zM81 649h1v1h-1zM103 649h1v1h-1zM145 649h1v1h-1zM627 649h3v1h-3zM633 649h1v1h-1zM641 649h1v1h-1zM679 649h1v1h-1zM815 649h1v1h-1zM827 649h1v1h-1zM833 649h1v1h-1zM845 649h1v1h-1zM865 649h1v1h-1zM873 649h1v1h-1zM889 649h1v1h-1zM900 649h2v1h-2zM905 649h1v1h-1zM930 649h1v1h-1zM937 649h1v1h-1zM966 649h1v1h-1zM973 649h1v1h-1zM978 649h1v1h-1zM1091 649h1v1h-1zM1095 649h2v1h-2zM1102 649h1v1h-1zM1183 649h1v1h-1zM1186 649h4v1h-4zM1199 649h1v1h-1zM1260 649h2v1h-2zM67 650h1v1h-1zM69 650h2v1h-2zM73 650h1v1h-1zM81 650h1v1h-1zM104 650h1v1h-1zM144 650h1v1h-1zM630 650h3v1h-3zM641 650h1v1h-1zM678 650h1v1h-1zM816 650h1v1h-1zM827 650h1v1h-1zM834 650h2v1h-2zM845 650h1v1h-1zM865 650h1v1h-1zM872 650h1v1h-1zM890 650h2v1h-2zM899 650h1v1h-1zM906 650h1v1h-1zM923 650h3v1h-3zM929 650h1v1h-1zM938 650h1v1h-1zM966 650h1v1h-1zM974 650h1v1h-1zM977 650h1v1h-1zM1092 650h3v1h-3zM1097 650h2v1h-2zM1101 650h1v1h-1zM1184 650h2v1h-2zM1190 650h3v1h-3zM1198 650h1v1h-1zM68 651h1v1h-1zM74 651h1v1h-1zM80 651h1v1h-1zM105 651h1v1h-1zM144 651h1v1h-1zM642 651h1v1h-1zM678 651h1v1h-1zM817 651h2v1h-2zM826 651h1v1h-1zM836 651h2v1h-2zM842 651h3v1h-3zM866 651h1v1h-1zM872 651h1v1h-1zM892 651h1v1h-1zM898 651h1v1h-1zM907 651h1v1h-1zM921 651h2v1h-2zM926 651h3v1h-3zM939 651h1v1h-1zM965 651h1v1h-1zM975 651h1v1h-1zM977 651h1v1h-1zM1092 651h1v1h-1zM1099 651h2v1h-2zM1193 651h1v1h-1zM1198 651h1v1h-1zM74 652h1v1h-1zM78 652h2v1h-2zM106 652h1v1h-1zM143 652h1v1h-1zM642 652h1v1h-1zM678 652h1v1h-1zM819 652h2v1h-2zM826 652h1v1h-1zM838 652h4v1h-4zM866 652h1v1h-1zM871 652h1v1h-1zM893 652h2v1h-2zM897 652h1v1h-1zM908 652h2v1h-2zM919 652h2v1h-2zM940 652h1v1h-1zM965 652h1v1h-1zM976 652h1v1h-1zM1194 652h2v1h-2zM1197 652h1v1h-1zM75 653h1v1h-1zM77 653h1v1h-1zM107 653h1v1h-1zM143 653h1v1h-1zM643 653h1v1h-1zM678 653h1v1h-1zM821 653h1v1h-1zM825 653h1v1h-1zM867 653h1v1h-1zM870 653h1v1h-1zM895 653h2v1h-2zM910 653h4v1h-4zM917 653h2v1h-2zM941 653h1v1h-1zM965 653h1v1h-1zM1196 653h1v1h-1zM76 654h1v1h-1zM108 654h2v1h-2zM142 654h1v1h-1zM643 654h1v1h-1zM677 654h1v1h-1zM822 654h2v1h-2zM825 654h1v1h-1zM867 654h1v1h-1zM870 654h1v1h-1zM914 654h3v1h-3zM942 654h2v1h-2zM964 654h1v1h-1zM110 655h3v1h-3zM142 655h1v1h-1zM644 655h1v1h-1zM677 655h1v1h-1zM824 655h1v1h-1zM868 655h2v1h-2zM944 655h5v1h-5zM964 655h1v1h-1zM113 656h2v1h-2zM142 656h1v1h-1zM645 656h1v1h-1zM672 656h1v1h-1zM677 656h1v1h-1zM868 656h1v1h-1zM949 656h2v1h-2zM962 656h2v1h-2zM115 657h2v1h-2zM141 657h1v1h-1zM646 657h2v1h-2zM655 657h2v1h-2zM671 657h1v1h-1zM673 657h2v1h-2zM676 657h1v1h-1zM951 657h2v1h-2zM961 657h1v1h-1zM117 658h1v1h-1zM135 658h2v1h-2zM141 658h1v1h-1zM648 658h2v1h-2zM653 658h2v1h-2zM657 658h1v1h-1zM670 658h1v1h-1zM675 658h2v1h-2zM953 658h1v1h-1zM959 658h2v1h-2zM117 659h1v1h-1zM133 659h2v1h-2zM137 659h2v1h-2zM140 659h1v1h-1zM650 659h3v1h-3zM658 659h2v1h-2zM662 659h3v1h-3zM670 659h1v1h-1zM954 659h2v1h-2zM957 659h2v1h-2zM118 660h1v1h-1zM130 660h3v1h-3zM139 660h2v1h-2zM660 660h2v1h-2zM665 660h2v1h-2zM669 660h1v1h-1zM956 660h1v1h-1zM118 661h1v1h-1zM124 661h6v1h-6zM667 661h2v1h-2zM119 662h1v1h-1zM122 662h2v1h-2zM119 663h1v1h-1zM121 663h1v1h-1zM120 664h1v1h-1z" fill="#1e90ff"/>
</g>
<g clip-path="url(#cd)">
<rect x="4" y="750" width="1" height="6" fill="#c0c0c0"/>
<rect x="8" y="750" width="1" height="6" fill="#c0c0c0"/>
<rect x="12" y="750" width="1" height="6" fill="#c0c0c0"/>
<rect x="16" y="751" width="1" height="5" fill="#c0c0c0"/>
<rect x="20" y="750" width="1" height="6" fill="#c0c0c0"/>
<rect x="24" y="751" width="1" height="5" fill="#c0c0c0"/>
<rect x="28" y="751" width="1" height="5" fill="#c0c0c0"/>
<rect x="32" y="753" width="1" height="3" fill="#c0c0c0"/>
<rect x="36" y="753" width="1" height="3" fill="#c0c0c0"/>
<rect x="40" y="753" width="1" height="3" fill="#c0c0c0"/>
<rect x="44" y="754" width="1" height="2" fill="#c0c0c0"/>
<rect x="48" y="754" width="1" height="2" fill="#c0c0c0"/>
<rect x="52" y="755" width="1" height="1" fill="#c0c0c0"/>
<rect x="56" y="755" width="1" height="2" fill="#c0c0c0"/>
<rect x="60" y="755" width="1" height="2" fill="#c0c0c0"/>
<rect x="64" y="755" width="1" height="3" fill="#c0c0c0"/>
<rect x="68" y="755" width="1" height="4" fill="#c0c0c0"/>
<rect x="72" y="755" width="1" height="5" fill="#c0c0c0"/>
<rect x="76" y="755" width="1" height="6" fill="#c0c0c0"/>
<rect x="80" y="755" width="1" height="6" fill="#c0c0c0"/>
<rect x="84" y="755" width="1" height="6" fill="#c0c0c0"/>
<rect x="88" y="755" width="1" height="6" fill="#c0c0c0"/>
<rect x="92" y="755" width="1" height="6" fill="#c0c0c0"/>
<rect x="96" y="755" width="1" height="6" fill="#c0c0c0"/>
<rect x="100" y="755" width="1" height="5" fill="#c0c0c0"/>
<rect x="104" y="755" width="1" height="6" fill="#c0c0c0"/>
<rect x="108" y="755" width="1" height="7" fill="#c0c0c0"/>
<rect x="112" y="755" width="1" height="7" fill="#c0c0c0"/>
<rect x="116" y="755" width="1" height="8" fill="#c0c0c0"/>
<rect x="120" y="755" width="1" height="10" fill="#c0c0c0"/>
<rect x="124" y="755" width="1" height="11" fill="#c0c0c0"/>
<rect x="128" y="755" width="1" height="12" fill="#c0c0c0"/>
<rect x="132" y="755" width="1" height="13" fill="#c0c0c0"/>
<rect x="136" y="755" width="1" height="13" fill="#c0c0c0"/>
<rect x="140" y="755" width="1" height="13" fill="#c0c0c0"/>
<rect x="144" y="755" width="1" height="12" fill="#c0c0c0"/>
<rect x="148" y="755" width="1" height="11" fill="#c0c0c0"/>
<rect x="152" y="755" width="1" height="10" fill="#c0c0c0"/>
<rect x="156" y="755" width="1" height="9" fill="#c0c0c0"/>
<rect x="160" y="755" width="1" height="8" fill="#c0c0c0"/>
<rect x="164" y="755" width="1" height="8" fill="#c0c0c0"/>
<rect x="168" y="755" width="1" height="7" fill="#c0c0c0"/>
<rect x="172" y="755" width="1" height="6" fill="#c0c0c0"/>
<rect x="176" y="755" width="1" height="6" fill="#c0c0c0"/>
<rect x="180" y="755" width="1" height="6" fill="#c0c0c0"/>
<rect x="184" y="755" width="1" height="5" fill="#c0c0c0"/>
<rect x="188" y="755" width="1" height="5" fill="#c0c0c0"/>
<rect x="192" y="755" width="1" height="4" fill="#c0c0c0"/>
<rect x="196" y="755" width="1" height="3" fill="#c0c0c0"/>
<rect x="200" y="755" width="1" height="1" fill="#c0c0c0"/>
<rect x="204" y="755" width="1" height="1" fill="#c0c0c0"/>
<rect x="208" y="754" width="1" height="2" fill="#c0c0c0"/>
<rect x="212" y="752" width="1" height="4" fill="#c0c0c0"/>
<rect x="216" y="752" width="1" height="4" fill="#c0c0c0"/>
<rect x="220" y="750" width="1" height="6" fill="#c0c0c0"/>
<rect x="224" y="749" width="1" height="7" fill="#c0c0c0"/>
<rect x="228" y="749" width="1" height="7" fill="#c0c0c0"/>
<rect x="232" y="748" width="1" height="8" fill="#c0c0c0"/>
<rect x="236" y="747" width="1" height="9" fill="#c0c0c0"/>
<rect x="240" y="746" width="1" height="10" fill="#c0c0c0"/>
<rect x="244" y="745" width="1" height="11" fill="#c0c0c0"/>
<rect x="248" y="745" width="1" height="11" fill="#c0c0c0"/>
<rect x="252" y="744" width="1" height="12" fill="#c0c0c0"/>
<rect x="256" y="744" width="1" height="12" fill="#c0c0c0"/>
<rect x="260" y="744" width="1" height="12" fill="#c0c0c0"/>
<rect x="264" y="744" width="1" height="12" fill="#c0c0c0"/>
<rect x="268" y="745" width="1" height="11" fill="#c0c0c0"/>
<rect x="272" y="746" width="1" height="10" fill="#c0c0c0"/>
<rect x="276" y="747" width="1" height="9" fill="#c0c0c0"/>
<rect x="280" y="748" width="1" height="8" fill="#c0c0c0"/>
<rect x="284" y="749" width="1" height="7" fill="#c0c0c0"/>
<rect x="288" y="749" width="1" height="7" fill="#c0c0c0"/>
<rect x="292" y="750" width="1" height="6" fill="#c0c0c0"/>
<rect x="296" y="751" width="1" height="5" fill="#c0c0c0"/>
<rect x="300" y="751" width="1" height="5" fill="#c0c0c0"/>
<rect x="304" y="752" width="1" height="4" fill="#c0c0c0"/>
<rect x="308" y="752" width="1" height="4" fill="#c0c0c0"/>
<rect x="312" y="751" width="1" height="5" fill="#c0c0c0"/>
<rect x="316" y="751" width="1" height="5" fill="#c0c0c0"/>
<rect x="320" y="750" width="1" height="6" fill="#c0c0c0"/>
<rect x="324" y="748" width="1" height="8" fill="#c0c0c0"/>
<rect x="328" y="747" width="1" height="9" fill="#c0c0c0"/>
<rect x="332" y="746" width="1" height="10" fill="#c0c0c0"/>
<rect x="336" y="747" width="1" height="9" fill="#c0c0c0"/>
<rect x="340" y="746" width="1" height="10" fill="#c0c0c0"/>
<rect x="344" y="746" width="1" height="10" fill="#c0c0c0"/>
<rect x="348" y="746" width="1" height="10" fill="#c0c0c0"/>
<rect x="352" y="745" width="1" height="11" fill="#c0c0c0"/>
<rect x="356" y="744" width="1" height="12" fill="#c0c0c0"/>
<rect x="360" y="739" width="1" height="17" fill="#c0c0c0"/>
<rect x="364" y="735" width="1" height="21" fill="#c0c0c0"/>
<rect x="368" y="731" width="1" height="25" fill="#c0c0c0"/>
<rect x="372" y="726" width="1" height="30" fill="#c0c0c0"/>
<rect x="376" y="724" width="1" height="32" fill="#c0c0c0"/>
<rect x="380" y="721" width="1" height="35" fill="#c0c0c0"/>
<rect x="384" y="717" width="1" height="39" fill="#c0c0c0"/>
<rect x="388" y="708" width="1" height="48" fill="#c0c0c0"/>
<rect x="392" y="703" width="1" height="53" fill="#c0c0c0"/>
<rect x="396" y="701" width="1" height="55" fill="#c0c0c0"/>
<rect x="400" y="699" width="1" height="57" fill="#c0c0c0"/>
<rect x="404" y="697" width="1" height="59" fill="#c0c0c0"/>
<rect x="408" y="697" width="1" height="59" fill="#c0c0c0"/>
<rect x="412" y="699" width="1" height="57" fill="#c0c0c0"/>
<rect x="416" y="706" width="1" height="50" fill="#c0c0c0"/>
<rect x="420" y="712" width="1" height="44" fill="#c0c0c0"/>
<rect x="424" y="719" width="1" height="37" fill="#c0c0c0"/>
<rect x="428" y="721" width="1" height="35" fill="#c0c0c0"/>
<rect x="432" y="724" width="1" height="32" fill="#c0c0c0"/>
<rect x="436" y="725" width="1" height="31" fill="#c0c0c0"/>
<rect x="440" y="728" width="1" height="28" fill="#c0c0c0"/>
<rect x="444" y="730" width="1" height="26" fill="#c0c0c0"/>
<rect x="448" y="732" width="1" height="24" fill="#c0c0c0"/>
<rect x="452" y="734" width="1" height="22" fill="#c0c0c0"/>
<rect x="456" y="738" width="1" height="18" fill="#c0c0c0"/>
<rect x="460" y="741" width="1" height="15" fill="#c0c0c0"/>
<rect x="464" y="744" width="1" height="12" fill="#c0c0c0"/>
<rect x="468" y="747" width="1" height="9" fill="#c0c0c0"/>
<rect x="472" y="749" width="1" height="7" fill="#c0c0c0"/>
<rect x="476" y="751" width="1" height="5" fill="#c0c0c0"/>
<rect x="480" y="753" width="1" height="3" fill="#c0c0c0"/>
<rect x="484" y="752" width="1" height="4" fill="#c0c0c0"/>
<rect x="488" y="751" width="1" height="5" fill="#c0c0c0"/>
<rect x="492" y="751" width="1" height="5" fill="#c0c0c0"/>
<rect x="496" y="752" width="1" height="4" fill="#c0c0c0"/>
<rect x="500" y="752" width="1" height="4" fill="#c0c0c0"/>
<rect x="504" y="750" width="1" height="6" fill="#c0c0c0"/>
<rect x="508" y="749" width="1" height="7" fill="#c0c0c0"/>
<rect x="512" y="750" width="1" height="6" fill="#c0c0c0"/>
<rect x="516" y="750" width="1" height="6" fill="#c0c0c0"/>
<rect x="520" y="750" width="1" height="6" fill="#c0c0c0"/>
<rect x="524" y="751" width="1" height="5" fill="#c0c0c0"/>
<rect x="528" y="752" width="1" height="4" fill="#c0c0c0"/>
<rect x="532" y="755" width="1" height="1" fill="#c0c0c0"/>
<rect x="536" y="755" width="1" height="3" fill="#c0c0c0"/>
<rect x="540" y="755" width="1" height="1" fill="#c0c0c0"/>
<rect x="544" y="755" width="1" height="1" fill="#c0c0c0"/>
<rect x="548" y="754" width="1" height="2" fill="#c0c0c0"/>
<rect x="552" y="754" width="1" height="2" fill="#c0c0c0"/>
<rect x="556" y="753" width="1" height="3" fill="#c0c0c0"/>
<rect x="560" y="754" width="1" height="2" fill="#c0c0c0"/>
<rect x="564" y="755" width="1" height="3" fill="#c0c0c0"/>
<rect x="568" y="755" width="1" height="4" fill="#c0c0c0"/>
<rect x="572" y="755" width="1" height="3" fill="#c0c0c0"/>
<rect x="576" y="755" width="1" height="3" fill="#c0c0c0"/>
<rect x="580" y="755" width="1" height="2" fill="#c0c0c0"/>
<rect x="584" y="755" width="1" height="1" fill="#c0c0c0"/>
<rect x="588" y="754" width="1" height="2" fill="#c0c0c0"/>
<rect x="592" y="753" width="1" height="3" fill="#c0c0c0"/>
<rect x="596" y="754" width="1" height="2" fill="#c0c0c0"/>
<rect x="600" y="755" width="1" height="3" fill="#c0c0c0"/>
<rect x="604" y="755" width="1" height="4" fill="#c0c0c0"/>
<rect x="608" y="755" width="1" height="5" fill="#c0c0c0"/>
<rect x="612" y="755" width="1" height="4" fill="#c0c0c0"/>
<rect x="616" y="755" width="1" height="4" fill="#c0c0c0"/>
<rect x="620" y="755" width="1" height="4" fill="#c0c0c0"/>
<rect x="624" y="755" width="1" height="6" fill="#c0c0c0"/>
<rect x="628" y="755" width="1" height="9" fill="#c0c0c0"/>
<rect x="632" y="755" width="1" height="11" fill="#c0c0c0"/>
<rect x="636" y="755" width="1" height="12" fill="#c0c0c0"/>
<rect x="640" y="755" width="1" height="13" fill="#c0c0c0"/>
<rect x="644" y="755" width="1" height="16" fill="#c0c0c0"/>
<rect x="648" y="755" width="1" height="20" fill="#c0c0c0"/>
<rect x="652" y="755" width="1" height="23" fill="#c0c0c0"/>
<rect x="656" y="755" width="1" height="25" fill="#c0c0c0"/>
<rect x="660" y="755" width="1" height="27" fill="#c0c0c0"/>
<rect x="664" y="755" width="1" height="29" fill="#c0c0c0"/>
<rect x="668" y="755" width="1" height="30" fill="#c0c0c0"/>
<rect x="672" y="755" width="1" height="31" fill="#c0c0c0"/>
<rect x="676" y="755" width="1" height="31" fill="#c0c0c0"/>
<rect x="680" y="755" width="1" height="28" fill="#c0c0c0"/>
<rect x="684" y="755" width="1" height="26" fill="#c0c0c0"/>
<rect x="688" y="755" width="1" height="23" fill="#c0c0c0"/>
<rect x="692" y="755" width="1" height="20" fill="#c0c0c0"/>
<rect x="696" y="755" width="1" height="19" fill="#c0c0c0"/>
<rect x="700" y="755" width="1" height="18" fill="#c0c0c0"/>
<rect x="704" y="755" width="1" height="16" fill="#c0c0c0"/>
<rect x="708" y="755" width="1" height="14" fill="#c0c0c0"/>
<rect x="712" y="755" width="1" height="13" fill="#c0c0c0"/>
<rect x="716" y="755" width="1" height="13" fill="#c0c0c0"/>
<rect x="720" y="755" width="1" height="13" fill="#c0c0c0"/>
<rect x="724" y="755" width="1" height="11" fill="#c0c0c0"/>
<rect x="728" y="755" width="1" height="9" fill="#c0c0c0"/>
<rect x="732" y="755" width="1" height="7" fill="#c0c0c0"/>
<rect x="736" y="755" width="1" height="6" fill="#c0c0c0"/>
<rect x="740" y="755" width="1" height="4" fill="#c0c0c0"/>
<rect x="744" y="755" width="1" height="4" fill="#c0c0c0"/>
<rect x="748" y="755" width="1" height="4" fill="#c0c0c0"/>
<rect x="752" y="755" width="1" height="5" fill="#c0c0c0"/>
<rect x="756" y="755" width="1" height="5" fill="#c0c0c0"/>
<rect x="760" y="755" width="1" height="5" fill="#c0c0c0"/>
<rect x="764" y="755" width="1" height="6" fill="#c0c0c0"/>
<rect x="768" y="755" width="1" height="6" fill="#c0c0c0"/>
<rect x="772" y="755" width="1" height="6" fill="#c0c0c0"/>
<rect x="776" y="755" width="1" height="6" fill="#c0c0c0"/>
<rect x="780" y="755" width="1" height="5" fill="#c0c0c0"/>
<rect x="784" y="755" width="1" height="5" fill="#c0c0c0"/>
<rect x="788" y="755" width="1" height="5" fill="#c0c0c0"/>
<rect x="792" y="755" width="1" height="4" fill="#c0c0c0"/>
<rect x="796" y="755" width="1" height="5" fill="#c0c0c0"/>
<rect x="800" y="755" width="1" height="5" fill="#c0c0c0"/>
<rect x="804" y="755" width="1" height="5" fill="#c0c0c0"/>
<rect x="808" y="755" width="1" height="4" fill="#c0c0c0"/>
<rect x="812" y="755" width="1" height="5" fill="#c0c0c0"/>
<rect x="816" y="755" width="1" height="6" fill="#c0c0c0"/>
<rect x="820" y="755" width="1" height="8" fill="#c0c0c0"/>
<rect x="824" y="755" width="1" height="10" fill="#c0c0c0"/>
<rect x="828" y="755" width="1" height="10" fill="#c0c0c0"/>
<rect x="832" y="755" width="1" height="11" fill="#c0c0c0"/>
<rect x="836" y="755" width="1" height="11" fill="#c0c0c0"/>
<rect x="840" y="755" width="1" height="12" fill="#c0c0c0"/>
<rect x="844" y="755" width="1" height="12" fill="#c0c0c0"/>
<rect x="848" y="755" width="1" height="12" fill="#c0c0c0"/>
<rect x="852" y="755" width="1" height="12" fill="#c0c0c0"/>
<rect x="856" y="755" width="1" height="12" fill="#c0c0c0"/>
<rect x="860" y="755" width="1" height="11" fill="#c0c0c0"/>
<rect x="864" y="755" width="1" height="11" fill="#c0c0c0"/>
<rect x="868" y="755" width="1" height="13" fill="#c0c0c0"/>
<rect x="872" y="755" width="1" height="13" fill="#c0c0c0"/>
<rect x="876" y="755" width="1" height="12" fill="#c0c0c0"/>
<rect x="880" y="755" width="1" height="11" fill="#c0c0c0"/>
<rect x="884" y="755" width="1" height="11" fill="#c0c0c0"/>
<rect x="888" y="755" width="1" height="11" fill="#c0c0c0"/>
<rect x="892" y="755" width="1" height="12" fill="#c0c0c0"/>
<rect x="896" y="755" width="1" height="13" fill="#c0c0c0"/>
<rect x="900" y="755" width="1" height="13" fill="#c0c0c0"/>
<rect x="904" y="755" width="1" height="13" fill="#c0c0c0"/>
<rect x="908" y="755" width="1" height="14" fill="#c0c0c0"/>
<rect x="912" y="755" width="1" height="15" fill="#c0c0c0"/>
<rect x="916" y="755" width="1" height="15" fill="#c0c0c0"/>
<rect x="920" y="755" width="1" height="15" fill="#c0c0c0"/>
<rect x="924" y="755" width="1" height="15" fill="#c0c0c0"/>
<rect x="928" y="755" width="1" height="15" fill="#c0c0c0"/>
<rect x="932" y="755" width="1" height="14" fill="#c0c0c0"/>
<rect x="936" y="755" width="1" height="13" fill="#c0c0c0"/>
<rect x="940" y="755" width="1" height="14" fill="#c0c0c0"/>
<rect x="944" y="755" width="1" height="14" fill="#c0c0c0"/>
<rect x="948" y="755" width="1" height="14" fill="#c0c0c0"/>
<rect x="952" y="755" width="1" height="15" fill="#c0c0c0"/>
<rect x="956" y="755" width="1" height="16" fill="#c0c0c0"/>
<rect x="960" y="755" width="1" height="16" fill="#c0c0c0"/>
<rect x="964" y="755" width="1" height="16" fill="#c0c0c0"/>
<rect x="968" y="755" width="1" height="15" fill="#c0c0c0"/>
<rect x="972" y="755" width="1" height="14" fill="#c0c0c0"/>
<rect x="976" y="755" width="1" height="14" fill="#c0c0c0"/>
<rect x="980" y="755" width="1" height="14" fill="#c0c0c0"/>
<rect x="984" y="755" width="1" height="11" fill="#c0c0c0"/>
<rect x="988" y="755" width="1" height="10" fill="#c0c0c0"/>
<rect x="992" y="755" width="1" height="9" fill="#c0c0c0"/>
<rect x="996" y="755" width="1" height="7" fill="#c0c0c0"/>
<rect x="1000" y="755" width="1" height="6" fill="#c0c0c0"/>
<rect x="1004" y="755" width="1" height="5" fill="#c0c0c0"/>
<rect x="1008" y="755" width="1" height="4" fill="#c0c0c0"/>
<rect x="1012" y="755" width="1" height="4" fill="#c0c0c0"/>
<rect x="1016" y="755" width="1" height="3" fill="#c0c0c0"/>
<rect x="1020" y="755" width="1" height="3" fill="#c0c0c0"/>
<rect x="1024" y="755" width="1" height="2" fill="#c0c0c0"/>
<rect x="1028" y="754" width="1" height="2" fill="#c0c0c0"/>
<rect x="1032" y="752" width="1" height="4" fill="#c0c0c0"/>
<rect x="1036" y="750" width="1" height="6" fill="#c0c0c0"/>
<rect x="1040" y="748" width="1" height="8" fill="#c0c0c0"/>
<rect x="1044" y="747" width="1" height="9" fill="#c0c0c0"/>
<rect x="1048" y="746" width="1" height="10" fill="#c0c0c0"/>
<rect x="1052" y="745" width="1" height="11" fill="#c0c0c0"/>
<rect x="1056" y="744" width="1" height="12" fill="#c0c0c0"/>
<rect x="1060" y="745" width="1" height="11" fill="#c0c0c0"/>
<rect x="1064" y="746" width="1" height="10" fill="#c0c0c0"/>
<rect x="1068" y="747" width="1" height="9" fill="#c0c0c0"/>
<rect x="1072" y="748" width="1" height="8" fill="#c0c0c0"/>
<rect x="1076" y="749" width="1" height="7" fill="#c0c0c0"/>
<rect x="1080" y="750" width="1" height="6" fill="#c0c0c0"/>
<rect x="1084" y="751" width="1" height="5" fill="#c0c0c0"/>
<rect x="1088" y="752" width="1" height="4" fill="#c0c0c0"/>
<rect x="1092" y="755" width="1" height="1" fill="#c0c0c0"/>
<rect x="1096" y="755" width="1" height="3" fill="#c0c0c0"/>
<rect x="1100" y="755" width="1" height="5" fill="#c0c0c0"/>
<rect x="1104" y="755" width="1" height="6" fill="#c0c0c0"/>
<rect x="1108" y="755" width="1" height="6" fill="#c0c0c0"/>
<rect x="1112" y="755" width="1" height="5" fill="#c0c0c0"/>
<rect x="1116" y="755" width="1" height="5" fill="#c0c0c0"/>
<rect x="1120" y="755" width="1" height="5" fill="#c0c0c0"/>
<rect x="1124" y="755" width="1" height="6" fill="#c0c0c0"/>
<rect x="1128" y="755" width="1" height="6" fill="#c0c0c0"/>
<rect x="1132" y="755" width="1" height="7" fill="#c0c0c0"/>
<rect x="1136" y="755" width="1" height="7" fill="#c0c0c0"/>
<rect x="1140" y="755" width="1" height="7" fill="#c0c0c0"/>
<rect x="1144" y="755" width="1" height="7" fill="#c0c0c0"/>
<rect x="1148" y="755" width="1" height="6" fill="#c0c0c0"/>
<rect x="1152" y="755" width="1" height="5" fill="#c0c0c0"/>
<rect x="1156" y="755" width="1" height="3" fill="#c0c0c0"/>
<rect x="1160" y="754" width="1" height="2" fill="#c0c0c0"/>
<rect x="1164" y="752" width="1" height="4" fill="#c0c0c0"/>
<rect x="1168" y="751" width="1" height="5" fill="#c0c0c0"/>
<rect x="1172" y="751" width="1" height="5" fill="#c0c0c0"/>
<rect x="1176" y="754" width="1" height="2" fill="#c0c0c0"/>
<rect x="1180" y="755" width="1" height="1" fill="#c0c0c0"/>
<rect x="1184" y="755" width="1" height="4" fill="#c0c0c0"/>
<rect x="1188" y="755" width="1" height="6" fill="#c0c0c0"/>
<rect x="1192" y="755" width="1" height="8" fill="#c0c0c0"/>
<rect x="1196" y="755" width="1" height="10" fill="#c0c0c0"/>
<rect x="1200" y="755" width="1" height="11" fill="#c0c0c0"/>
<rect x="1204" y="755" width="1" height="11" fill="#c0c0c0"/>
<rect x="1208" y="755" width="1" height="10" fill="#c0c0c0"/>
<rect x="1212" y="755" width="1" height="8" fill="#c0c0c0"/>
<rect x="1216" y="755" width="1" height="7" fill="#c0c0c0"/>
<rect x="1220" y="755" width="1" height="7" fill="#c0c0c0"/>
<rect x="1224" y="755" width="1" height="7" fill="#c0c0c0"/>
<rect x="1228" y="755" width="1" height="7" fill="#c0c0c0"/>
<rect x="1232" y="755" width="1" height="7" fill="#c0c0c0"/>
<rect x="1236" y="755" width="1" height="7" fill="#c0c0c0"/>
<rect x="1240" y="755" width="1" height="6" fill="#c0c0c0"/>
<rect x="1244" y="755" width="1" height="6" fill="#c0c0c0"/>
<rect x="1248" y="755" width="1" height="6" fill="#c0c0c0"/>
<rect x="1252" y="755" width="1" height="7" fill="#c0c0c0"/>
<rect x="1256" y="755" width="1" height="8" fill="#c0c0c0"/>
<rect x="1260" y="755" width="1" height="8" fill="#c0c0c0"/>
<rect x="1264" y="755" width="1" height="9" fill="#c0c0c0"/>
<rect x="1268" y="755" width="1" height="9" fill="#c0c0c0"/>
<path d="M417 703h3v1h-3zM413 704h1v1h-1zM423 704h2v1h-2zM412 705h1v1h-1zM425 705h1v1h-1zM411 706h1v1h-1zM429 707h2v1h-2zM431 708h1v1h-1zM406 709h2v1h-2zM405 710h1v1h-1zM435 710h1v1h-1zM436 711h1v1h-1zM437 712h1v1h-1zM401 714h1v1h-1zM400 715h1v1h-1zM399 716h1v1h-1zM441 716h1v1h-1zM442 717h2v1h-2zM395 720h1v1h-1zM394 721h1v1h-1zM447 721h1v1h-1zM393 722h1v1h-1zM448 722h1v1h-1zM449 723h1v1h-1zM389 726h1v1h-1zM453 726h1v1h-1zM388 727h1v1h-1zM454 727h2v1h-2zM387 728h1v1h-1zM459 730h1v1h-1zM460 731h1v1h-1zM383 732h1v1h-1zM461 732h1v1h-1zM382 733h1v1h-1zM381 734h1v1h-1zM465 734h1v1h-1zM466 735h2v1h-2zM377 736h1v1h-1zM376 737h1v1h-1zM375 738h1v1h-1zM471 738h2v1h-2zM473 739h1v1h-1zM371 740h1v1h-1zM369 741h2v1h-2zM477 742h2v1h-2zM365 743h1v1h-1zM479 743h1v1h-1zM363 744h2v1h-2zM262 745h2v1h-2zM267 745h3v1h-3zM273 745h3v1h-3zM279 745h3v1h-3zM358 745h2v1h-2zM483 745h1v1h-1zM255 746h3v1h-3zM261 746h1v1h-1zM285 746h3v1h-3zM357 746h1v1h-1zM484 746h2v1h-2zM1066 746h2v1h-2zM1071 746h3v1h-3zM1077 746h1v1h-1zM250 747h2v1h-2zM291 747h3v1h-3zM346 747h2v1h-2zM351 747h3v1h-3zM1065 747h1v1h-1zM1078 747h2v1h-2zM1083 747h3v1h-3zM249 748h1v1h-1zM297 748h3v1h-3zM345 748h1v1h-1zM489 748h2v1h-2zM1059 748h3v1h-3zM1089 748h1v1h-1zM243 749h3v1h-3zM303 749h3v1h-3zM334 749h2v1h-2zM339 749h3v1h-3zM491 749h1v1h-1zM1055 749h1v1h-1zM1090 749h2v1h-2zM15 750h3v1h-3zM21 750h3v1h-3zM27 750h3v1h-3zM238 750h2v1h-2zM309 750h3v1h-3zM327 750h3v1h-3zM333 750h1v1h-1zM495 750h3v1h-3zM519 750h3v1h-3zM525 750h1v1h-1zM1053 750h2v1h-2zM3 751h3v1h-3zM9 751h3v1h-3zM33 751h3v1h-3zM39 751h3v1h-3zM237 751h1v1h-1zM315 751h3v1h-3zM321 751h3v1h-3zM501 751h3v1h-3zM507 751h3v1h-3zM513 751h3v1h-3zM526 751h2v1h-2zM531 751h3v1h-3zM537 751h1v1h-1zM1095 751h3v1h-3zM45 752h3v1h-3zM231 752h3v1h-3zM538 752h2v1h-2zM1047 752h3v1h-3zM1101 752h1v1h-1zM51 753h3v1h-3zM57 753h1v1h-1zM226 753h2v1h-2zM543 753h3v1h-3zM549 753h1v1h-1zM1043 753h1v1h-1zM1102 753h2v1h-2zM58 754h2v1h-2zM225 754h1v1h-1zM550 754h2v1h-2zM555 754h3v1h-3zM561 754h1v1h-1zM1041 754h2v1h-2zM63 755h3v1h-3zM69 755h1v1h-1zM219 755h3v1h-3zM562 755h2v1h-2zM567 755h3v1h-3zM573 755h3v1h-3zM1107 755h3v1h-3zM1174 755h2v1h-2zM1179 755h3v1h-3zM1185 755h3v1h-3zM1191 755h3v1h-3zM70 756h2v1h-2zM213 756h3v1h-3zM579 756h3v1h-3zM585 756h3v1h-3zM591 756h3v1h-3zM597 756h3v1h-3zM603 756h3v1h-3zM609 756h3v1h-3zM615 756h3v1h-3zM1035 756h3v1h-3zM1113 756h1v1h-1zM1173 756h1v1h-1zM75 757h3v1h-3zM81 757h1v1h-1zM207 757h3v1h-3zM621 757h3v1h-3zM1030 757h2v1h-2zM1114 757h2v1h-2zM1167 757h3v1h-3zM1197 757h2v1h-2zM82 758h2v1h-2zM87 758h3v1h-3zM202 758h2v1h-2zM627 758h2v1h-2zM1029 758h1v1h-1zM1119 758h3v1h-3zM1162 758h2v1h-2zM1199 758h1v1h-1zM93 759h3v1h-3zM99 759h3v1h-3zM195 759h3v1h-3zM201 759h1v1h-1zM629 759h1v1h-1zM759 759h3v1h-3zM765 759h3v1h-3zM771 759h3v1h-3zM777 759h3v1h-3zM783 759h3v1h-3zM789 759h3v1h-3zM795 759h3v1h-3zM801 759h3v1h-3zM807 759h3v1h-3zM813 759h3v1h-3zM819 759h3v1h-3zM1023 759h3v1h-3zM1125 759h3v1h-3zM1161 759h1v1h-1zM1203 759h2v1h-2zM105 760h3v1h-3zM111 760h3v1h-3zM117 760h1v1h-1zM189 760h3v1h-3zM633 760h1v1h-1zM754 760h2v1h-2zM825 760h3v1h-3zM1018 760h2v1h-2zM1131 760h3v1h-3zM1137 760h3v1h-3zM1143 760h3v1h-3zM1149 760h3v1h-3zM1155 760h3v1h-3zM1205 760h1v1h-1zM118 761h2v1h-2zM123 761h3v1h-3zM183 761h3v1h-3zM634 761h2v1h-2zM639 761h2v1h-2zM753 761h1v1h-1zM831 761h3v1h-3zM1017 761h1v1h-1zM1209 761h1v1h-1zM1239 761h3v1h-3zM1245 761h3v1h-3zM1251 761h3v1h-3zM1257 761h3v1h-3zM1263 761h3v1h-3zM129 762h1v1h-1zM178 762h2v1h-2zM641 762h1v1h-1zM747 762h3v1h-3zM837 762h1v1h-1zM1011 762h3v1h-3zM1210 762h2v1h-2zM1215 762h3v1h-3zM1233 762h3v1h-3zM130 763h2v1h-2zM171 763h3v1h-3zM177 763h1v1h-1zM645 763h1v1h-1zM742 763h2v1h-2zM838 763h2v1h-2zM1006 763h2v1h-2zM1221 763h3v1h-3zM1227 763h3v1h-3zM135 764h3v1h-3zM141 764h1v1h-1zM166 764h2v1h-2zM646 764h2v1h-2zM741 764h1v1h-1zM843 764h3v1h-3zM849 764h1v1h-1zM1005 764h1v1h-1zM142 765h2v1h-2zM147 765h3v1h-3zM154 765h2v1h-2zM159 765h3v1h-3zM165 765h1v1h-1zM735 765h3v1h-3zM850 765h2v1h-2zM855 765h3v1h-3zM861 765h3v1h-3zM999 765h3v1h-3zM153 766h1v1h-1zM651 766h1v1h-1zM867 766h3v1h-3zM873 766h3v1h-3zM879 766h3v1h-3zM885 766h3v1h-3zM891 766h3v1h-3zM897 766h3v1h-3zM903 766h3v1h-3zM909 766h1v1h-1zM994 766h2v1h-2zM652 767h1v1h-1zM730 767h2v1h-2zM910 767h2v1h-2zM915 767h3v1h-3zM993 767h1v1h-1zM653 768h1v1h-1zM729 768h1v1h-1zM921 768h3v1h-3zM927 768h3v1h-3zM933 768h3v1h-3zM939 768h3v1h-3zM945 768h3v1h-3zM951 768h3v1h-3zM957 768h1v1h-1zM987 768h3v1h-3zM723 769h3v1h-3zM958 769h2v1h-2zM963 769h3v1h-3zM969 769h3v1h-3zM975 769h3v1h-3zM981 769h3v1h-3zM657 770h2v1h-2zM719 770h1v1h-1zM659 771h1v1h-1zM717 771h2v1h-2zM663 773h2v1h-2zM713 773h1v1h-1zM665 774h1v1h-1zM711 774h2v1h-2zM669 776h1v1h-1zM707 776h1v1h-1zM670 777h2v1h-2zM705 777h2v1h-2zM699 779h3v1h-3zM675 780h3v1h-3zM694 780h2v1h-2zM681 781h1v1h-1zM693 781h1v1h-1zM682 782h2v1h-2zM687 782h3v1h-3z" fill="#ff0000"/>
</g>
<rect x="3" y="28" width="1594" height="1" fill="#000"/>
<rect x="3" y="584" width="1594" height="1" fill="#000"/>
<rect x="3" y="28" width="1" height="557" fill="#000"/>
<rect x="1596" y="28" width="1" height="557" fill="#000"/>
<rect x="3" y="586" width="1594" height="1" fill="#000"/>
<rect x="3" y="688" width="1594" height="1" fill="#000"/>
<rect x="3" y="586" width="1" height="103" fill="#000"/>
<rect x="1596" y="586" width="1" height="103" fill="#000"/>
<rect x="3" y="690" width="1594" height="1" fill="#000"/>
<rect x="3" y="791" width="1594" height="1" fill="#000"/>
<rect x="3" y="690" width="1" height="102" fill="#000"/>
<rect x="1596" y="690" width="1" height="102" fill="#000"/>
<rect x="1597" y="53" width="2" height="1" fill="#000"/>
<rect x="1597" y="86" width="2" height="1" fill="#000"/>
<rect x="1597" y="119" width="2" height="1" fill="#000"/>
<rect x="1597" y="152" width="2" height="1" fill="#000"/>
<rect x="1597" y="185" width="2" height="1" fill="#000"/>
<rect x="1597" y="218" width="2" height="1" fill="#000"/>
<rect x="1597" y="251" width="2" height="1" fill="#000"/>
<rect x="1597" y="284" width="2" height="1" fill="#000"/>
<rect x="1597" y="317" width="2" height="1" fill="#000"/>
<rect x="1597" y="350" width="2" height="1" fill="#000"/>
<rect x="1597" y="383" width="2" height="1" fill="#000"/>
<rect x="1597" y="416" width="2" height="1" fill="#000"/>
<rect x="1597" y="449" width="2" height="1" fill="#000"/>
<rect x="1597" y="482" width="2" height="1" fill="#000"/>
<rect x="1597" y="515" width="2" height="1" fill="#000"/>
<rect x="1597" y="548" width="2" height="1" fill="#000"/>
<rect x="1597" y="581" width="2" height="1" fill="#000"/>
<text x="1602" y="57" font-size="9.8" fill="#000" letter-spacing="-0.4" stroke="#000" stroke-width="0.15">1.46740</text>
<text x="1602" y="90" font-size="9.8" fill="#000" letter-spacing="-0.4" stroke="#000" stroke-width="0.15">1.45630</text>
<text x="1602" y="123" font-size="9.8" fill="#000" letter-spacing="-0.4" stroke="#000" stroke-width="0.15">1.44520</text>
<text x="1602" y="156" font-size="9.8" fill="#000" letter-spacing="-0.4" stroke="#000" stroke-width="0.15">1.43410</text>
<text x="1602" y="189" font-size="9.8" fill="#000" letter-spacing="-0.4" stroke="#000" stroke-width="0.15">1.42300</text>
<text x="1602" y="222" font-size="9.8" fill="#000" letter-spacing="-0.4" stroke="#000" stroke-width="0.15">1.41160</text>
<text x="1602" y="255" font-size="9.8" fill="#000" letter-spacing="-0.4" stroke="#000" stroke-width="0.15">1.40050</text>
<text x="1602" y="288" font-size="9.8" fill="#000" letter-spacing="-0.4" stroke="#000" stroke-width="0.15">1.38940</text>
<text x="1602" y="321" font-size="9.8" fill="#000" letter-spacing="-0.4" stroke="#000" stroke-width="0.15">1.37830</text>
<text x="1602" y="354" font-size="9.8" fill="#000" letter-spacing="-0.4" stroke="#000" stroke-width="0.15">1.36720</text>
<text x="1602" y="387" font-size="9.8" fill="#000" letter-spacing="-0.4" stroke="#000" stroke-width="0.15">1.35610</text>
<text x="1602" y="420" font-size="9.8" fill="#000" letter-spacing="-0.4" stroke="#000" stroke-width="0.15">1.34500</text>
<text x="1602" y="453" font-size="9.8" fill="#000" letter-spacing="-0.4" stroke="#000" stroke-width="0.15">1.33360</text>
<text x="1602" y="486" font-size="9.8" fill="#000" letter-spacing="-0.4" stroke="#000" stroke-width="0.15">1.32250</text>
<text x="1602" y="519" font-size="9.8" fill="#000" letter-spacing="-0.4" stroke="#000" stroke-width="0.15">1.31140</text>
<text x="1602" y="552" font-size="9.8" fill="#000" letter-spacing="-0.4" stroke="#000" stroke-width="0.15">1.30030</text>
<text x="1602" y="585" font-size="9.8" fill="#000" letter-spacing="-0.4" stroke="#000" stroke-width="0.15">1.28920</text>
<rect x="1598" y="377" width="40" height="11" fill="#ff0000"/>
<rect x="1597" y="383" width="1" height="1" fill="#000"/>
<text x="1602" y="386" font-size="9.8" fill="#fff" letter-spacing="-0.4" stroke="#fff" stroke-width="0.15">1.35606</text>
<rect x="1598" y="418" width="40" height="11" fill="#ff0000"/>
<rect x="1597" y="424" width="1" height="1" fill="#000"/>
<text x="1602" y="427" font-size="9.8" fill="#fff" letter-spacing="-0.4" stroke="#fff" stroke-width="0.15">1.34206</text>
<rect x="1598" y="454" width="40" height="11" fill="#00ff00"/>
<rect x="1597" y="460" width="1" height="1" fill="#000"/>
<text x="1602" y="463" font-size="9.8" fill="#fff" letter-spacing="-0.4" stroke="#fff" stroke-width="0.15">1.33011</text>
<rect x="1598" y="501" width="40" height="11" fill="#0000ff"/>
<rect x="1597" y="507" width="1" height="1" fill="#000"/>
<text x="1602" y="510" font-size="9.8" fill="#fff" letter-spacing="-0.4" stroke="#fff" stroke-width="0.15">1.31405</text>
<rect x="1598" y="538" width="40" height="11" fill="#0000ff"/>
<rect x="1597" y="544" width="1" height="1" fill="#000"/>
<text x="1602" y="547" font-size="9.8" fill="#fff" letter-spacing="-0.4" stroke="#fff" stroke-width="0.15">1.30152</text>
<rect x="1598" y="549" width="40" height="10" fill="#000"/>
<text x="1602" y="557" font-size="9.8" fill="#fff" letter-spacing="-0.4" stroke="#fff" stroke-width="0.15">1.29852</text>
<rect x="1597" y="588" width="1" height="1" fill="#000"/>
<rect x="1597" y="617" width="1" height="1" fill="#000"/>
<rect x="1597" y="657" width="1" height="1" fill="#000"/>
<text x="1600" y="597" font-size="9.8" fill="#000" letter-spacing="-0.4" stroke="#000" stroke-width="0.15">100</text>
<text x="1600" y="621" font-size="9.8" fill="#000" letter-spacing="-0.4" stroke="#000" stroke-width="0.15">70</text>
<text x="1600" y="661" font-size="9.8" fill="#000" letter-spacing="-0.4" stroke="#000" stroke-width="0.15">30</text>
<text x="1600" y="685" font-size="9.8" fill="#000" letter-spacing="-0.4" stroke="#000" stroke-width="0.15">0</text>
<rect x="1597" y="692" width="1" height="1" fill="#000"/>
<rect x="1597" y="755" width="1" height="1" fill="#000"/>
<rect x="1597" y="790" width="1" height="1" fill="#000"/>
<text x="1600" y="701" font-size="9.8" fill="#000" letter-spacing="-0.4" stroke="#000" stroke-width="0.15">0.032972</text>
<text x="1600" y="759" font-size="9.8" fill="#000" letter-spacing="-0.4" stroke="#000" stroke-width="0.15">0.00</text>
<text x="1600" y="788" font-size="9.8" fill="#000" letter-spacing="-0.4" stroke="#000" stroke-width="0.15">-0.018154</text>
<rect x="7" y="35" width="7" height="1" fill="#000"/>
<rect x="8" y="36" width="5" height="1" fill="#000"/>
<rect x="9" y="37" width="3" height="1" fill="#000"/>
<rect x="10" y="38" width="1" height="1" fill="#000"/>
<text x="19.2" y="40" font-size="9.8" fill="#000" stroke="#000" stroke-width="0.15">USDCAD,Daily</text>
<text x="91.3" y="40" font-size="9.8" fill="#000" letter-spacing="-0.3" stroke="#000" stroke-width="0.15">1.29827 1.29929 1.29764 1.29852</text>
<text x="8.5" y="599" font-size="9.6" fill="#000" letter-spacing="-0.14" stroke="#000" stroke-width="0.15">RSI(14) 38.9091</text>
<text x="8.5" y="703" font-size="9.6" fill="#000" letter-spacing="-0.13" stroke="#000" stroke-width="0.15">MACD(12,26,9) -0.004229 -0.003345</text>
<rect x="4" y="792" width="1" height="3" fill="#000"/>
<text x="3" y="804" font-size="9.8" fill="#000" letter-spacing="-0.25" stroke="#000" stroke-width="0.15">27 Nov 2019</text>
<rect x="68" y="792" width="1" height="3" fill="#000"/>
<text x="67" y="804" font-size="9.8" fill="#000" letter-spacing="-0.25" stroke="#000" stroke-width="0.15">16 Dec 2019</text>
<rect x="132" y="792" width="1" height="3" fill="#000"/>
<text x="131" y="804" font-size="9.8" fill="#000" letter-spacing="-0.25" stroke="#000" stroke-width="0.15">3 Jan 2020</text>
<rect x="196" y="792" width="1" height="3" fill="#000"/>
<text x="195" y="804" font-size="9.8" fill="#000" letter-spacing="-0.25" stroke="#000" stroke-width="0.15">22 Jan 2020</text>
<rect x="260" y="792" width="1" height="3" fill="#000"/>
<text x="259" y="804" font-size="9.8" fill="#000" letter-spacing="-0.25" stroke="#000" stroke-width="0.15">10 Feb 2020</text>
<rect x="324" y="792" width="1" height="3" fill="#000"/>
<text x="323" y="804" font-size="9.8" fill="#000" letter-spacing="-0.25" stroke="#000" stroke-width="0.15">28 Feb 2020</text>
<rect x="388" y="792" width="1" height="3" fill="#000"/>
<text x="387" y="804" font-size="9.8" fill="#000" letter-spacing="-0.25" stroke="#000" stroke-width="0.15">18 Mar 2020</text>
<rect x="452" y="792" width="1" height="3" fill="#000"/>
<text x="451" y="804" font-size="9.8" fill="#000" letter-spacing="-0.25" stroke="#000" stroke-width="0.15">6 Apr 2020</text>
<rect x="516" y="792" width="1" height="3" fill="#000"/>
<text x="515" y="804" font-size="9.8" fill="#000" letter-spacing="-0.25" stroke="#000" stroke-width="0.15">24 Apr 2020</text>
<rect x="580" y="792" width="1" height="3" fill="#000"/>
<text x="579" y="804" font-size="9.8" fill="#000" letter-spacing="-0.25" stroke="#000" stroke-width="0.15">13 May 2020</text>
<rect x="644" y="792" width="1" height="3" fill="#000"/>
<text x="643" y="804" font-size="9.8" fill="#000" letter-spacing="-0.25" stroke="#000" stroke-width="0.15">1 Jun 2020</text>
<rect x="708" y="792" width="1" height="3" fill="#000"/>
<text x="707" y="804" font-size="9.8" fill="#000" letter-spacing="-0.25" stroke="#000" stroke-width="0.15">19 Jun 2020</text>
<rect x="772" y="792" width="1" height="3" fill="#000"/>
<text x="771" y="804" font-size="9.8" fill="#000" letter-spacing="-0.25" stroke="#000" stroke-width="0.15">8 Jul 2020</text>
<rect x="836" y="792" width="1" height="3" fill="#000"/>
<text x="835" y="804" font-size="9.8" fill="#000" letter-spacing="-0.25" stroke="#000" stroke-width="0.15">27 Jul 2020</text>
<rect x="900" y="792" width="1" height="3" fill="#000"/>
<text x="899" y="804" font-size="9.8" fill="#000" letter-spacing="-0.25" stroke="#000" stroke-width="0.15">14 Aug 2020</text>
<rect x="964" y="792" width="1" height="3" fill="#000"/>
<text x="963" y="804" font-size="9.8" fill="#000" letter-spacing="-0.25" stroke="#000" stroke-width="0.15">2 Sep 2020</text>
<rect x="1028" y="792" width="1" height="3" fill="#000"/>
<text x="1027" y="804" font-size="9.8" fill="#000" letter-spacing="-0.25" stroke="#000" stroke-width="0.15">21 Sep 2020</text>
<rect x="1092" y="792" width="1" height="3" fill="#000"/>
<text x="1091" y="804" font-size="9.8" fill="#000" letter-spacing="-0.25" stroke="#000" stroke-width="0.15">9 Oct 2020</text>
<rect x="1156" y="792" width="1" height="3" fill="#000"/>
<text x="1155" y="804" font-size="9.8" fill="#000" letter-spacing="-0.25" stroke="#000" stroke-width="0.15">28 Oct 2020</text>
<rect x="1220" y="792" width="1" height="3" fill="#000"/>
<text x="1219" y="804" font-size="9.8" fill="#000" letter-spacing="-0.25" stroke="#000" stroke-width="0.15">16 Nov 2020</text>
<rect x="0" y="812" width="1638" height="1" fill="#e3e3e3"/>
<rect x="0" y="814" width="1638" height="1" fill="#000"/>
<rect x="0" y="815" width="1638" height="1" fill="#ffffff"/>
<rect x="0" y="816" width="1638" height="18" fill="#f0f0f0"/>
<rect x="0" y="834" width="1638" height="1" fill="#ffffff"/>
<rect x="0" y="835" width="1638" height="3" fill="#f0f0f0"/>
<rect x="0" y="838" width="1638" height="1" fill="#a0a0a0"/>
<rect x="0" y="839" width="1638" height="1" fill="#e8e8e8"/>
<rect x="0" y="814" width="2" height="20" fill="#404040"/>
<rect x="313" y="813" width="104" height="19" fill="#ffffff"/>
<rect x="313" y="814" width="1" height="19" fill="#000"/>
<rect x="416" y="814" width="1" height="19" fill="#000"/>
<rect x="313" y="832" width="104" height="1" fill="#000"/>
<text x="17" y="829" font-size="12" fill="#7a7a7a" stroke="#7a7a7a" stroke-width="0.15">EURUSD,Daily</text>
<text x="119" y="829" font-size="12" fill="#7a7a7a" stroke="#7a7a7a" stroke-width="0.15">USDCHF,Daily</text>
<text x="220" y="829" font-size="12" fill="#7a7a7a" stroke="#7a7a7a" stroke-width="0.15">AUDUSD,Daily</text>
<text x="324" y="829" font-size="12" fill="#000" stroke="#000" stroke-width="0.15">USDCAD,Daily</text>
<text x="427" y="829" font-size="12" fill="#7a7a7a" stroke="#7a7a7a" stroke-width="0.15">USDCNH,Daily</text>
<text x="533" y="829" font-size="12" fill="#7a7a7a" stroke="#7a7a7a" stroke-width="0.15">EURUSD,Daily</text>
<text x="636.7" y="829" font-size="12" fill="#7a7a7a" stroke="#7a7a7a" stroke-width="0.15">GBPUSD,H4</text>
<text x="727.5" y="829" font-size="12" fill="#7a7a7a" stroke="#7a7a7a" stroke-width="0.15">XAUUSD,H1</text>
<text x="820.5" y="829" font-size="12" fill="#7a7a7a" stroke="#7a7a7a" stroke-width="0.15">HK50,H1</text>
<text x="892" y="829" font-size="12" fill="#7a7a7a" stroke="#7a7a7a" stroke-width="0.15">UK100,H1</text>
<text x="972" y="829" font-size="12" fill="#7a7a7a" stroke="#7a7a7a" stroke-width="0.15">UK100,H1</text>
<text x="1052.6" y="829" font-size="12" fill="#7a7a7a" stroke="#7a7a7a" stroke-width="0.15">GER30,H1</text>
<text x="1131" y="829" font-size="12" fill="#7a7a7a" stroke="#7a7a7a" stroke-width="0.15">FRA40,H1</text>
<text x="1207" y="829" font-size="12" fill="#7a7a7a" stroke="#7a7a7a" stroke-width="0.15">USOil,Daily</text>
<text x="1291" y="829" font-size="12" fill="#7a7a7a" stroke="#7a7a7a" stroke-width="0.15">USDJPY,H1</text>
<text x="1375" y="829" font-size="12" fill="#7a7a7a" stroke="#7a7a7a" stroke-width="0.15">DJ30,Daily</text>
<text x="1455" y="829" font-size="12" fill="#7a7a7a" stroke="#7a7a7a" stroke-width="0.15">CHINA300,H1</text>
<text x="1555" y="829" font-size="12" fill="#7a7a7a" stroke="#7a7a7a" stroke-width="0.15">USOil,H1</text>
<rect x="109" y="817" width="1" height="14" fill="#5a5a5a"/>
<rect x="209" y="817" width="1" height="14" fill="#5a5a5a"/>
<rect x="521" y="817" width="1" height="14" fill="#5a5a5a"/>
<rect x="625" y="817" width="1" height="14" fill="#5a5a5a"/>
<rect x="717" y="817" width="1" height="14" fill="#5a5a5a"/>
<rect x="808" y="817" width="1" height="14" fill="#5a5a5a"/>
<rect x="881" y="817" width="1" height="14" fill="#5a5a5a"/>
<rect x="961" y="817" width="1" height="14" fill="#5a5a5a"/>
<rect x="1041" y="817" width="1" height="14" fill="#5a5a5a"/>
<rect x="1121" y="817" width="1" height="14" fill="#5a5a5a"/>
<rect x="1197" y="817" width="1" height="14" fill="#5a5a5a"/>
<rect x="1281" y="817" width="1" height="14" fill="#5a5a5a"/>
<rect x="1365" y="817" width="1" height="14" fill="#5a5a5a"/>
<rect x="1445" y="817" width="1" height="14" fill="#5a5a5a"/>
<rect x="1545" y="817" width="1" height="14" fill="#5a5a5a"/>
<rect x="1612" y="823" width="1" height="1" fill="#a0a0a0"/>
<rect x="1613" y="822" width="1" height="3" fill="#a0a0a0"/>
<rect x="1614" y="821" width="1" height="5" fill="#a0a0a0"/>
<rect x="1615" y="820" width="1" height="7" fill="#a0a0a0"/>
<rect x="1634" y="823" width="1" height="1" fill="#000"/>
<rect x="1633" y="822" width="1" height="3" fill="#000"/>
<rect x="1632" y="821" width="1" height="5" fill="#000"/>
<rect x="1631" y="820" width="1" height="7" fill="#000"/>
</svg></body></html>
